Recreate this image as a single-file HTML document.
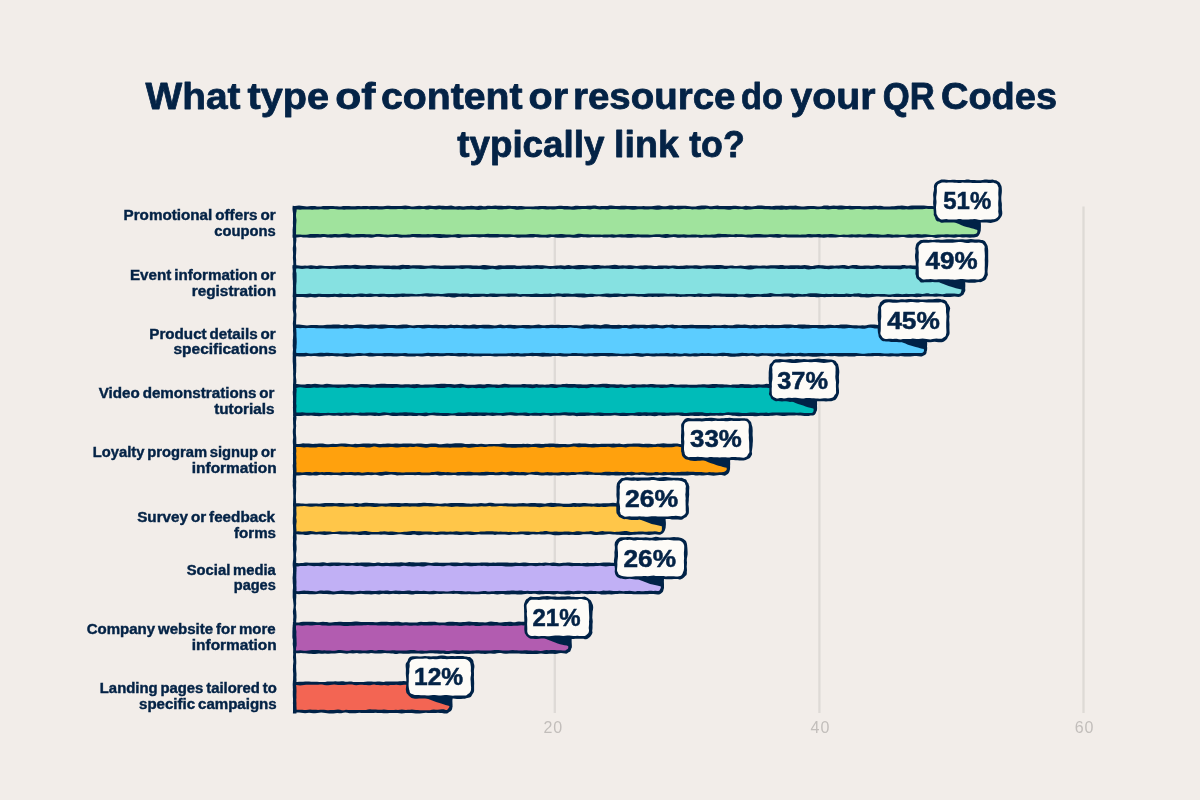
<!DOCTYPE html>
<html lang="en">
<head>
<meta charset="utf-8">
<title>What type of content or resource do your QR Codes typically link to?</title>
<style>
html,body{margin:0;padding:0;background:#f2ede9;}
body{width:1200px;height:800px;overflow:hidden;position:relative;font-family:"Liberation Sans",sans-serif;}
svg{position:absolute;left:0;top:0;display:block;}
text{font-family:"Liberation Sans",sans-serif;}
.title{font-weight:700;font-size:37.5px;fill:#042346;stroke:#042346;stroke-width:0.8px;stroke-linejoin:round;}
.cat{font-weight:700;font-size:14px;fill:#042346;stroke:#042346;stroke-width:0.4px;word-spacing:-1.2px;}
.pct{font-weight:700;font-size:23px;fill:#042346;stroke:#042346;stroke-width:0.5px;}
.tick{font-weight:400;font-size:16px;fill:#c2bebb;text-anchor:middle;letter-spacing:0.9px;}
</style>
</head>
<body>
<svg width="1200" height="800" viewBox="0 0 1200 800">
<defs><filter id="soft" x="-1%" y="-1%" width="102%" height="102%"><feTurbulence type="fractalNoise" baseFrequency="0.45" numOctaves="1" seed="3" result="n"/><feDisplacementMap in="SourceGraphic" in2="n" scale="1.4" xChannelSelector="R" yChannelSelector="G" result="d"/><feGaussianBlur in="d" stdDeviation="0.4"/></filter></defs>
<rect width="1200" height="800" fill="#f2ede9"/>
<g id="title">
<text class="title" y="108.5"><tspan x="145.50" textLength="95.00" lengthAdjust="spacingAndGlyphs">What</tspan> <tspan x="247.50" textLength="81.48" lengthAdjust="spacingAndGlyphs">type</tspan> <tspan x="335.30" textLength="40.18" lengthAdjust="spacingAndGlyphs">of</tspan> <tspan x="381.00" textLength="141.52" lengthAdjust="spacingAndGlyphs">content</tspan> <tspan x="528.50" textLength="39.50" lengthAdjust="spacingAndGlyphs">or</tspan> <tspan x="573.00" textLength="162.51" lengthAdjust="spacingAndGlyphs">resource</tspan> <tspan x="741.00" textLength="42.01" lengthAdjust="spacingAndGlyphs">do</tspan> <tspan x="790.50" textLength="84.98" lengthAdjust="spacingAndGlyphs">your</tspan> <tspan x="882.80" textLength="52.02" lengthAdjust="spacingAndGlyphs">QR</tspan> <tspan x="941.00" textLength="116.04" lengthAdjust="spacingAndGlyphs">Codes</tspan></text>
<text class="title" y="156.7"><tspan x="457.20" textLength="147.29" lengthAdjust="spacingAndGlyphs">typically</tspan> <tspan x="614.00" textLength="64.82" lengthAdjust="spacingAndGlyphs">link</tspan> <tspan x="689.20" textLength="55.57" lengthAdjust="spacingAndGlyphs">to?</tspan></text>
</g>
<g id="grid" stroke="#dedad6" stroke-width="2.3" stroke-linecap="butt">
<line x1="554.8" y1="206.5" x2="554.8" y2="713"/>
<line x1="819.4" y1="206.5" x2="819.4" y2="713"/>
<line x1="1083.5" y1="206.5" x2="1083.5" y2="713"/>
</g>
<g id="ticks">
<text class="tick" x="553.2" y="733.3">20</text>
<text class="tick" x="820.4" y="733.3">40</text>
<text class="tick" x="1084.5" y="733.3">60</text>
</g>
<g id="shapes" filter="url(#soft)">
<path d="M293.1 206.1 L295.0 206.1 L297.0 205.7 L299.0 205.6 L301.0 205.8 L303.0 206.0 L305.0 206.2 L307.0 206.4 L309.0 206.2 L311.0 206.1 L313.0 206.1 L315.0 206.1 L317.0 206.4 L319.0 206.6 L321.0 206.4 L323.0 206.1 L325.0 206.1 L327.0 206.1 L329.1 206.0 L331.1 205.9 L333.1 206.0 L335.1 206.2 L337.1 206.2 L339.1 206.4 L341.1 206.4 L343.1 206.1 L345.1 206.0 L347.1 206.0 L349.1 206.0 L351.1 206.2 L353.1 206.3 L355.1 206.2 L357.1 206.0 L359.1 206.0 L361.1 206.2 L363.1 206.0 L365.1 205.9 L367.1 206.1 L369.1 206.2 L371.1 206.1 L373.1 206.1 L375.1 206.1 L377.1 206.1 L379.1 206.2 L381.1 206.2 L383.1 206.2 L385.1 206.0 L387.1 205.7 L389.1 205.7 L391.1 206.0 L393.1 206.1 L395.1 206.1 L397.2 206.1 L399.2 206.0 L401.2 205.9 L403.2 205.7 L405.2 205.5 L407.2 205.7 L409.2 206.1 L411.2 206.4 L413.2 206.5 L415.2 206.2 L417.2 205.9 L419.2 205.7 L421.2 206.0 L423.2 206.2 L425.2 206.0 L427.2 205.7 L429.2 205.6 L431.2 205.8 L433.2 206.1 L435.2 206.1 L437.2 205.7 L439.2 205.6 L441.2 205.7 L443.2 205.8 L445.2 206.0 L447.2 206.0 L449.2 205.7 L451.2 205.6 L453.2 206.1 L455.2 206.4 L457.2 206.2 L459.2 206.1 L461.2 206.3 L463.2 206.5 L465.3 206.2 L467.3 206.0 L469.3 205.9 L471.3 205.8 L473.3 206.0 L475.3 206.3 L477.3 206.2 L479.3 205.8 L481.3 205.8 L483.3 206.2 L485.3 206.2 L487.3 205.8 L489.3 205.7 L491.3 205.9 L493.3 205.7 L495.3 205.6 L497.3 205.7 L499.3 205.7 L501.3 205.7 L503.3 205.9 L505.3 206.0 L507.3 205.8 L509.3 205.7 L511.3 205.9 L513.3 205.9 L515.3 206.0 L517.3 206.2 L519.3 206.1 L521.3 206.0 L523.3 206.3 L525.3 206.6 L527.3 206.6 L529.3 206.6 L531.3 206.5 L533.4 206.4 L535.4 206.2 L537.4 206.2 L539.4 206.1 L541.4 206.0 L543.4 205.9 L545.4 206.0 L547.4 206.2 L549.4 206.2 L551.4 206.2 L553.4 206.3 L555.4 206.2 L557.4 206.0 L559.4 205.8 L561.4 205.7 L563.4 206.0 L565.4 206.0 L567.4 206.0 L569.4 206.2 L571.4 206.4 L573.4 206.3 L575.4 205.8 L577.4 205.8 L579.4 206.0 L581.4 206.0 L583.4 206.1 L585.4 205.9 L587.4 205.7 L589.4 205.8 L591.4 205.8 L593.4 205.5 L595.4 205.6 L597.4 206.1 L599.4 206.2 L601.5 206.1 L603.5 206.1 L605.5 206.0 L607.5 205.9 L609.5 205.6 L611.5 205.5 L613.5 205.8 L615.5 205.9 L617.5 206.0 L619.5 206.0 L621.5 205.8 L623.5 205.7 L625.5 205.8 L627.5 206.0 L629.5 206.0 L631.5 206.1 L633.5 206.0 L635.5 206.0 L637.5 206.2 L639.5 206.3 L641.5 206.2 L643.5 206.0 L645.5 206.2 L647.5 206.3 L649.5 206.3 L651.5 206.2 L653.5 205.9 L655.5 205.7 L657.5 205.5 L659.5 205.5 L661.5 205.9 L663.5 206.3 L665.5 206.2 L667.5 205.9 L669.5 205.6 L671.6 205.5 L673.6 205.8 L675.6 206.1 L677.6 205.8 L679.6 205.7 L681.6 205.8 L683.6 205.7 L685.6 205.7 L687.6 205.9 L689.6 206.2 L691.6 206.5 L693.6 206.6 L695.6 206.5 L697.6 206.1 L699.6 205.7 L701.6 205.6 L703.6 205.6 L705.6 205.6 L707.6 205.8 L709.6 206.2 L711.6 206.2 L713.6 206.1 L715.6 205.7 L717.6 205.6 L719.6 206.0 L721.6 206.1 L723.6 206.0 L725.6 206.0 L727.6 206.1 L729.6 206.1 L731.6 205.9 L733.6 205.7 L735.6 205.8 L737.6 205.9 L739.7 206.3 L741.7 206.5 L743.7 206.2 L745.7 205.8 L747.7 205.9 L749.7 206.2 L751.7 206.4 L753.7 206.3 L755.7 206.0 L757.7 205.6 L759.7 205.5 L761.7 205.6 L763.7 205.8 L765.7 206.0 L767.7 206.0 L769.7 206.1 L771.7 206.2 L773.7 206.1 L775.7 205.8 L777.7 205.8 L779.7 205.8 L781.7 205.6 L783.7 205.7 L785.7 205.9 L787.7 206.0 L789.7 205.8 L791.7 205.7 L793.7 205.7 L795.7 205.6 L797.7 205.9 L799.7 206.3 L801.7 206.4 L803.7 206.4 L805.7 206.3 L807.8 206.1 L809.8 206.1 L811.8 206.1 L813.8 206.0 L815.8 206.2 L817.8 206.5 L819.8 206.5 L821.8 206.2 L823.8 205.6 L825.8 205.4 L827.8 205.6 L829.8 205.9 L831.8 205.8 L833.8 205.6 L835.8 205.7 L837.8 205.8 L839.8 205.5 L841.8 205.5 L843.8 205.7 L845.8 205.9 L847.8 205.9 L849.8 205.8 L851.8 206.0 L853.8 206.0 L855.8 205.9 L857.8 206.0 L859.8 206.1 L861.8 206.3 L863.8 206.2 L865.8 206.2 L867.8 206.2 L869.8 206.1 L871.8 206.0 L873.8 205.8 L875.9 205.8 L877.9 205.9 L879.9 205.8 L881.9 206.1 L883.9 206.4 L885.9 206.4 L887.9 206.6 L889.9 206.6 L891.9 206.3 L893.9 206.2 L895.9 206.0 L897.9 205.7 L899.9 205.7 L901.9 205.6 L903.9 205.7 L905.9 206.1 L907.9 206.2 L909.9 205.8 L911.9 205.5 L913.9 205.5 L915.9 205.6 L917.9 205.6 L919.9 205.4 L921.9 205.4 L923.9 205.5 L925.9 205.7 L927.9 206.0 L929.9 205.9 L931.9 206.0 L933.9 206.3 L935.9 206.2 L937.9 205.9 L939.9 205.9 L941.9 206.1 L944.0 206.2 L946.0 206.0 L948.0 205.7 L950.0 205.6 L952.0 205.7 L954.0 205.8 L956.0 206.1 L958.0 206.1 L960.0 205.9 L962.0 205.9 L964.0 206.3 L966.0 206.5 L968.0 206.4 L970.0 206.4 L972.0 206.5 L974.0 206.4 L976.0 206.0 L978.0 205.9 L978.9 206.2 L979.7 206.8 L980.0 207.7 L980.2 208.5 L980.3 210.5 L980.2 212.6 L980.2 214.6 L980.3 216.6 L980.5 218.7 L980.7 220.7 L980.7 222.8 L980.9 224.8 L980.9 226.8 L980.6 228.9 L980.5 230.9 L980.3 232.0 L980.1 233.1 L979.6 234.1 L979.0 235.1 L978.3 236.0 L977.3 236.7 L976.2 237.0 L975.1 237.3 L974.0 237.4 L972.0 237.4 L970.0 237.7 L968.0 237.6 L966.0 237.3 L964.0 237.5 L962.0 237.4 L960.0 237.0 L958.0 237.0 L956.0 237.4 L954.0 237.7 L952.0 237.6 L950.0 237.3 L948.0 237.3 L946.0 237.5 L944.0 237.2 L942.0 237.1 L940.0 237.4 L937.9 237.7 L935.9 237.9 L933.9 237.6 L931.9 237.1 L929.9 236.9 L927.9 237.0 L925.9 237.3 L923.9 237.6 L921.9 237.8 L919.9 237.8 L917.9 237.7 L915.9 237.6 L913.9 237.5 L911.9 237.7 L909.9 237.8 L907.9 237.7 L905.9 237.5 L903.9 237.1 L901.9 236.9 L899.9 237.3 L897.9 237.4 L895.9 237.4 L893.9 237.6 L891.9 237.7 L889.9 237.6 L887.9 237.4 L885.9 237.4 L883.9 237.5 L881.9 237.4 L879.9 237.5 L877.9 237.7 L875.9 237.6 L873.9 237.5 L871.9 237.6 L869.8 237.5 L867.8 237.4 L865.8 237.5 L863.8 237.4 L861.8 237.2 L859.8 237.2 L857.8 237.4 L855.8 237.4 L853.8 237.3 L851.8 237.4 L849.8 237.4 L847.8 237.2 L845.8 237.3 L843.8 237.3 L841.8 237.1 L839.8 237.1 L837.8 237.2 L835.8 237.4 L833.8 237.5 L831.8 237.6 L829.8 237.4 L827.8 237.3 L825.8 237.5 L823.8 237.7 L821.8 237.6 L819.8 237.4 L817.8 237.3 L815.8 237.2 L813.8 237.2 L811.8 237.4 L809.8 237.4 L807.8 237.3 L805.8 237.5 L803.8 237.6 L801.7 237.4 L799.7 237.4 L797.7 237.5 L795.7 237.5 L793.7 237.6 L791.7 237.4 L789.7 237.4 L787.7 237.6 L785.7 237.3 L783.7 237.1 L781.7 237.3 L779.7 237.7 L777.7 237.7 L775.7 237.4 L773.7 237.4 L771.7 237.2 L769.7 237.1 L767.7 237.3 L765.7 237.6 L763.7 237.6 L761.7 237.5 L759.7 237.5 L757.7 237.5 L755.7 237.4 L753.7 237.5 L751.7 237.7 L749.7 237.6 L747.7 237.4 L745.7 237.2 L743.7 237.1 L741.7 237.0 L739.7 237.0 L737.7 237.1 L735.6 237.2 L733.6 237.0 L731.6 236.9 L729.6 237.1 L727.6 237.3 L725.6 237.3 L723.6 237.3 L721.6 237.3 L719.6 237.4 L717.6 237.5 L715.6 237.7 L713.6 237.8 L711.6 237.6 L709.6 237.5 L707.6 237.6 L705.6 237.6 L703.6 237.5 L701.6 237.7 L699.6 237.7 L697.6 237.3 L695.6 237.4 L693.6 237.5 L691.6 237.5 L689.6 237.4 L687.6 237.4 L685.6 237.7 L683.6 237.6 L681.6 237.5 L679.6 237.7 L677.6 237.7 L675.6 237.2 L673.6 237.0 L671.6 237.2 L669.6 237.5 L667.5 237.7 L665.5 237.9 L663.5 237.8 L661.5 237.4 L659.5 237.1 L657.5 237.0 L655.5 237.1 L653.5 237.1 L651.5 237.2 L649.5 237.4 L647.5 237.5 L645.5 237.6 L643.5 237.6 L641.5 237.5 L639.5 237.3 L637.5 237.3 L635.5 237.4 L633.5 237.5 L631.5 237.7 L629.5 237.8 L627.5 237.7 L625.5 237.4 L623.5 237.5 L621.5 237.5 L619.5 237.3 L617.5 237.3 L615.5 237.6 L613.5 237.8 L611.5 237.5 L609.5 237.2 L607.5 237.5 L605.5 237.6 L603.5 237.4 L601.5 237.1 L599.5 237.2 L597.4 237.3 L595.4 237.2 L593.4 237.1 L591.4 237.3 L589.4 237.4 L587.4 237.4 L585.4 237.3 L583.4 237.2 L581.4 237.1 L579.4 237.5 L577.4 237.7 L575.4 237.8 L573.4 237.7 L571.4 237.4 L569.4 237.2 L567.4 237.3 L565.4 237.6 L563.4 237.8 L561.4 237.8 L559.4 237.7 L557.4 237.7 L555.4 237.6 L553.4 237.1 L551.4 237.0 L549.4 237.5 L547.4 237.7 L545.4 237.6 L543.4 237.4 L541.4 237.4 L539.4 237.4 L537.4 237.2 L535.4 237.1 L533.4 237.4 L531.3 237.4 L529.3 237.6 L527.3 237.6 L525.3 237.5 L523.3 237.5 L521.3 237.6 L519.3 237.8 L517.3 237.7 L515.3 237.3 L513.3 237.0 L511.3 237.1 L509.3 237.2 L507.3 237.4 L505.3 237.5 L503.3 237.2 L501.3 237.1 L499.3 237.3 L497.3 237.5 L495.3 237.5 L493.3 237.5 L491.3 237.5 L489.3 237.4 L487.3 237.2 L485.3 237.2 L483.3 237.1 L481.3 237.2 L479.3 237.4 L477.3 237.3 L475.3 237.1 L473.3 237.1 L471.3 237.1 L469.3 237.1 L467.3 237.2 L465.3 237.2 L463.2 237.2 L461.2 237.5 L459.2 237.9 L457.2 237.8 L455.2 237.3 L453.2 237.2 L451.2 237.3 L449.2 237.5 L447.2 237.7 L445.2 237.7 L443.2 237.7 L441.2 238.0 L439.2 238.0 L437.2 237.7 L435.2 237.4 L433.2 237.2 L431.2 237.2 L429.2 237.4 L427.2 237.6 L425.2 237.6 L423.2 237.5 L421.2 237.4 L419.2 237.5 L417.2 237.6 L415.2 237.3 L413.2 237.1 L411.2 237.3 L409.2 237.5 L407.2 237.6 L405.2 237.6 L403.2 237.6 L401.2 237.7 L399.2 237.6 L397.2 237.1 L395.1 237.0 L393.1 237.0 L391.1 237.1 L389.1 237.3 L387.1 237.4 L385.1 237.2 L383.1 237.1 L381.1 236.9 L379.1 236.7 L377.1 236.8 L375.1 237.1 L373.1 237.6 L371.1 237.7 L369.1 237.4 L367.1 237.3 L365.1 237.4 L363.1 237.3 L361.1 237.3 L359.1 237.4 L357.1 237.4 L355.1 237.4 L353.1 237.5 L351.1 237.6 L349.1 237.7 L347.1 237.5 L345.1 237.3 L343.1 237.3 L341.1 237.2 L339.1 237.4 L337.1 237.4 L335.1 237.3 L333.1 237.6 L331.1 237.7 L329.1 237.6 L327.1 237.4 L325.0 237.1 L323.0 237.1 L321.0 237.4 L319.0 237.6 L317.0 237.6 L315.0 237.8 L313.0 237.8 L311.0 237.8 L309.0 237.7 L307.0 237.5 L305.0 237.6 L303.0 237.4 L301.0 237.1 L299.0 237.2 L297.0 237.6 L295.0 237.8 L292.6 237.8 L292.5 235.4 L292.8 233.5 L292.9 231.5 L292.7 229.6 L292.8 227.6 L293.1 225.6 L293.3 223.7 L293.5 221.7 L293.6 219.7 L293.5 217.8 L293.3 215.8 L293.0 213.8 L292.9 211.9 L292.9 209.9 L292.9 208.0Z" fill="#042346"/>
<path d="M296.4 209.6 L298.1 209.6 L300.1 209.7 L302.1 209.5 L304.1 209.5 L306.1 209.5 L308.1 209.4 L310.1 209.5 L312.1 209.8 L314.1 209.6 L316.1 209.5 L318.1 209.5 L320.1 209.3 L322.1 209.3 L324.1 209.5 L326.1 209.5 L328.1 209.4 L330.1 209.0 L332.1 208.9 L334.1 209.1 L336.1 209.3 L338.1 209.4 L340.1 209.5 L342.1 209.6 L344.1 209.7 L346.1 209.6 L348.1 209.4 L350.1 209.4 L352.1 209.6 L354.1 209.6 L356.1 209.4 L358.1 209.2 L360.1 209.2 L362.1 209.3 L364.1 209.3 L366.1 209.2 L368.1 209.1 L370.1 209.4 L372.1 209.6 L374.1 209.4 L376.1 209.3 L378.1 209.4 L380.1 209.4 L382.1 209.4 L384.1 209.2 L386.1 209.1 L388.1 209.1 L390.1 209.3 L392.1 209.3 L394.1 209.2 L396.1 209.2 L398.1 209.1 L400.1 208.9 L402.1 209.0 L404.1 209.2 L406.1 209.2 L408.1 209.1 L410.1 209.1 L412.1 209.2 L414.1 209.3 L416.1 209.2 L418.1 209.3 L420.1 209.3 L422.1 209.0 L424.1 208.9 L426.1 209.4 L428.1 209.4 L430.1 209.0 L432.1 208.9 L434.1 209.3 L436.1 209.4 L438.1 209.2 L440.1 209.1 L442.1 209.4 L444.1 209.5 L446.1 209.4 L448.1 209.5 L450.1 209.5 L452.1 209.5 L454.1 209.4 L456.1 209.6 L458.1 209.7 L460.1 209.6 L462.1 209.7 L464.1 209.7 L466.1 209.6 L468.2 209.5 L470.2 209.4 L472.2 209.4 L474.2 209.5 L476.2 209.8 L478.2 209.9 L480.2 209.7 L482.2 209.5 L484.2 209.6 L486.2 209.4 L488.2 209.0 L490.2 208.9 L492.2 209.0 L494.2 209.0 L496.2 209.1 L498.2 209.4 L500.2 209.6 L502.2 209.4 L504.2 209.2 L506.2 209.2 L508.2 209.0 L510.2 208.8 L512.2 208.9 L514.2 209.3 L516.2 209.7 L518.2 209.7 L520.2 209.6 L522.2 209.4 L524.2 209.2 L526.2 209.1 L528.2 209.1 L530.2 209.1 L532.2 209.2 L534.2 209.3 L536.2 209.3 L538.2 209.4 L540.2 209.3 L542.2 209.1 L544.2 209.2 L546.2 209.6 L548.2 209.5 L550.2 209.3 L552.2 209.5 L554.2 209.4 L556.2 209.3 L558.2 209.1 L560.2 208.9 L562.2 208.9 L564.2 209.4 L566.2 209.6 L568.2 209.4 L570.2 209.5 L572.2 209.7 L574.2 209.8 L576.2 209.6 L578.2 209.3 L580.2 209.2 L582.2 209.1 L584.2 209.0 L586.2 209.1 L588.2 209.2 L590.2 209.4 L592.2 209.1 L594.2 208.8 L596.2 208.9 L598.2 209.3 L600.2 209.4 L602.2 209.3 L604.2 209.3 L606.2 209.4 L608.2 209.4 L610.2 209.0 L612.2 208.9 L614.2 208.9 L616.2 208.9 L618.2 209.3 L620.2 209.5 L622.2 209.4 L624.2 209.4 L626.2 209.2 L628.2 209.2 L630.2 209.6 L632.2 209.8 L634.2 209.8 L636.2 209.5 L638.2 209.2 L640.2 209.3 L642.2 209.3 L644.2 209.5 L646.2 209.5 L648.2 209.4 L650.2 209.3 L652.2 209.3 L654.2 209.5 L656.2 209.7 L658.2 209.8 L660.2 209.6 L662.2 209.3 L664.2 209.2 L666.2 209.2 L668.2 209.2 L670.2 209.6 L672.2 209.6 L674.2 209.1 L676.2 209.0 L678.2 209.4 L680.2 209.3 L682.2 208.9 L684.2 208.8 L686.2 208.9 L688.2 209.0 L690.2 209.1 L692.2 209.4 L694.2 209.3 L696.2 209.2 L698.2 209.4 L700.2 209.4 L702.2 209.3 L704.2 209.2 L706.2 208.8 L708.2 208.8 L710.2 209.2 L712.2 209.3 L714.2 209.1 L716.2 209.1 L718.2 209.2 L720.2 209.3 L722.2 209.2 L724.2 209.2 L726.2 209.4 L728.2 209.7 L730.2 209.7 L732.2 209.3 L734.2 209.0 L736.2 209.1 L738.2 209.3 L740.2 209.1 L742.2 209.0 L744.2 209.4 L746.2 209.7 L748.2 209.6 L750.2 209.4 L752.2 209.2 L754.2 209.0 L756.2 209.1 L758.2 209.1 L760.2 209.0 L762.2 209.0 L764.2 209.2 L766.2 209.2 L768.2 209.3 L770.2 209.6 L772.2 209.6 L774.2 209.7 L776.2 209.5 L778.2 209.5 L780.2 209.7 L782.2 209.7 L784.2 209.6 L786.2 209.7 L788.2 209.6 L790.2 209.3 L792.2 209.4 L794.2 209.5 L796.2 209.4 L798.2 209.4 L800.2 209.5 L802.2 209.5 L804.2 209.5 L806.2 209.5 L808.3 209.3 L810.3 209.0 L812.3 208.9 L814.3 209.0 L816.3 209.3 L818.3 209.2 L820.3 209.1 L822.3 209.1 L824.3 209.1 L826.3 209.2 L828.3 209.4 L830.3 209.3 L832.3 209.0 L834.3 209.0 L836.3 209.1 L838.3 209.4 L840.3 209.6 L842.3 209.4 L844.3 209.3 L846.3 209.1 L848.3 209.1 L850.3 209.4 L852.3 209.4 L854.3 209.3 L856.3 209.1 L858.3 209.0 L860.3 209.0 L862.3 209.2 L864.3 209.4 L866.3 209.3 L868.3 209.3 L870.3 209.5 L872.3 209.5 L874.3 209.2 L876.3 209.1 L878.3 209.4 L880.3 209.5 L882.3 209.6 L884.3 209.6 L886.3 209.6 L888.3 209.6 L890.3 209.5 L892.3 209.4 L894.3 209.4 L896.3 209.4 L898.3 209.3 L900.3 209.3 L902.3 209.6 L904.3 209.5 L906.3 209.3 L908.3 209.4 L910.3 209.6 L912.3 209.5 L914.3 209.3 L916.3 209.3 L918.3 209.2 L920.3 209.3 L922.3 209.3 L924.3 208.9 L926.3 208.8 L928.3 208.9 L930.3 209.0 L932.3 208.9 L934.3 209.0 L936.3 209.4 L938.3 209.5 L940.3 209.3 L942.3 209.3 L944.3 209.0 L946.3 209.0 L948.3 209.2 L950.3 209.4 L952.3 209.3 L954.3 209.2 L956.3 209.2 L958.3 209.2 L960.3 209.2 L962.3 209.0 L964.3 209.2 L966.3 209.3 L968.3 209.2 L970.3 209.2 L972.3 209.0 L974.3 208.9 L976.3 209.3 L977.0 209.7 L977.4 210.3 L977.3 212.4 L977.2 214.4 L977.3 216.5 L977.1 218.5 L977.0 220.6 L977.4 222.6 L977.7 224.7 L977.6 226.7 L977.3 228.8 L977.4 230.8 L977.3 231.9 L976.9 233.0 L975.9 233.7 L974.8 234.0 L973.8 234.2 L971.8 234.2 L969.8 234.2 L967.8 234.3 L965.8 234.3 L963.8 234.3 L961.8 234.3 L959.8 234.4 L957.8 234.5 L955.8 234.3 L953.8 234.4 L951.8 234.6 L949.8 234.4 L947.8 234.2 L945.8 234.3 L943.8 234.4 L941.8 234.4 L939.8 234.4 L937.8 234.6 L935.8 234.8 L933.8 235.0 L931.8 235.0 L929.8 234.8 L927.8 234.6 L925.8 234.3 L923.8 234.2 L921.8 234.4 L919.8 234.2 L917.8 234.0 L915.8 234.2 L913.8 234.4 L911.8 234.4 L909.8 234.2 L907.8 234.4 L905.8 234.7 L903.8 234.8 L901.8 234.8 L899.8 234.7 L897.8 234.6 L895.8 234.6 L893.8 234.7 L891.8 234.6 L889.8 234.2 L887.8 234.1 L885.8 234.5 L883.8 234.8 L881.8 234.8 L879.8 234.6 L877.8 234.3 L875.8 234.2 L873.8 234.3 L871.8 234.0 L869.8 233.7 L867.8 234.0 L865.8 234.4 L863.8 234.5 L861.8 234.4 L859.9 234.2 L857.9 234.3 L855.9 234.6 L853.9 234.5 L851.9 234.2 L849.9 234.4 L847.9 234.8 L845.9 234.8 L843.9 234.6 L841.9 234.7 L839.9 234.9 L837.9 234.8 L835.9 234.6 L833.9 234.3 L831.9 234.1 L829.9 234.0 L827.9 234.3 L825.9 234.3 L823.9 234.3 L821.9 234.4 L819.9 234.1 L817.9 234.0 L815.9 234.2 L813.9 234.2 L811.9 234.3 L809.9 234.1 L807.9 234.0 L805.9 234.4 L803.9 234.5 L801.9 234.6 L799.9 234.7 L797.9 234.6 L795.9 234.4 L793.9 234.4 L791.9 234.6 L789.9 234.6 L787.9 234.4 L785.9 234.3 L783.9 234.4 L781.9 234.5 L779.9 234.2 L777.9 234.0 L775.9 234.1 L773.9 234.3 L771.9 234.3 L769.9 234.3 L767.9 234.5 L765.9 234.6 L763.9 234.6 L761.9 234.3 L759.9 234.0 L757.9 234.0 L755.9 234.1 L753.9 234.3 L751.9 234.5 L749.9 234.5 L747.9 234.5 L745.9 234.7 L743.9 234.5 L741.9 234.2 L739.9 234.3 L737.9 234.2 L735.9 234.1 L733.9 234.4 L731.9 234.4 L729.9 234.3 L727.9 234.2 L725.9 234.0 L723.9 234.0 L721.9 234.1 L719.9 233.8 L717.9 233.8 L715.9 234.2 L713.9 234.4 L711.9 234.5 L709.9 234.7 L707.9 234.7 L705.9 234.5 L703.9 234.7 L701.9 234.9 L699.9 234.8 L697.9 234.7 L695.9 234.6 L693.9 234.4 L691.9 234.5 L689.9 234.8 L687.9 234.7 L685.9 234.4 L683.9 234.3 L681.9 234.4 L679.9 234.4 L677.9 234.4 L675.9 234.3 L673.9 234.3 L671.9 234.5 L669.9 234.4 L667.9 234.0 L665.9 234.0 L663.9 234.3 L661.9 234.4 L659.9 234.3 L657.9 234.3 L655.9 234.3 L653.9 234.6 L651.9 234.8 L649.9 234.7 L647.9 234.6 L645.9 234.5 L643.9 234.5 L641.9 234.4 L639.9 234.4 L637.9 234.3 L635.9 234.4 L634.0 234.3 L632.0 234.1 L630.0 234.1 L628.0 234.0 L626.0 234.2 L624.0 234.5 L622.0 234.3 L620.0 234.2 L618.0 234.6 L616.0 234.7 L614.0 234.4 L612.0 234.3 L610.0 234.4 L608.0 234.4 L606.0 234.4 L604.0 234.6 L602.0 234.7 L600.0 234.4 L598.0 234.4 L596.0 234.5 L594.0 234.6 L592.0 234.6 L590.0 234.4 L588.0 234.2 L586.0 234.2 L584.0 234.2 L582.0 234.0 L580.0 233.8 L578.0 233.8 L576.0 234.2 L574.0 234.7 L572.0 234.7 L570.0 234.5 L568.0 234.5 L566.0 234.5 L564.0 234.2 L562.0 234.0 L560.0 234.0 L558.0 234.2 L556.0 234.3 L554.0 234.5 L552.0 234.5 L550.0 234.3 L548.0 234.4 L546.0 234.7 L544.0 234.7 L542.0 234.7 L540.0 234.5 L538.0 234.3 L536.0 234.2 L534.0 234.1 L532.0 233.9 L530.0 233.9 L528.0 234.3 L526.0 234.6 L524.0 234.5 L522.0 234.4 L520.0 234.5 L518.0 234.6 L516.0 234.6 L514.0 234.7 L512.0 234.5 L510.0 234.2 L508.0 234.2 L506.0 234.3 L504.0 234.2 L502.0 234.3 L500.0 234.3 L498.0 234.1 L496.0 234.0 L494.0 234.0 L492.0 234.0 L490.0 233.9 L488.0 233.7 L486.0 234.0 L484.0 234.2 L482.0 234.2 L480.0 234.3 L478.0 234.2 L476.0 234.2 L474.0 234.2 L472.0 234.3 L470.0 234.4 L468.0 234.4 L466.0 234.4 L464.0 234.4 L462.0 234.5 L460.0 234.2 L458.0 234.0 L456.0 234.2 L454.0 234.6 L452.0 234.7 L450.0 234.6 L448.0 234.6 L446.0 234.5 L444.0 234.2 L442.0 234.2 L440.0 234.0 L438.0 233.9 L436.0 234.1 L434.0 234.1 L432.0 234.2 L430.0 234.2 L428.0 234.1 L426.0 234.2 L424.0 234.3 L422.0 234.3 L420.0 234.1 L418.0 233.9 L416.0 234.0 L414.0 234.0 L412.0 234.1 L410.0 234.4 L408.1 234.6 L406.1 234.8 L404.1 234.8 L402.1 234.8 L400.1 234.6 L398.1 234.2 L396.1 234.1 L394.1 234.2 L392.1 234.4 L390.1 234.6 L388.1 234.7 L386.1 234.6 L384.1 234.5 L382.1 234.3 L380.1 234.0 L378.1 233.9 L376.1 234.0 L374.1 234.4 L372.1 234.4 L370.1 234.3 L368.1 234.3 L366.1 234.3 L364.1 234.1 L362.1 234.0 L360.1 234.1 L358.1 234.0 L356.1 234.1 L354.1 234.4 L352.1 234.4 L350.1 234.0 L348.1 233.6 L346.1 233.6 L344.1 233.8 L342.1 234.0 L340.1 234.3 L338.1 234.3 L336.1 234.1 L334.1 234.0 L332.1 234.2 L330.1 234.3 L328.1 234.4 L326.1 234.3 L324.1 234.0 L322.1 234.1 L320.1 234.3 L318.1 234.1 L316.1 234.0 L314.1 234.1 L312.1 234.1 L310.1 234.1 L308.1 234.5 L306.1 234.7 L304.1 234.7 L302.1 234.7 L300.1 234.5 L298.1 234.4 L296.0 234.4 L295.7 232.2 L295.6 230.1 L295.5 228.1 L295.5 226.0 L295.4 223.9 L295.5 221.8 L295.9 219.7 L296.0 217.7 L295.8 215.6 L295.8 213.5 L296.3 211.4Z" fill="#a0e39d"/>
<path d="M292.6 265.1 L295.0 265.2 L297.0 265.3 L299.0 265.4 L301.0 265.7 L303.0 265.8 L305.0 265.6 L307.0 265.7 L309.0 265.6 L311.0 265.3 L313.0 265.4 L315.0 265.8 L317.0 265.9 L319.0 265.6 L321.0 265.4 L323.0 265.7 L325.0 266.0 L327.0 266.0 L329.0 266.0 L331.0 265.9 L333.0 265.9 L335.0 265.8 L337.0 265.5 L339.0 265.4 L341.0 265.3 L343.0 265.2 L345.0 265.1 L347.0 265.1 L349.0 265.2 L351.0 265.2 L353.0 264.9 L355.0 264.7 L357.0 264.9 L359.0 265.2 L360.9 265.4 L362.9 265.6 L364.9 265.5 L366.9 265.1 L368.9 264.9 L370.9 265.0 L372.9 265.2 L374.9 265.3 L376.9 265.4 L378.9 265.5 L380.9 265.6 L382.9 265.5 L384.9 265.6 L386.9 265.6 L388.9 265.5 L390.9 265.7 L392.9 265.6 L394.9 265.6 L396.9 265.8 L398.9 265.5 L400.9 264.9 L402.9 264.8 L404.9 265.0 L406.9 265.0 L408.9 265.1 L410.9 265.4 L412.9 265.3 L414.9 265.3 L416.9 265.2 L418.9 265.2 L420.9 265.2 L422.9 265.4 L424.9 265.7 L426.9 265.8 L428.9 265.7 L430.9 265.4 L432.9 265.2 L434.9 265.3 L436.9 265.5 L438.9 265.6 L440.9 265.7 L442.9 265.7 L444.9 265.4 L446.9 265.4 L448.9 265.4 L450.9 265.5 L452.9 265.5 L454.9 265.4 L456.9 265.4 L458.9 265.5 L460.9 265.3 L462.9 265.2 L464.9 265.2 L466.9 265.2 L468.9 265.2 L470.9 265.3 L472.9 265.5 L474.9 265.6 L476.9 265.6 L478.9 265.8 L480.9 265.5 L482.9 265.1 L484.9 265.0 L486.9 265.2 L488.9 265.6 L490.9 265.7 L492.9 265.7 L494.8 265.9 L496.8 265.8 L498.8 265.3 L500.8 265.3 L502.8 265.5 L504.8 265.5 L506.8 265.3 L508.8 265.2 L510.8 265.3 L512.8 265.3 L514.8 265.3 L516.8 265.7 L518.8 265.8 L520.8 265.7 L522.8 265.6 L524.8 265.5 L526.8 265.4 L528.8 265.3 L530.8 265.5 L532.8 265.6 L534.8 265.2 L536.8 265.1 L538.8 265.2 L540.8 265.3 L542.8 265.2 L544.8 265.4 L546.8 265.8 L548.8 265.9 L550.8 265.9 L552.8 265.9 L554.8 265.8 L556.8 265.6 L558.8 265.4 L560.8 265.3 L562.8 265.6 L564.8 265.7 L566.8 265.2 L568.8 265.1 L570.8 265.4 L572.8 265.7 L574.8 265.6 L576.8 265.2 L578.8 265.1 L580.8 265.1 L582.8 265.1 L584.8 265.2 L586.8 265.3 L588.8 265.6 L590.8 265.6 L592.8 265.3 L594.8 265.0 L596.8 264.9 L598.8 265.1 L600.8 265.4 L602.8 265.6 L604.8 265.8 L606.8 265.5 L608.8 265.4 L610.8 265.3 L612.8 265.1 L614.8 264.8 L616.8 265.0 L618.8 265.5 L620.8 265.6 L622.8 265.3 L624.8 265.4 L626.8 265.4 L628.7 265.3 L630.7 265.3 L632.7 265.4 L634.7 265.7 L636.7 265.9 L638.7 265.8 L640.7 265.6 L642.7 265.4 L644.7 265.2 L646.7 265.3 L648.7 265.5 L650.7 265.6 L652.7 265.7 L654.7 265.9 L656.7 265.9 L658.7 265.6 L660.7 265.5 L662.7 265.4 L664.7 265.4 L666.7 265.6 L668.7 265.7 L670.7 265.7 L672.7 265.6 L674.7 265.6 L676.7 265.8 L678.7 265.9 L680.7 265.8 L682.7 265.7 L684.7 265.5 L686.7 265.3 L688.7 265.4 L690.7 265.5 L692.7 265.4 L694.7 265.3 L696.7 265.2 L698.7 265.5 L700.7 265.8 L702.7 265.8 L704.7 265.5 L706.7 265.3 L708.7 265.2 L710.7 265.2 L712.7 265.3 L714.7 265.2 L716.7 265.0 L718.7 265.0 L720.7 265.0 L722.7 265.3 L724.7 265.7 L726.7 265.8 L728.7 265.7 L730.7 265.4 L732.7 265.6 L734.7 266.0 L736.7 266.0 L738.7 265.7 L740.7 265.5 L742.7 265.7 L744.7 266.0 L746.7 265.8 L748.7 265.4 L750.7 265.2 L752.7 265.4 L754.7 265.6 L756.7 265.6 L758.7 265.8 L760.7 265.7 L762.6 265.5 L764.6 265.6 L766.6 265.8 L768.6 265.6 L770.6 265.3 L772.6 265.2 L774.6 265.3 L776.6 265.2 L778.6 265.2 L780.6 265.1 L782.6 265.1 L784.6 265.5 L786.6 265.6 L788.6 265.4 L790.6 265.3 L792.6 265.3 L794.6 265.2 L796.6 265.2 L798.6 265.3 L800.6 265.4 L802.6 265.2 L804.6 265.1 L806.6 265.3 L808.6 265.6 L810.6 265.9 L812.6 266.0 L814.6 265.6 L816.6 265.3 L818.6 265.1 L820.6 265.2 L822.6 265.3 L824.6 265.6 L826.6 265.8 L828.6 265.7 L830.6 265.6 L832.6 265.6 L834.6 265.7 L836.6 265.6 L838.6 265.4 L840.6 265.2 L842.6 265.0 L844.6 265.1 L846.6 265.4 L848.6 265.9 L850.6 265.6 L852.6 265.1 L854.6 264.9 L856.6 265.0 L858.6 265.4 L860.6 265.7 L862.6 265.7 L864.6 265.6 L866.6 265.5 L868.6 265.6 L870.6 265.8 L872.6 265.8 L874.6 265.5 L876.6 265.1 L878.6 265.1 L880.6 265.4 L882.6 265.7 L884.6 265.6 L886.6 265.5 L888.6 265.4 L890.6 265.4 L892.6 265.4 L894.6 265.4 L896.5 265.4 L898.5 265.6 L900.5 265.5 L902.5 265.1 L904.5 265.1 L906.5 265.5 L908.5 265.5 L910.5 265.2 L912.5 265.4 L914.5 265.6 L916.5 265.4 L918.5 265.5 L920.5 265.8 L922.5 265.7 L924.5 265.6 L926.5 265.5 L928.5 265.6 L930.5 265.5 L932.5 265.4 L934.5 265.4 L936.5 265.2 L938.5 264.9 L940.5 265.1 L942.5 265.3 L944.5 265.1 L946.5 265.2 L948.5 265.4 L950.5 265.2 L952.5 265.4 L954.5 265.8 L956.5 265.6 L958.5 265.2 L960.5 265.2 L962.5 265.4 L963.5 265.6 L964.2 266.2 L964.8 267.0 L965.2 267.9 L965.3 270.0 L965.3 272.0 L965.3 274.1 L965.2 276.1 L965.2 278.1 L965.2 280.2 L965.2 282.2 L965.3 284.2 L965.3 286.3 L965.2 288.3 L965.3 290.4 L965.0 291.5 L964.4 292.5 L964.0 293.5 L963.5 294.5 L962.6 295.2 L961.6 295.8 L960.7 296.4 L959.6 296.8 L958.5 297.0 L956.5 296.8 L954.5 296.6 L952.5 296.8 L950.5 297.0 L948.5 297.0 L946.5 297.0 L944.5 297.0 L942.5 296.6 L940.5 296.4 L938.5 296.6 L936.5 296.8 L934.5 296.7 L932.5 296.5 L930.5 296.5 L928.5 296.6 L926.5 296.6 L924.5 296.5 L922.5 296.6 L920.5 296.9 L918.5 297.1 L916.5 297.2 L914.5 297.0 L912.5 296.8 L910.5 296.8 L908.5 297.0 L906.5 297.0 L904.5 297.0 L902.5 297.1 L900.5 297.0 L898.5 297.0 L896.5 297.0 L894.5 296.9 L892.5 296.8 L890.6 297.0 L888.6 297.0 L886.6 296.8 L884.6 296.8 L882.6 296.7 L880.6 296.7 L878.6 296.6 L876.6 296.5 L874.6 296.8 L872.6 297.1 L870.6 297.3 L868.6 297.4 L866.6 297.4 L864.6 297.2 L862.6 297.3 L860.6 297.2 L858.6 296.8 L856.6 296.8 L854.6 296.7 L852.6 296.6 L850.6 296.9 L848.6 296.9 L846.6 296.8 L844.6 296.9 L842.6 297.0 L840.6 297.0 L838.6 297.0 L836.6 297.1 L834.6 296.9 L832.6 296.8 L830.6 297.0 L828.6 296.9 L826.6 297.0 L824.6 297.3 L822.6 297.1 L820.6 296.9 L818.6 297.2 L816.6 297.3 L814.6 297.0 L812.6 296.9 L810.6 296.9 L808.6 296.8 L806.6 296.6 L804.6 296.7 L802.6 296.7 L800.6 296.7 L798.6 296.8 L796.6 296.9 L794.6 297.3 L792.6 297.4 L790.6 296.9 L788.6 296.6 L786.6 296.6 L784.6 296.6 L782.6 296.7 L780.6 296.6 L778.6 296.6 L776.6 296.6 L774.6 296.5 L772.6 296.6 L770.6 296.9 L768.6 297.0 L766.6 297.0 L764.6 297.0 L762.6 297.0 L760.6 296.8 L758.7 296.8 L756.7 296.8 L754.7 297.0 L752.7 297.3 L750.7 297.5 L748.7 297.5 L746.7 297.2 L744.7 297.1 L742.7 296.8 L740.7 296.7 L738.7 296.7 L736.7 296.9 L734.7 297.2 L732.7 297.1 L730.7 296.9 L728.7 297.1 L726.7 297.1 L724.7 296.7 L722.7 296.7 L720.7 296.7 L718.7 296.6 L716.7 296.6 L714.7 296.5 L712.7 296.6 L710.7 296.9 L708.7 297.0 L706.7 296.8 L704.7 296.7 L702.7 296.8 L700.7 296.9 L698.7 296.8 L696.7 296.8 L694.7 296.9 L692.7 296.7 L690.7 296.4 L688.7 296.6 L686.7 296.8 L684.7 296.7 L682.7 296.8 L680.7 296.9 L678.7 296.8 L676.7 296.9 L674.7 296.6 L672.7 296.4 L670.7 296.4 L668.7 296.6 L666.7 296.5 L664.7 296.6 L662.7 296.7 L660.7 296.7 L658.7 297.0 L656.7 296.8 L654.7 296.8 L652.7 296.9 L650.7 296.8 L648.7 296.8 L646.7 297.0 L644.7 296.9 L642.7 296.7 L640.7 296.6 L638.7 296.7 L636.7 296.6 L634.7 296.3 L632.7 296.2 L630.7 296.2 L628.7 296.3 L626.7 296.7 L624.8 296.9 L622.8 296.7 L620.8 296.5 L618.8 296.7 L616.8 297.0 L614.8 297.1 L612.8 297.1 L610.8 297.2 L608.8 297.3 L606.8 297.0 L604.8 296.8 L602.8 296.7 L600.8 296.4 L598.8 296.3 L596.8 296.4 L594.8 296.6 L592.8 296.9 L590.8 297.0 L588.8 297.0 L586.8 297.3 L584.8 297.5 L582.8 297.5 L580.8 297.3 L578.8 297.2 L576.8 296.9 L574.8 296.8 L572.8 296.7 L570.8 296.7 L568.8 296.7 L566.8 296.8 L564.8 297.1 L562.8 297.0 L560.8 296.6 L558.8 296.6 L556.8 296.6 L554.8 296.7 L552.8 296.8 L550.8 296.9 L548.8 296.9 L546.8 296.9 L544.8 297.0 L542.8 297.1 L540.8 297.1 L538.8 297.1 L536.8 297.1 L534.8 297.1 L532.8 297.1 L530.8 296.9 L528.8 296.8 L526.8 296.7 L524.8 296.5 L522.8 296.5 L520.8 296.9 L518.8 296.8 L516.8 296.6 L514.8 296.8 L512.8 296.8 L510.8 296.7 L508.8 296.9 L506.8 296.7 L504.8 296.5 L502.8 296.6 L500.8 296.5 L498.8 296.7 L496.8 297.0 L494.8 297.1 L492.8 296.9 L490.9 296.7 L488.9 296.7 L486.9 296.9 L484.9 296.7 L482.9 296.6 L480.9 296.8 L478.9 297.1 L476.9 297.0 L474.9 296.9 L472.9 297.0 L470.9 297.2 L468.9 297.1 L466.9 296.8 L464.9 296.8 L462.9 296.9 L460.9 296.7 L458.9 296.7 L456.9 297.1 L454.9 297.4 L452.9 297.4 L450.9 297.2 L448.9 296.8 L446.9 296.9 L444.9 296.7 L442.9 296.5 L440.9 296.5 L438.9 296.3 L436.9 296.3 L434.9 296.4 L432.9 296.6 L430.9 296.7 L428.9 296.7 L426.9 296.5 L424.9 296.3 L422.9 296.4 L420.9 296.3 L418.9 296.4 L416.9 296.6 L414.9 296.5 L412.9 296.4 L410.9 296.6 L408.9 296.8 L406.9 296.7 L404.9 296.8 L402.9 296.9 L400.9 296.8 L398.9 297.0 L396.9 297.3 L394.9 297.2 L392.9 296.9 L390.9 297.0 L388.9 297.2 L386.9 297.0 L384.9 296.7 L382.9 296.8 L380.9 297.1 L378.9 296.9 L376.9 296.6 L374.9 296.6 L372.9 296.8 L370.9 297.0 L368.9 297.0 L366.9 296.9 L364.9 296.8 L362.9 296.9 L360.9 297.0 L359.0 296.8 L357.0 296.8 L355.0 297.1 L353.0 297.3 L351.0 297.1 L349.0 296.9 L347.0 297.0 L345.0 297.0 L343.0 296.9 L341.0 297.2 L339.0 297.3 L337.0 297.0 L335.0 296.8 L333.0 296.9 L331.0 297.1 L329.0 297.3 L327.0 297.2 L325.0 296.9 L323.0 297.0 L321.0 296.9 L319.0 296.8 L317.0 297.2 L315.0 297.4 L313.0 297.3 L311.0 297.0 L309.0 297.2 L307.0 297.4 L305.0 297.3 L303.0 297.1 L301.0 297.0 L299.0 296.9 L297.0 297.1 L295.0 297.1 L292.8 297.0 L292.9 294.9 L293.2 292.9 L293.4 291.0 L293.2 289.0 L293.0 287.0 L293.2 285.1 L293.3 283.1 L293.0 281.1 L292.8 279.2 L292.8 277.2 L293.0 275.3 L293.2 273.3 L293.0 271.3 L292.7 269.4 L292.4 267.4Z" fill="#042346"/>
<path d="M295.7 268.5 L298.1 268.4 L300.1 268.7 L302.1 268.9 L304.1 268.8 L306.1 268.5 L308.1 268.5 L310.1 268.9 L312.1 268.9 L314.1 268.7 L316.1 268.9 L318.1 268.9 L320.1 268.8 L322.1 268.5 L324.1 268.4 L326.1 268.6 L328.1 268.8 L330.1 268.9 L332.1 268.8 L334.1 268.8 L336.1 268.9 L338.1 268.8 L340.1 268.7 L342.1 268.8 L344.2 268.8 L346.2 268.7 L348.2 268.8 L350.2 268.7 L352.2 268.5 L354.2 268.7 L356.2 269.0 L358.2 269.0 L360.2 268.8 L362.2 268.8 L364.2 268.8 L366.2 268.8 L368.2 268.9 L370.2 269.0 L372.2 268.8 L374.2 268.7 L376.2 268.8 L378.2 268.8 L380.2 268.5 L382.2 268.6 L384.2 268.9 L386.2 269.0 L388.2 269.1 L390.2 269.1 L392.2 269.2 L394.2 269.2 L396.2 269.2 L398.2 269.3 L400.2 269.4 L402.2 269.1 L404.2 268.8 L406.2 268.9 L408.2 269.0 L410.2 268.7 L412.2 268.5 L414.2 268.6 L416.2 268.8 L418.2 268.8 L420.2 268.9 L422.2 269.0 L424.2 268.9 L426.2 268.7 L428.2 268.5 L430.2 268.4 L432.2 268.5 L434.2 268.7 L436.2 268.7 L438.2 268.7 L440.3 268.9 L442.3 269.1 L444.3 268.9 L446.3 269.0 L448.3 269.1 L450.3 269.1 L452.3 269.1 L454.3 268.9 L456.3 268.6 L458.3 268.5 L460.3 268.7 L462.3 268.9 L464.3 268.8 L466.3 268.6 L468.3 268.6 L470.3 268.8 L472.3 269.0 L474.3 268.9 L476.3 268.9 L478.3 269.1 L480.3 269.1 L482.3 269.3 L484.3 269.5 L486.3 269.4 L488.3 269.3 L490.3 269.0 L492.3 268.8 L494.3 269.1 L496.3 269.4 L498.3 269.4 L500.3 269.3 L502.3 269.1 L504.3 269.0 L506.3 269.1 L508.3 269.1 L510.3 269.0 L512.3 269.0 L514.3 268.8 L516.3 268.9 L518.3 269.1 L520.3 268.9 L522.3 268.7 L524.3 268.8 L526.3 269.0 L528.3 269.1 L530.3 269.0 L532.3 268.8 L534.4 268.8 L536.4 268.8 L538.4 268.7 L540.4 268.9 L542.4 268.9 L544.4 268.6 L546.4 268.5 L548.4 268.8 L550.4 269.0 L552.4 268.8 L554.4 268.8 L556.4 269.0 L558.4 268.8 L560.4 268.7 L562.4 269.1 L564.4 269.3 L566.4 269.1 L568.4 268.9 L570.4 268.9 L572.4 268.8 L574.4 268.9 L576.4 269.2 L578.4 269.3 L580.4 269.2 L582.4 268.9 L584.4 268.9 L586.4 268.8 L588.4 268.5 L590.4 268.6 L592.4 269.0 L594.4 269.2 L596.4 269.0 L598.4 268.8 L600.4 268.7 L602.4 268.6 L604.4 268.4 L606.4 268.4 L608.4 268.5 L610.4 268.8 L612.4 269.1 L614.4 269.1 L616.4 269.1 L618.4 269.0 L620.4 268.8 L622.4 268.7 L624.4 268.6 L626.4 268.7 L628.5 268.9 L630.5 269.1 L632.5 268.9 L634.5 268.6 L636.5 268.6 L638.5 268.7 L640.5 269.0 L642.5 269.2 L644.5 269.3 L646.5 269.1 L648.5 268.8 L650.5 268.8 L652.5 268.9 L654.5 269.1 L656.5 269.0 L658.5 268.9 L660.5 269.0 L662.5 268.9 L664.5 268.6 L666.5 268.7 L668.5 268.9 L670.5 268.5 L672.5 268.3 L674.5 268.7 L676.5 269.1 L678.5 269.0 L680.5 269.0 L682.5 269.1 L684.5 269.0 L686.5 268.8 L688.5 268.7 L690.5 268.6 L692.5 268.6 L694.5 268.7 L696.5 268.8 L698.5 269.0 L700.5 268.9 L702.5 268.6 L704.5 268.5 L706.5 268.7 L708.5 268.6 L710.5 268.5 L712.5 268.8 L714.5 269.1 L716.5 269.1 L718.5 269.0 L720.5 268.7 L722.5 268.7 L724.6 269.0 L726.6 268.9 L728.6 268.5 L730.6 268.3 L732.6 268.5 L734.6 268.6 L736.6 268.4 L738.6 268.4 L740.6 268.5 L742.6 268.7 L744.6 268.9 L746.6 269.2 L748.6 269.4 L750.6 269.4 L752.6 269.2 L754.6 268.8 L756.6 268.5 L758.6 268.5 L760.6 268.5 L762.6 268.4 L764.6 268.5 L766.6 268.8 L768.6 268.7 L770.6 268.5 L772.6 268.6 L774.6 268.6 L776.6 268.7 L778.6 268.9 L780.6 268.9 L782.6 268.9 L784.6 268.9 L786.6 268.8 L788.6 269.0 L790.6 269.0 L792.6 269.0 L794.6 269.0 L796.6 268.8 L798.6 268.9 L800.6 269.1 L802.6 268.9 L804.6 268.8 L806.6 269.2 L808.6 269.4 L810.6 269.3 L812.6 269.1 L814.6 268.9 L816.6 268.6 L818.7 268.4 L820.7 268.4 L822.7 268.7 L824.7 269.0 L826.7 269.1 L828.7 269.2 L830.7 269.0 L832.7 268.7 L834.7 268.6 L836.7 268.6 L838.7 268.7 L840.7 268.5 L842.7 268.4 L844.7 268.8 L846.7 269.1 L848.7 268.9 L850.7 268.6 L852.7 268.6 L854.7 268.7 L856.7 268.9 L858.7 269.1 L860.7 269.1 L862.7 268.9 L864.7 268.9 L866.7 268.7 L868.7 268.7 L870.7 269.0 L872.7 269.0 L874.7 268.8 L876.7 268.7 L878.7 268.6 L880.7 268.6 L882.7 268.9 L884.7 269.1 L886.7 268.9 L888.7 268.7 L890.7 268.9 L892.7 269.1 L894.7 269.0 L896.7 268.9 L898.7 269.2 L900.7 269.2 L902.7 268.8 L904.7 268.6 L906.7 268.7 L908.7 268.6 L910.7 268.8 L912.7 269.1 L914.8 269.2 L916.8 268.8 L918.8 268.5 L920.8 268.3 L922.8 268.7 L924.8 269.2 L926.8 269.4 L928.8 269.3 L930.8 269.1 L932.8 269.2 L934.8 269.3 L936.8 269.3 L938.8 269.2 L940.8 269.0 L942.8 268.7 L944.8 268.8 L946.8 269.0 L948.8 268.7 L950.8 268.5 L952.8 268.7 L954.8 268.9 L956.8 268.7 L958.8 268.6 L960.8 269.0 L961.3 269.3 L961.7 269.8 L961.7 271.8 L961.6 273.9 L961.5 275.9 L961.8 278.0 L962.1 280.0 L961.8 282.1 L961.7 284.1 L961.8 286.2 L961.6 288.2 L961.4 290.2 L961.2 291.2 L960.9 292.2 L960.4 293.2 L959.5 293.8 L958.3 294.0 L956.3 293.8 L954.3 293.5 L952.3 293.5 L950.3 293.6 L948.3 293.5 L946.3 293.6 L944.3 294.0 L942.3 294.3 L940.3 294.1 L938.3 293.8 L936.3 293.6 L934.3 293.7 L932.3 294.0 L930.3 293.9 L928.3 293.3 L926.3 293.3 L924.3 293.8 L922.3 294.1 L920.3 293.8 L918.3 293.5 L916.3 293.6 L914.3 293.9 L912.3 293.9 L910.3 294.0 L908.3 294.0 L906.3 293.8 L904.3 294.0 L902.3 294.3 L900.3 294.1 L898.3 293.7 L896.3 293.7 L894.3 294.0 L892.3 294.2 L890.3 294.4 L888.3 294.4 L886.3 294.2 L884.3 294.1 L882.3 294.1 L880.3 294.0 L878.3 293.9 L876.3 294.0 L874.3 293.9 L872.3 293.8 L870.3 293.9 L868.3 293.9 L866.3 293.7 L864.3 293.9 L862.3 293.9 L860.3 293.4 L858.3 293.2 L856.3 293.4 L854.3 293.5 L852.3 293.9 L850.3 294.0 L848.3 293.7 L846.3 293.6 L844.3 293.9 L842.3 294.1 L840.3 294.1 L838.3 294.0 L836.3 293.7 L834.3 293.7 L832.3 294.0 L830.3 294.1 L828.3 293.9 L826.3 293.8 L824.3 294.0 L822.3 293.9 L820.3 293.7 L818.3 293.5 L816.3 293.3 L814.3 293.2 L812.3 293.2 L810.3 293.3 L808.3 293.6 L806.3 293.9 L804.3 294.1 L802.3 294.2 L800.3 294.0 L798.3 293.8 L796.3 293.8 L794.3 293.9 L792.2 293.5 L790.2 293.4 L788.2 293.5 L786.2 293.6 L784.2 293.6 L782.2 293.7 L780.2 293.9 L778.2 294.0 L776.2 293.9 L774.2 293.7 L772.2 293.3 L770.2 293.1 L768.2 293.4 L766.2 293.7 L764.2 293.8 L762.2 294.0 L760.2 294.2 L758.2 294.1 L756.2 293.9 L754.2 293.9 L752.2 294.0 L750.2 294.0 L748.2 293.8 L746.2 293.8 L744.2 294.2 L742.2 294.3 L740.2 294.3 L738.2 294.2 L736.2 293.8 L734.2 293.8 L732.2 293.8 L730.2 293.7 L728.2 293.8 L726.2 293.7 L724.2 293.7 L722.2 293.7 L720.2 293.5 L718.2 293.5 L716.2 293.6 L714.2 293.5 L712.2 293.4 L710.2 293.7 L708.2 294.0 L706.2 294.0 L704.2 294.0 L702.2 293.8 L700.2 293.5 L698.2 293.6 L696.2 294.0 L694.2 294.0 L692.2 293.9 L690.2 294.0 L688.2 294.1 L686.2 294.1 L684.2 294.2 L682.2 294.2 L680.2 294.2 L678.2 294.1 L676.2 293.8 L674.2 293.7 L672.2 293.7 L670.2 293.8 L668.2 293.9 L666.2 293.7 L664.2 293.5 L662.2 293.6 L660.2 293.5 L658.2 293.6 L656.2 293.5 L654.2 293.4 L652.2 293.4 L650.2 293.4 L648.2 293.6 L646.2 293.8 L644.2 293.9 L642.2 293.9 L640.2 294.0 L638.2 294.0 L636.2 293.9 L634.2 293.8 L632.2 293.8 L630.2 293.8 L628.2 293.8 L626.2 293.7 L624.2 294.0 L622.2 294.0 L620.2 293.7 L618.2 293.4 L616.2 293.4 L614.2 293.4 L612.2 293.7 L610.2 293.8 L608.2 293.6 L606.2 293.6 L604.2 293.8 L602.2 294.0 L600.2 294.2 L598.2 294.3 L596.2 294.2 L594.2 294.1 L592.2 293.8 L590.2 293.8 L588.2 294.1 L586.2 294.1 L584.2 293.6 L582.2 293.4 L580.2 293.5 L578.2 293.6 L576.2 293.5 L574.2 293.8 L572.2 293.9 L570.2 293.7 L568.2 293.5 L566.2 293.5 L564.2 293.6 L562.2 293.7 L560.2 293.4 L558.2 293.2 L556.2 293.4 L554.2 293.9 L552.2 293.9 L550.2 293.6 L548.2 293.7 L546.2 293.8 L544.2 293.8 L542.2 293.9 L540.2 294.1 L538.2 293.8 L536.2 293.6 L534.2 293.7 L532.2 293.9 L530.2 294.1 L528.2 294.0 L526.2 294.0 L524.2 294.0 L522.2 294.1 L520.2 294.2 L518.2 294.0 L516.2 293.6 L514.2 293.5 L512.2 293.6 L510.2 293.6 L508.2 293.5 L506.2 293.7 L504.2 293.8 L502.2 293.7 L500.2 293.8 L498.2 293.8 L496.2 293.8 L494.2 293.6 L492.2 293.4 L490.2 293.6 L488.2 293.9 L486.2 294.0 L484.2 293.8 L482.2 293.8 L480.2 293.8 L478.2 293.7 L476.2 293.7 L474.2 293.8 L472.2 293.9 L470.2 293.9 L468.2 293.6 L466.2 293.5 L464.2 293.5 L462.2 293.6 L460.1 293.8 L458.1 293.6 L456.1 293.3 L454.1 293.3 L452.1 293.3 L450.1 293.2 L448.1 293.3 L446.1 293.6 L444.1 293.8 L442.1 293.9 L440.1 293.9 L438.1 293.8 L436.1 293.8 L434.1 293.8 L432.1 293.6 L430.1 293.4 L428.1 293.3 L426.1 293.2 L424.1 293.4 L422.1 293.8 L420.1 293.9 L418.1 294.0 L416.1 294.2 L414.1 294.1 L412.1 293.8 L410.1 293.7 L408.1 293.8 L406.1 293.7 L404.1 293.5 L402.1 293.6 L400.1 293.8 L398.1 293.8 L396.1 293.8 L394.1 294.0 L392.1 294.1 L390.1 294.0 L388.1 294.0 L386.1 294.1 L384.1 293.8 L382.1 293.7 L380.1 293.8 L378.1 293.9 L376.1 293.9 L374.1 293.9 L372.1 293.7 L370.1 293.6 L368.1 293.8 L366.1 293.9 L364.1 293.8 L362.1 293.6 L360.1 293.5 L358.1 293.7 L356.1 293.9 L354.1 294.0 L352.1 294.2 L350.1 294.0 L348.1 293.8 L346.1 294.0 L344.1 294.1 L342.1 293.7 L340.1 293.6 L338.1 293.9 L336.1 294.0 L334.1 293.8 L332.1 293.9 L330.1 294.0 L328.1 293.9 L326.1 293.9 L324.1 293.9 L322.1 293.9 L320.1 293.7 L318.1 293.7 L316.1 294.0 L314.1 294.1 L312.1 293.9 L310.1 293.6 L308.1 293.7 L306.1 293.9 L304.1 294.0 L302.1 294.1 L300.1 294.0 L298.1 293.9 L295.9 293.9 L295.8 291.7 L295.8 289.6 L295.9 287.5 L296.0 285.4 L296.2 283.4 L296.5 281.3 L296.5 279.2 L296.5 277.1 L296.5 275.0 L296.4 273.0 L295.9 270.9Z" fill="#86e1e1"/>
<path d="M292.9 324.7 L295.0 324.6 L297.0 324.4 L299.0 324.4 L301.0 324.7 L303.0 324.9 L305.0 325.2 L307.0 325.4 L309.0 325.3 L311.0 325.1 L313.0 325.1 L315.0 325.1 L317.0 325.1 L319.0 325.3 L321.0 325.2 L323.0 325.2 L325.0 325.0 L327.0 324.7 L329.0 324.7 L331.0 324.8 L333.0 324.6 L335.0 324.5 L337.0 324.5 L339.0 324.6 L341.0 325.0 L343.0 325.0 L345.0 324.6 L347.0 324.5 L349.0 324.9 L351.0 325.1 L353.0 324.9 L355.0 324.7 L356.9 324.6 L358.9 324.5 L360.9 324.5 L362.9 324.7 L364.9 324.9 L366.9 324.9 L368.9 324.7 L370.9 324.6 L372.9 324.5 L374.9 324.6 L376.9 324.8 L378.9 324.8 L380.9 324.6 L382.9 324.5 L384.9 324.5 L386.9 324.7 L388.9 325.0 L390.9 325.0 L392.9 325.0 L394.9 325.1 L396.9 325.2 L398.9 325.1 L400.9 324.8 L402.9 324.6 L404.9 324.4 L406.9 324.5 L408.9 324.9 L410.9 325.3 L412.9 325.4 L414.9 325.2 L416.9 324.9 L418.9 324.9 L420.9 324.9 L422.9 324.9 L424.9 324.8 L426.9 324.7 L428.9 324.8 L430.9 325.1 L432.9 325.0 L434.9 324.8 L436.9 324.8 L438.9 325.0 L440.9 325.1 L442.9 324.9 L444.9 325.1 L446.9 325.3 L448.9 324.9 L450.9 324.6 L452.9 324.9 L454.9 324.9 L456.9 324.8 L458.9 324.9 L460.9 325.2 L462.9 325.1 L464.9 324.8 L466.9 325.0 L468.9 325.2 L470.9 325.0 L472.9 324.6 L474.9 324.6 L476.9 324.9 L478.9 325.0 L480.9 324.9 L482.8 324.7 L484.8 324.7 L486.8 324.7 L488.8 324.7 L490.8 324.9 L492.8 325.2 L494.8 325.4 L496.8 325.2 L498.8 324.8 L500.8 324.6 L502.8 324.9 L504.8 325.2 L506.8 325.0 L508.8 324.8 L510.8 324.8 L512.8 324.9 L514.8 325.0 L516.8 325.2 L518.8 325.3 L520.8 325.2 L522.8 325.0 L524.8 324.9 L526.8 324.9 L528.8 325.1 L530.8 325.3 L532.8 325.3 L534.8 325.1 L536.8 324.8 L538.8 324.6 L540.8 324.9 L542.8 325.2 L544.8 325.2 L546.8 325.1 L548.8 325.1 L550.8 324.8 L552.8 324.8 L554.8 324.9 L556.8 324.7 L558.8 324.8 L560.8 325.0 L562.8 325.0 L564.8 325.1 L566.8 325.1 L568.8 324.9 L570.8 325.0 L572.8 325.2 L574.8 325.3 L576.8 325.3 L578.8 325.5 L580.8 325.5 L582.8 325.1 L584.8 324.6 L586.8 324.4 L588.8 324.6 L590.8 324.8 L592.8 324.8 L594.8 324.6 L596.8 324.7 L598.8 325.0 L600.8 325.2 L602.8 324.8 L604.8 324.3 L606.8 324.3 L608.8 324.6 L610.7 324.9 L612.7 324.9 L614.7 324.9 L616.7 324.9 L618.7 324.8 L620.7 325.0 L622.7 325.3 L624.7 325.1 L626.7 325.1 L628.7 325.3 L630.7 325.0 L632.7 324.6 L634.7 324.6 L636.7 324.7 L638.7 324.8 L640.7 324.8 L642.7 324.7 L644.7 324.8 L646.7 325.0 L648.7 325.0 L650.7 324.8 L652.7 324.6 L654.7 324.5 L656.7 324.6 L658.7 325.0 L660.7 325.3 L662.7 325.3 L664.7 325.0 L666.7 324.8 L668.7 324.9 L670.7 324.8 L672.7 324.6 L674.7 324.9 L676.7 325.1 L678.7 325.2 L680.7 325.2 L682.7 325.0 L684.7 324.9 L686.7 325.1 L688.7 325.1 L690.7 324.7 L692.7 324.7 L694.7 324.9 L696.7 324.9 L698.7 325.0 L700.7 325.0 L702.7 325.0 L704.7 324.9 L706.7 324.9 L708.7 325.0 L710.7 325.2 L712.7 325.2 L714.7 325.1 L716.7 325.2 L718.7 325.3 L720.7 325.2 L722.7 325.1 L724.7 324.8 L726.7 325.0 L728.7 325.2 L730.7 325.2 L732.7 325.2 L734.7 324.8 L736.6 324.4 L738.6 324.5 L740.6 324.8 L742.6 324.7 L744.6 324.6 L746.6 324.7 L748.6 325.0 L750.6 325.2 L752.6 325.0 L754.6 324.8 L756.6 325.1 L758.6 325.2 L760.6 325.1 L762.6 325.1 L764.6 325.0 L766.6 324.8 L768.6 325.0 L770.6 324.9 L772.6 324.8 L774.6 325.0 L776.6 325.1 L778.6 325.1 L780.6 325.0 L782.6 324.7 L784.6 324.6 L786.6 324.6 L788.6 324.6 L790.6 324.6 L792.6 324.8 L794.6 325.0 L796.6 324.9 L798.6 324.6 L800.6 324.6 L802.6 324.5 L804.6 324.6 L806.6 324.7 L808.6 324.7 L810.6 324.9 L812.6 324.9 L814.6 324.9 L816.6 325.1 L818.6 325.1 L820.6 325.0 L822.6 325.0 L824.6 325.2 L826.6 325.1 L828.6 324.7 L830.6 324.7 L832.6 325.1 L834.6 325.2 L836.6 325.1 L838.6 325.0 L840.6 324.6 L842.6 324.4 L844.6 324.4 L846.6 324.5 L848.6 324.8 L850.6 324.9 L852.6 325.2 L854.6 325.2 L856.6 325.3 L858.6 325.5 L860.6 325.4 L862.5 325.2 L864.5 325.4 L866.5 325.3 L868.5 324.8 L870.5 324.5 L872.5 324.4 L874.5 324.4 L876.5 324.8 L878.5 325.2 L880.5 325.2 L882.5 324.8 L884.5 324.5 L886.5 324.3 L888.5 324.4 L890.5 324.6 L892.5 324.8 L894.5 325.0 L896.5 325.2 L898.5 325.2 L900.5 325.0 L902.5 324.7 L904.5 324.7 L906.5 325.0 L908.5 325.2 L910.5 325.3 L912.5 325.4 L914.5 325.2 L916.5 324.7 L918.5 324.7 L920.5 324.8 L922.5 324.9 L924.5 324.8 L925.5 324.9 L926.4 325.5 L926.8 326.4 L926.7 327.4 L926.6 329.4 L926.9 331.5 L927.2 333.5 L927.3 335.5 L927.3 337.6 L927.1 339.6 L926.8 341.7 L926.8 343.7 L926.9 345.7 L927.2 347.8 L927.1 349.8 L926.7 350.9 L926.6 352.0 L926.4 353.2 L925.8 354.2 L924.9 355.0 L923.8 355.5 L922.8 356.0 L921.7 356.4 L920.5 356.4 L918.5 356.3 L916.5 355.9 L914.5 355.9 L912.5 356.2 L910.5 356.6 L908.5 356.6 L906.5 356.4 L904.5 356.4 L902.5 356.2 L900.5 356.1 L898.5 356.4 L896.5 356.4 L894.5 356.2 L892.5 356.3 L890.5 356.6 L888.5 356.6 L886.5 356.2 L884.5 356.1 L882.5 356.3 L880.5 356.2 L878.5 356.1 L876.5 356.0 L874.5 356.1 L872.5 356.2 L870.5 356.2 L868.5 356.3 L866.5 356.2 L864.5 356.1 L862.5 356.1 L860.5 356.0 L858.5 355.9 L856.6 356.1 L854.6 356.5 L852.6 356.6 L850.6 356.6 L848.6 356.4 L846.6 356.2 L844.6 356.3 L842.6 356.4 L840.6 356.5 L838.6 356.4 L836.6 356.2 L834.6 356.1 L832.6 356.3 L830.6 356.3 L828.6 356.1 L826.6 356.1 L824.6 356.2 L822.6 356.2 L820.6 356.2 L818.6 356.5 L816.6 356.7 L814.6 356.8 L812.6 356.8 L810.6 356.5 L808.6 356.3 L806.6 356.2 L804.6 356.4 L802.6 356.6 L800.6 356.3 L798.6 356.1 L796.6 356.2 L794.6 356.1 L792.6 356.1 L790.6 356.3 L788.6 356.4 L786.6 356.4 L784.6 356.5 L782.6 356.5 L780.6 356.4 L778.6 356.2 L776.6 356.1 L774.6 356.3 L772.6 356.4 L770.6 356.2 L768.6 355.9 L766.6 355.8 L764.6 355.8 L762.6 355.8 L760.6 356.1 L758.6 356.4 L756.6 356.4 L754.6 356.0 L752.6 355.8 L750.6 355.8 L748.6 356.0 L746.6 356.2 L744.6 356.1 L742.6 356.1 L740.6 356.3 L738.6 356.4 L736.6 356.5 L734.6 356.7 L732.6 356.8 L730.7 356.7 L728.7 356.4 L726.7 355.9 L724.7 356.0 L722.7 356.3 L720.7 356.1 L718.7 356.1 L716.7 356.3 L714.7 356.3 L712.7 356.0 L710.7 356.0 L708.7 356.1 L706.7 356.1 L704.7 356.0 L702.7 356.0 L700.7 356.1 L698.7 356.2 L696.7 356.5 L694.7 356.5 L692.7 356.2 L690.7 356.4 L688.7 356.4 L686.7 356.2 L684.7 356.1 L682.7 356.2 L680.7 356.4 L678.7 356.4 L676.7 356.3 L674.7 356.4 L672.7 356.5 L670.7 356.5 L668.7 356.4 L666.7 356.2 L664.7 356.2 L662.7 356.3 L660.7 356.3 L658.7 356.3 L656.7 356.3 L654.7 356.4 L652.7 356.5 L650.7 356.3 L648.7 356.1 L646.7 356.0 L644.7 356.3 L642.7 356.7 L640.7 356.7 L638.7 356.4 L636.7 356.2 L634.7 356.1 L632.7 356.0 L630.7 356.1 L628.7 356.3 L626.7 356.2 L624.7 356.3 L622.7 356.3 L620.7 356.1 L618.7 356.1 L616.7 356.2 L614.7 356.3 L612.7 356.3 L610.7 356.3 L608.7 356.4 L606.8 356.2 L604.8 356.1 L602.8 356.1 L600.8 356.1 L598.8 356.2 L596.8 356.5 L594.8 356.5 L592.8 356.2 L590.8 356.1 L588.8 356.2 L586.8 356.5 L584.8 356.6 L582.8 356.2 L580.8 355.9 L578.8 356.0 L576.8 356.1 L574.8 356.1 L572.8 356.0 L570.8 355.9 L568.8 356.1 L566.8 356.4 L564.8 356.4 L562.8 356.4 L560.8 356.2 L558.8 355.9 L556.8 355.9 L554.8 356.0 L552.8 356.1 L550.8 356.4 L548.8 356.5 L546.8 356.4 L544.8 356.5 L542.8 356.7 L540.8 356.5 L538.8 356.2 L536.8 356.0 L534.8 356.1 L532.8 356.2 L530.8 356.0 L528.8 355.9 L526.8 356.1 L524.8 356.5 L522.8 356.6 L520.8 356.5 L518.8 356.3 L516.8 356.2 L514.8 356.5 L512.8 356.6 L510.8 356.3 L508.8 356.1 L506.8 356.2 L504.8 356.3 L502.8 356.2 L500.8 356.2 L498.8 356.3 L496.8 356.5 L494.8 356.4 L492.8 356.2 L490.8 356.1 L488.8 356.1 L486.8 356.1 L484.8 355.9 L482.8 356.1 L480.9 356.4 L478.9 356.3 L476.9 356.2 L474.9 356.3 L472.9 356.4 L470.9 356.2 L468.9 356.0 L466.9 356.2 L464.9 356.4 L462.9 356.3 L460.9 356.5 L458.9 356.4 L456.9 356.2 L454.9 356.1 L452.9 356.1 L450.9 356.0 L448.9 355.8 L446.9 355.8 L444.9 355.9 L442.9 356.2 L440.9 356.3 L438.9 356.3 L436.9 356.1 L434.9 356.2 L432.9 356.5 L430.9 356.4 L428.9 356.1 L426.9 356.1 L424.9 356.2 L422.9 356.4 L420.9 356.4 L418.9 356.2 L416.9 356.1 L414.9 356.4 L412.9 356.5 L410.9 356.4 L408.9 356.4 L406.9 356.4 L404.9 356.2 L402.9 356.0 L400.9 356.1 L398.9 356.3 L396.9 356.4 L394.9 356.4 L392.9 356.5 L390.9 356.3 L388.9 356.2 L386.9 356.3 L384.9 356.4 L382.9 356.3 L380.9 356.0 L378.9 356.0 L376.9 356.1 L374.9 356.3 L372.9 356.4 L370.9 356.6 L368.9 356.5 L366.9 356.1 L364.9 355.8 L362.9 355.8 L360.9 356.0 L358.9 356.0 L356.9 356.0 L355.0 356.3 L353.0 356.4 L351.0 356.4 L349.0 356.7 L347.0 356.9 L345.0 356.7 L343.0 356.4 L341.0 356.2 L339.0 356.3 L337.0 356.5 L335.0 356.3 L333.0 355.9 L331.0 356.1 L329.0 356.3 L327.0 356.1 L325.0 356.3 L323.0 356.5 L321.0 356.4 L319.0 356.4 L317.0 356.2 L315.0 356.0 L313.0 356.1 L311.0 356.3 L309.0 356.1 L307.0 356.1 L305.0 356.5 L303.0 356.6 L301.0 356.5 L299.0 356.4 L297.0 356.3 L295.0 356.4 L292.9 356.4 L293.1 354.3 L293.2 352.4 L293.2 350.4 L293.2 348.4 L293.2 346.5 L293.5 344.5 L293.5 342.6 L293.3 340.6 L293.2 338.6 L293.2 336.7 L293.4 334.7 L293.3 332.8 L293.0 330.8 L293.2 328.8 L293.1 326.9Z" fill="#042346"/>
<path d="M296.0 328.1 L298.1 328.1 L300.1 328.3 L302.1 327.9 L304.1 327.9 L306.1 328.2 L308.1 327.9 L310.1 327.9 L312.1 328.0 L314.1 328.0 L316.1 328.2 L318.1 328.3 L320.1 328.3 L322.1 328.2 L324.1 328.3 L326.1 328.5 L328.1 328.6 L330.1 328.6 L332.1 328.5 L334.1 328.4 L336.1 328.5 L338.1 328.4 L340.1 328.2 L342.2 328.3 L344.2 328.5 L346.2 328.4 L348.2 328.3 L350.2 328.4 L352.2 328.4 L354.2 328.0 L356.2 328.0 L358.2 328.1 L360.2 328.2 L362.2 328.3 L364.2 328.5 L366.2 328.6 L368.2 328.7 L370.2 328.6 L372.2 328.6 L374.2 328.3 L376.2 328.1 L378.2 328.4 L380.2 328.7 L382.2 328.7 L384.2 328.6 L386.2 328.2 L388.2 328.0 L390.2 328.0 L392.2 328.1 L394.2 328.3 L396.2 328.5 L398.2 328.4 L400.2 328.4 L402.2 328.4 L404.2 328.3 L406.2 328.2 L408.2 327.9 L410.2 327.7 L412.2 328.0 L414.2 328.2 L416.2 328.0 L418.2 327.8 L420.2 328.0 L422.2 328.4 L424.2 328.5 L426.2 328.2 L428.2 328.1 L430.2 328.1 L432.3 328.2 L434.3 328.2 L436.3 328.3 L438.3 328.4 L440.3 328.2 L442.3 328.2 L444.3 328.5 L446.3 328.5 L448.3 328.3 L450.3 328.0 L452.3 328.1 L454.3 328.3 L456.3 328.1 L458.3 328.0 L460.3 328.0 L462.3 328.3 L464.3 328.6 L466.3 328.6 L468.3 328.5 L470.3 328.4 L472.3 328.5 L474.3 328.6 L476.3 328.7 L478.3 328.5 L480.3 328.1 L482.3 328.2 L484.3 328.5 L486.3 328.5 L488.3 328.4 L490.3 328.6 L492.3 328.5 L494.3 328.3 L496.3 328.2 L498.3 328.1 L500.3 328.1 L502.3 328.3 L504.3 328.2 L506.3 328.1 L508.3 328.2 L510.3 328.3 L512.3 328.4 L514.3 328.7 L516.3 328.6 L518.3 328.3 L520.4 328.1 L522.4 328.1 L524.4 328.3 L526.4 328.5 L528.4 328.6 L530.4 328.4 L532.4 328.3 L534.4 328.3 L536.4 328.2 L538.4 328.2 L540.4 328.2 L542.4 328.0 L544.4 328.0 L546.4 328.3 L548.4 328.3 L550.4 328.1 L552.4 328.0 L554.4 328.0 L556.4 328.1 L558.4 328.2 L560.4 328.1 L562.4 328.2 L564.4 328.1 L566.4 328.0 L568.4 327.7 L570.4 327.5 L572.4 327.8 L574.4 328.0 L576.4 328.0 L578.4 328.2 L580.4 328.5 L582.4 328.7 L584.4 328.7 L586.4 328.5 L588.4 328.4 L590.4 328.3 L592.4 328.1 L594.4 328.4 L596.4 328.6 L598.4 328.6 L600.4 328.7 L602.4 328.6 L604.4 328.5 L606.4 328.4 L608.4 328.5 L610.5 328.6 L612.5 328.7 L614.5 328.7 L616.5 328.8 L618.5 328.7 L620.5 328.5 L622.5 328.0 L624.5 327.9 L626.5 328.1 L628.5 328.4 L630.5 328.7 L632.5 328.6 L634.5 328.2 L636.5 328.3 L638.5 328.4 L640.5 328.1 L642.5 328.0 L644.5 328.5 L646.5 328.4 L648.5 328.1 L650.5 328.3 L652.5 328.5 L654.5 328.3 L656.5 328.1 L658.5 328.1 L660.5 328.3 L662.5 328.4 L664.5 328.2 L666.5 327.8 L668.5 327.6 L670.5 327.8 L672.5 328.3 L674.5 328.4 L676.5 328.2 L678.5 328.1 L680.5 328.0 L682.5 328.2 L684.5 328.6 L686.5 328.5 L688.5 328.2 L690.5 328.2 L692.5 328.2 L694.5 328.2 L696.5 328.5 L698.5 328.6 L700.6 328.5 L702.6 328.6 L704.6 328.6 L706.6 328.6 L708.6 328.7 L710.6 328.6 L712.6 328.1 L714.6 327.9 L716.6 328.1 L718.6 328.0 L720.6 327.9 L722.6 328.1 L724.6 328.3 L726.6 328.2 L728.6 328.1 L730.6 328.2 L732.6 328.2 L734.6 328.3 L736.6 328.3 L738.6 328.1 L740.6 327.9 L742.6 327.9 L744.6 327.9 L746.6 328.0 L748.6 328.3 L750.6 328.4 L752.6 328.3 L754.6 328.4 L756.6 328.4 L758.6 328.3 L760.6 328.3 L762.6 327.9 L764.6 327.8 L766.6 328.0 L768.6 328.2 L770.6 328.2 L772.6 328.3 L774.6 328.3 L776.6 328.3 L778.6 328.3 L780.6 328.1 L782.6 327.9 L784.6 327.9 L786.6 328.2 L788.7 328.3 L790.7 327.9 L792.7 327.8 L794.7 328.0 L796.7 328.1 L798.7 328.2 L800.7 328.5 L802.7 328.7 L804.7 328.5 L806.7 328.4 L808.7 328.5 L810.7 328.3 L812.7 328.0 L814.7 327.9 L816.7 328.1 L818.7 328.4 L820.7 328.4 L822.7 328.5 L824.7 328.4 L826.7 328.3 L828.7 328.2 L830.7 328.0 L832.7 328.1 L834.7 328.1 L836.7 328.1 L838.7 328.2 L840.7 328.3 L842.7 328.4 L844.7 328.4 L846.7 328.2 L848.7 328.0 L850.7 328.1 L852.7 328.3 L854.7 328.5 L856.7 328.4 L858.7 328.2 L860.7 328.5 L862.7 328.8 L864.7 328.7 L866.7 328.3 L868.7 327.8 L870.7 327.8 L872.7 328.0 L874.7 328.4 L876.7 328.6 L878.8 328.6 L880.8 328.4 L882.8 328.0 L884.8 327.9 L886.8 328.0 L888.8 328.0 L890.8 328.0 L892.8 327.9 L894.8 327.9 L896.8 327.9 L898.8 327.7 L900.8 327.8 L902.8 328.0 L904.8 328.1 L906.8 328.0 L908.8 327.9 L910.8 328.0 L912.8 328.2 L914.8 328.2 L916.8 328.3 L918.8 328.6 L920.8 328.5 L922.8 328.2 L923.5 328.5 L923.7 329.3 L923.6 331.3 L923.9 333.3 L924.1 335.4 L924.1 337.4 L924.0 339.5 L923.8 341.5 L923.5 343.6 L923.4 345.6 L923.6 347.7 L923.9 349.7 L924.0 350.9 L923.4 352.0 L922.5 352.7 L921.4 353.0 L920.3 352.9 L918.3 352.9 L916.3 353.1 L914.3 353.0 L912.3 353.1 L910.3 353.1 L908.3 352.9 L906.3 352.9 L904.3 353.0 L902.3 353.1 L900.3 353.3 L898.3 353.4 L896.3 353.4 L894.3 353.4 L892.3 353.3 L890.3 353.3 L888.3 353.4 L886.3 353.4 L884.3 353.4 L882.3 353.3 L880.3 353.0 L878.3 352.9 L876.3 353.0 L874.3 353.1 L872.3 353.1 L870.3 353.3 L868.3 353.3 L866.3 353.5 L864.3 353.8 L862.3 353.8 L860.3 353.5 L858.3 353.2 L856.3 353.0 L854.3 353.0 L852.3 353.1 L850.3 353.0 L848.3 353.0 L846.3 352.9 L844.3 352.9 L842.3 353.0 L840.3 353.0 L838.3 353.0 L836.3 353.0 L834.3 353.1 L832.3 353.1 L830.3 353.1 L828.3 353.2 L826.3 353.4 L824.3 353.2 L822.3 353.0 L820.3 353.1 L818.3 353.1 L816.3 353.1 L814.3 353.1 L812.3 353.0 L810.3 352.9 L808.3 353.0 L806.3 353.2 L804.3 353.2 L802.3 352.9 L800.3 352.7 L798.3 353.0 L796.3 353.3 L794.3 353.2 L792.3 353.1 L790.3 353.0 L788.3 352.8 L786.3 353.0 L784.3 353.4 L782.3 353.4 L780.3 353.3 L778.3 353.0 L776.3 353.2 L774.3 353.4 L772.3 353.3 L770.3 353.3 L768.3 353.2 L766.3 353.2 L764.2 353.2 L762.2 353.1 L760.2 353.3 L758.2 353.6 L756.2 353.6 L754.2 353.3 L752.2 353.1 L750.2 353.3 L748.2 353.3 L746.2 353.1 L744.2 353.0 L742.2 352.8 L740.2 352.9 L738.2 353.3 L736.2 353.5 L734.2 353.4 L732.2 353.4 L730.2 353.2 L728.2 353.0 L726.2 353.0 L724.2 352.8 L722.2 352.7 L720.2 352.9 L718.2 353.3 L716.2 353.6 L714.2 353.5 L712.2 353.4 L710.2 353.2 L708.2 353.0 L706.2 353.2 L704.2 353.2 L702.2 353.1 L700.2 353.3 L698.2 353.5 L696.2 353.3 L694.2 353.2 L692.2 353.4 L690.2 353.7 L688.2 353.6 L686.2 353.3 L684.2 353.3 L682.2 353.7 L680.2 353.7 L678.2 353.4 L676.2 353.2 L674.2 353.1 L672.2 353.4 L670.2 353.4 L668.2 353.1 L666.2 353.1 L664.2 353.2 L662.2 353.2 L660.2 353.3 L658.2 353.4 L656.2 353.3 L654.2 353.4 L652.2 353.5 L650.2 353.5 L648.2 353.3 L646.2 353.2 L644.2 353.5 L642.2 353.6 L640.2 353.2 L638.2 352.9 L636.2 353.0 L634.2 353.3 L632.2 353.6 L630.2 353.7 L628.2 353.5 L626.2 353.4 L624.2 353.7 L622.2 353.8 L620.2 353.7 L618.2 353.5 L616.2 353.4 L614.2 353.3 L612.2 353.1 L610.2 352.9 L608.2 352.9 L606.2 353.0 L604.2 353.0 L602.2 353.1 L600.2 353.1 L598.2 353.1 L596.2 352.9 L594.2 352.9 L592.2 353.2 L590.2 353.3 L588.2 353.3 L586.2 353.5 L584.2 353.5 L582.2 353.3 L580.2 353.2 L578.2 353.2 L576.2 353.0 L574.2 352.9 L572.2 353.1 L570.2 353.5 L568.2 353.6 L566.2 353.6 L564.2 353.5 L562.2 353.2 L560.2 353.0 L558.2 353.2 L556.2 353.4 L554.2 353.3 L552.2 353.2 L550.2 353.2 L548.2 353.1 L546.2 352.9 L544.2 352.7 L542.2 352.8 L540.2 352.9 L538.2 353.0 L536.2 353.0 L534.2 352.9 L532.2 352.8 L530.2 353.0 L528.2 353.3 L526.2 353.3 L524.2 353.2 L522.2 353.4 L520.2 353.4 L518.2 353.1 L516.2 353.1 L514.2 353.2 L512.2 353.1 L510.2 353.2 L508.2 353.3 L506.2 353.5 L504.2 353.6 L502.2 353.5 L500.2 353.4 L498.2 353.5 L496.2 353.4 L494.2 353.6 L492.2 353.8 L490.2 353.6 L488.2 353.5 L486.2 353.6 L484.2 353.4 L482.2 353.4 L480.2 353.5 L478.2 353.4 L476.2 353.4 L474.2 353.4 L472.2 353.2 L470.2 353.3 L468.2 353.4 L466.2 353.1 L464.2 352.9 L462.2 352.9 L460.2 352.9 L458.2 353.0 L456.2 353.3 L454.2 353.3 L452.1 353.1 L450.1 353.0 L448.1 353.0 L446.1 353.0 L444.1 353.2 L442.1 353.2 L440.1 353.2 L438.1 353.0 L436.1 352.9 L434.1 353.0 L432.1 353.1 L430.1 352.9 L428.1 352.8 L426.1 353.0 L424.1 353.3 L422.1 353.6 L420.1 353.6 L418.1 353.5 L416.1 353.5 L414.1 353.4 L412.1 353.4 L410.1 353.6 L408.1 353.5 L406.1 353.0 L404.1 353.0 L402.1 353.2 L400.1 353.3 L398.1 353.3 L396.1 353.3 L394.1 353.2 L392.1 353.0 L390.1 352.9 L388.1 353.0 L386.1 353.1 L384.1 353.1 L382.1 353.2 L380.1 353.3 L378.1 353.3 L376.1 353.3 L374.1 353.3 L372.1 353.0 L370.1 352.8 L368.1 353.1 L366.1 353.3 L364.1 353.4 L362.1 353.2 L360.1 352.9 L358.1 352.9 L356.1 353.3 L354.1 353.5 L352.1 353.4 L350.1 353.3 L348.1 353.3 L346.1 353.1 L344.1 353.2 L342.1 353.5 L340.1 353.4 L338.1 353.2 L336.1 353.2 L334.1 353.3 L332.1 353.1 L330.1 352.9 L328.1 352.7 L326.1 352.7 L324.1 352.9 L322.1 352.8 L320.1 352.8 L318.1 353.0 L316.1 353.2 L314.1 353.2 L312.1 353.4 L310.1 353.5 L308.1 353.2 L306.1 352.8 L304.1 352.9 L302.1 353.1 L300.1 353.1 L298.1 353.1 L296.2 353.1 L296.0 351.1 L296.0 349.0 L296.1 347.0 L296.3 344.9 L296.4 342.8 L296.4 340.7 L296.5 338.6 L296.4 336.6 L296.4 334.5 L296.4 332.4 L296.2 330.3Z" fill="#5ccdff"/>
<path d="M293.0 384.3 L295.0 384.1 L297.0 384.0 L299.0 384.2 L301.0 384.4 L303.0 384.6 L305.0 384.4 L307.0 384.0 L309.0 384.0 L311.0 384.2 L313.0 384.0 L315.0 383.8 L317.0 383.9 L319.0 384.2 L321.0 384.5 L323.0 384.5 L325.0 384.1 L327.0 383.8 L329.0 383.9 L331.0 384.3 L333.0 384.4 L335.0 384.5 L337.0 384.5 L339.0 384.4 L341.0 384.6 L343.0 384.6 L345.0 384.5 L346.9 384.3 L348.9 384.1 L350.9 384.3 L352.9 384.3 L354.9 384.4 L356.9 384.5 L358.9 384.4 L360.9 384.1 L362.9 384.0 L364.9 384.0 L366.9 384.0 L368.9 384.2 L370.9 384.5 L372.9 384.6 L374.9 384.4 L376.9 384.1 L378.9 383.9 L380.9 383.7 L382.9 383.7 L384.9 383.7 L386.9 383.9 L388.9 383.9 L390.9 384.0 L392.9 384.1 L394.9 384.0 L396.9 384.1 L398.9 384.3 L400.9 384.5 L402.9 384.4 L404.9 384.2 L406.9 384.2 L408.9 384.3 L410.9 384.4 L412.9 384.3 L414.9 384.2 L416.9 384.1 L418.9 384.2 L420.9 384.7 L422.9 384.7 L424.9 384.4 L426.9 384.4 L428.9 384.5 L430.9 384.6 L432.9 384.4 L434.9 384.2 L436.9 384.1 L438.9 384.0 L440.9 383.8 L442.9 383.8 L444.9 383.8 L446.9 383.9 L448.9 383.9 L450.8 384.0 L452.8 384.3 L454.8 384.4 L456.8 384.3 L458.8 384.0 L460.8 383.8 L462.8 384.0 L464.8 384.4 L466.8 384.7 L468.8 384.8 L470.8 384.8 L472.8 384.8 L474.8 384.8 L476.8 384.6 L478.8 384.3 L480.8 384.2 L482.8 384.4 L484.8 384.4 L486.8 383.9 L488.8 383.9 L490.8 384.2 L492.8 384.4 L494.8 384.6 L496.8 384.6 L498.8 384.7 L500.8 384.6 L502.8 384.1 L504.8 383.8 L506.8 384.1 L508.8 384.3 L510.8 384.5 L512.8 384.5 L514.8 384.6 L516.8 384.6 L518.8 384.6 L520.8 384.5 L522.8 384.1 L524.8 384.1 L526.8 384.3 L528.8 384.2 L530.8 384.3 L532.8 384.4 L534.8 384.2 L536.8 384.1 L538.8 384.4 L540.8 384.4 L542.8 384.6 L544.8 384.7 L546.8 384.6 L548.8 384.4 L550.8 384.1 L552.8 384.1 L554.7 384.3 L556.7 384.4 L558.7 384.5 L560.7 384.4 L562.7 384.1 L564.7 383.9 L566.7 383.8 L568.7 384.0 L570.7 384.1 L572.7 383.9 L574.7 384.0 L576.7 384.2 L578.7 384.2 L580.7 384.3 L582.7 384.4 L584.7 384.5 L586.7 384.5 L588.7 384.3 L590.7 384.0 L592.7 384.1 L594.7 384.4 L596.7 384.5 L598.7 384.3 L600.7 384.0 L602.7 383.8 L604.7 383.7 L606.7 383.7 L608.7 384.1 L610.7 384.3 L612.7 384.2 L614.7 384.3 L616.7 384.5 L618.7 384.5 L620.7 384.2 L622.7 384.4 L624.7 384.7 L626.7 384.8 L628.7 384.8 L630.7 384.6 L632.7 384.3 L634.7 384.3 L636.7 384.5 L638.7 384.5 L640.7 384.4 L642.7 384.3 L644.7 384.3 L646.7 384.5 L648.7 384.3 L650.7 384.0 L652.7 384.0 L654.7 384.2 L656.7 384.4 L658.6 384.5 L660.6 384.6 L662.6 384.5 L664.6 384.6 L666.6 384.7 L668.6 384.5 L670.6 384.0 L672.6 384.1 L674.6 384.6 L676.6 384.8 L678.6 384.7 L680.6 384.5 L682.6 384.4 L684.6 384.5 L686.6 384.6 L688.6 384.7 L690.6 384.7 L692.6 384.8 L694.6 384.8 L696.6 384.7 L698.6 384.6 L700.6 384.4 L702.6 384.3 L704.6 384.3 L706.6 384.4 L708.6 384.5 L710.6 384.3 L712.6 384.0 L714.6 383.9 L716.6 384.1 L718.6 384.3 L720.6 384.2 L722.6 384.2 L724.6 384.4 L726.6 384.5 L728.6 384.8 L730.6 384.9 L732.6 384.6 L734.6 384.4 L736.6 384.6 L738.6 384.6 L740.6 384.1 L742.6 384.0 L744.6 384.2 L746.6 384.2 L748.6 384.2 L750.6 384.5 L752.6 384.8 L754.6 384.5 L756.6 384.3 L758.6 384.3 L760.6 384.5 L762.5 384.5 L764.5 384.2 L766.5 383.8 L768.5 384.0 L770.5 384.2 L772.5 384.0 L774.5 384.1 L776.5 384.5 L778.5 384.8 L780.5 384.8 L782.5 384.6 L784.5 384.5 L786.5 384.6 L788.5 384.5 L790.5 384.5 L792.5 384.9 L794.5 384.9 L796.5 384.4 L798.5 384.3 L800.5 384.4 L802.5 384.3 L804.5 384.4 L806.5 384.6 L808.5 384.5 L810.5 384.5 L812.5 384.4 L814.5 384.2 L815.5 384.5 L816.3 385.0 L816.9 385.9 L816.9 386.9 L816.9 388.9 L816.8 390.9 L816.9 393.0 L817.0 395.0 L817.2 397.0 L817.0 399.1 L816.9 401.1 L816.9 403.1 L817.0 405.2 L817.1 407.2 L817.1 409.3 L816.9 410.4 L816.4 411.4 L816.0 412.4 L815.6 413.5 L814.9 414.5 L813.9 415.2 L812.8 415.5 L811.6 415.5 L810.5 415.6 L808.5 415.9 L806.5 416.1 L804.5 416.0 L802.5 415.7 L800.5 415.5 L798.5 415.5 L796.5 415.3 L794.5 415.4 L792.5 415.5 L790.5 415.5 L788.5 415.6 L786.5 415.8 L784.5 415.9 L782.5 415.9 L780.5 415.8 L778.5 415.4 L776.5 415.2 L774.5 415.4 L772.5 415.7 L770.5 415.8 L768.5 415.9 L766.5 415.9 L764.5 415.9 L762.5 415.8 L760.5 415.7 L758.6 416.1 L756.6 416.3 L754.6 416.2 L752.6 416.1 L750.6 415.9 L748.6 415.9 L746.6 416.0 L744.6 416.0 L742.6 416.0 L740.6 416.2 L738.6 416.2 L736.6 415.9 L734.6 415.7 L732.6 415.7 L730.6 415.2 L728.6 415.0 L726.6 415.1 L724.6 415.3 L722.6 415.7 L720.6 415.8 L718.6 415.7 L716.6 415.5 L714.6 415.7 L712.6 415.8 L710.6 415.7 L708.6 416.0 L706.6 416.3 L704.6 416.1 L702.6 415.8 L700.6 415.8 L698.6 415.9 L696.6 416.0 L694.6 416.0 L692.6 415.7 L690.6 415.7 L688.6 416.0 L686.6 416.0 L684.6 415.9 L682.6 415.9 L680.6 415.7 L678.6 415.3 L676.6 415.2 L674.6 415.4 L672.6 415.5 L670.6 415.6 L668.6 415.8 L666.6 415.8 L664.6 415.9 L662.6 415.9 L660.6 415.6 L658.6 415.6 L656.6 416.0 L654.7 416.2 L652.7 416.0 L650.7 415.7 L648.7 415.8 L646.7 416.0 L644.7 415.8 L642.7 415.7 L640.7 416.0 L638.7 416.1 L636.7 415.8 L634.7 415.7 L632.7 415.6 L630.7 415.6 L628.7 415.7 L626.7 415.9 L624.7 416.0 L622.7 416.0 L620.7 416.1 L618.7 415.7 L616.7 415.4 L614.7 415.3 L612.7 415.5 L610.7 415.8 L608.7 415.8 L606.7 415.7 L604.7 415.8 L602.7 415.9 L600.7 416.0 L598.7 415.7 L596.7 415.7 L594.7 415.8 L592.7 415.6 L590.7 415.5 L588.7 415.8 L586.7 415.8 L584.7 415.9 L582.7 416.0 L580.7 415.9 L578.7 416.1 L576.7 416.2 L574.7 415.7 L572.7 415.5 L570.7 415.8 L568.7 415.8 L566.7 415.4 L564.7 415.2 L562.7 415.3 L560.7 415.4 L558.7 415.5 L556.7 415.6 L554.7 415.6 L552.7 415.8 L550.8 415.9 L548.8 415.6 L546.8 415.3 L544.8 415.3 L542.8 415.6 L540.8 415.9 L538.8 415.8 L536.8 415.7 L534.8 415.7 L532.8 415.7 L530.8 415.6 L528.8 415.9 L526.8 416.0 L524.8 415.8 L522.8 415.6 L520.8 415.6 L518.8 415.6 L516.8 415.7 L514.8 415.7 L512.8 415.4 L510.8 415.3 L508.8 415.3 L506.8 415.4 L504.8 415.8 L502.8 415.9 L500.8 415.6 L498.8 415.4 L496.8 415.5 L494.8 415.8 L492.8 416.0 L490.8 415.8 L488.8 415.6 L486.8 415.6 L484.8 416.0 L482.8 416.0 L480.8 415.7 L478.8 415.8 L476.8 416.0 L474.8 416.0 L472.8 415.9 L470.8 415.7 L468.8 415.8 L466.8 416.0 L464.8 416.1 L462.8 416.1 L460.8 416.0 L458.8 415.9 L456.8 415.9 L454.8 415.6 L452.8 415.4 L450.8 415.5 L448.8 415.7 L446.9 415.9 L444.9 416.1 L442.9 416.1 L440.9 415.8 L438.9 415.7 L436.9 415.7 L434.9 415.4 L432.9 415.3 L430.9 415.3 L428.9 415.5 L426.9 415.9 L424.9 416.2 L422.9 416.1 L420.9 415.7 L418.9 415.6 L416.9 415.9 L414.9 416.1 L412.9 415.9 L410.9 415.7 L408.9 415.7 L406.9 415.9 L404.9 415.9 L402.9 415.8 L400.9 415.8 L398.9 415.8 L396.9 415.9 L394.9 415.9 L392.9 415.9 L390.9 415.7 L388.9 415.2 L386.9 415.0 L384.9 415.2 L382.9 415.6 L380.9 415.8 L378.9 415.9 L376.9 415.8 L374.9 415.9 L372.9 415.8 L370.9 415.5 L368.9 415.5 L366.9 415.7 L364.9 415.7 L362.9 415.7 L360.9 415.8 L358.9 415.6 L356.9 415.3 L354.9 415.2 L352.9 415.3 L350.9 415.4 L348.9 415.7 L346.9 415.7 L344.9 415.5 L343.0 415.7 L341.0 416.0 L339.0 415.7 L337.0 415.5 L335.0 415.7 L333.0 415.8 L331.0 415.4 L329.0 415.3 L327.0 415.5 L325.0 415.5 L323.0 415.7 L321.0 416.0 L319.0 416.2 L317.0 416.0 L315.0 415.9 L313.0 415.8 L311.0 415.6 L309.0 415.7 L307.0 415.7 L305.0 415.6 L303.0 415.8 L301.0 416.0 L299.0 416.0 L297.0 416.1 L295.0 416.0 L293.0 415.7 L293.3 413.8 L293.2 411.8 L293.0 409.9 L293.0 407.9 L293.1 405.9 L293.0 404.0 L293.0 402.0 L293.1 400.1 L293.1 398.1 L293.0 396.1 L292.8 394.2 L292.8 392.2 L293.0 390.2 L293.1 388.3 L293.0 386.3Z" fill="#042346"/>
<path d="M296.3 387.9 L298.1 387.5 L300.1 387.3 L302.1 387.6 L304.1 387.8 L306.1 387.9 L308.1 388.0 L310.1 388.0 L312.1 387.8 L314.1 387.6 L316.1 387.8 L318.1 387.8 L320.1 387.4 L322.1 387.4 L324.1 387.8 L326.1 387.7 L328.1 387.4 L330.1 387.5 L332.1 387.6 L334.2 387.6 L336.2 387.8 L338.2 388.0 L340.2 387.7 L342.2 387.6 L344.2 387.8 L346.2 387.8 L348.2 387.5 L350.2 387.2 L352.2 387.4 L354.2 387.7 L356.2 387.7 L358.2 387.5 L360.2 387.3 L362.2 387.3 L364.2 387.4 L366.2 387.4 L368.2 387.5 L370.2 387.9 L372.2 387.8 L374.2 387.6 L376.2 387.8 L378.2 387.8 L380.2 387.7 L382.2 387.7 L384.2 387.7 L386.2 387.8 L388.2 387.7 L390.2 387.8 L392.2 388.0 L394.2 387.7 L396.2 387.4 L398.2 387.5 L400.2 387.7 L402.2 387.8 L404.2 387.8 L406.2 387.6 L408.3 387.5 L410.3 387.7 L412.3 388.1 L414.3 388.3 L416.3 388.1 L418.3 387.7 L420.3 387.7 L422.3 387.8 L424.3 387.7 L426.3 387.7 L428.3 387.7 L430.3 387.5 L432.3 387.4 L434.3 387.6 L436.3 387.8 L438.3 387.9 L440.3 387.9 L442.3 388.0 L444.3 387.9 L446.3 387.5 L448.3 387.2 L450.3 387.4 L452.3 387.8 L454.3 387.9 L456.3 387.7 L458.3 387.8 L460.3 387.9 L462.3 387.6 L464.3 387.6 L466.3 388.0 L468.3 388.2 L470.3 388.0 L472.3 387.7 L474.3 387.9 L476.3 388.2 L478.3 388.0 L480.3 388.0 L482.4 388.3 L484.4 388.2 L486.4 387.8 L488.4 387.5 L490.4 387.4 L492.4 387.4 L494.4 387.6 L496.4 387.9 L498.4 387.9 L500.4 387.8 L502.4 387.7 L504.4 387.4 L506.4 387.5 L508.4 387.8 L510.4 387.6 L512.4 387.5 L514.4 387.4 L516.4 387.5 L518.4 387.6 L520.4 387.5 L522.4 387.6 L524.4 387.7 L526.4 387.6 L528.4 387.7 L530.4 388.1 L532.4 388.2 L534.4 387.9 L536.4 387.6 L538.4 387.7 L540.4 387.8 L542.4 387.6 L544.4 387.6 L546.4 387.8 L548.4 387.7 L550.4 387.6 L552.4 387.7 L554.5 388.0 L556.5 388.0 L558.5 387.6 L560.5 387.3 L562.5 387.3 L564.5 387.3 L566.5 387.6 L568.5 387.7 L570.5 387.7 L572.5 387.7 L574.5 387.6 L576.5 387.7 L578.5 388.2 L580.5 388.1 L582.5 387.9 L584.5 388.1 L586.5 388.2 L588.5 388.0 L590.5 387.5 L592.5 387.3 L594.5 387.3 L596.5 387.4 L598.5 387.6 L600.5 387.5 L602.5 387.3 L604.5 387.6 L606.5 388.0 L608.5 387.9 L610.5 387.5 L612.5 387.5 L614.5 387.7 L616.5 388.0 L618.5 387.9 L620.5 387.6 L622.5 387.6 L624.5 387.9 L626.5 387.7 L628.6 387.2 L630.6 387.3 L632.6 387.9 L634.6 387.9 L636.6 387.6 L638.6 387.5 L640.6 387.5 L642.6 387.5 L644.6 387.5 L646.6 387.3 L648.6 387.4 L650.6 387.3 L652.6 387.5 L654.6 387.8 L656.6 387.6 L658.6 387.6 L660.6 387.9 L662.6 387.9 L664.6 387.8 L666.6 387.7 L668.6 387.4 L670.6 387.2 L672.6 387.2 L674.6 387.4 L676.6 387.6 L678.6 387.6 L680.6 387.5 L682.6 387.7 L684.6 387.7 L686.6 387.6 L688.6 387.6 L690.6 387.7 L692.6 387.7 L694.6 387.7 L696.6 387.7 L698.6 387.5 L700.6 387.4 L702.7 387.4 L704.7 387.4 L706.7 387.7 L708.7 388.0 L710.7 388.0 L712.7 388.0 L714.7 388.0 L716.7 387.6 L718.7 387.6 L720.7 387.8 L722.7 387.7 L724.7 387.6 L726.7 387.5 L728.7 387.4 L730.7 387.6 L732.7 387.7 L734.7 387.8 L736.7 388.1 L738.7 388.1 L740.7 387.8 L742.7 387.8 L744.7 388.0 L746.7 388.0 L748.7 387.9 L750.7 387.9 L752.7 387.7 L754.7 387.8 L756.7 387.9 L758.7 387.6 L760.7 387.5 L762.7 387.7 L764.7 387.7 L766.7 387.8 L768.7 387.9 L770.7 388.0 L772.7 388.1 L774.7 388.2 L776.8 388.1 L778.8 387.7 L780.8 387.7 L782.8 387.8 L784.8 387.6 L786.8 387.4 L788.8 387.6 L790.8 387.5 L792.8 387.8 L794.8 387.9 L796.8 387.6 L798.8 387.6 L800.8 387.7 L802.8 388.0 L804.8 388.0 L806.8 387.8 L808.8 387.7 L810.8 387.5 L812.8 387.4 L813.7 387.8 L814.0 388.7 L813.9 390.7 L813.7 392.8 L813.7 394.8 L813.7 396.9 L813.6 398.9 L813.5 401.0 L813.6 403.0 L813.6 405.1 L813.5 407.1 L813.6 409.1 L813.6 410.2 L813.4 411.4 L812.7 412.5 L811.6 413.0 L810.3 412.9 L808.3 412.9 L806.3 413.0 L804.3 412.9 L802.3 412.7 L800.3 412.6 L798.3 412.8 L796.3 412.7 L794.3 412.4 L792.3 412.4 L790.3 412.6 L788.3 412.4 L786.3 412.4 L784.3 412.4 L782.3 412.5 L780.3 412.5 L778.3 412.4 L776.3 412.4 L774.3 412.4 L772.3 412.5 L770.3 412.8 L768.3 412.9 L766.3 412.6 L764.3 412.7 L762.3 412.8 L760.3 412.8 L758.3 412.9 L756.3 412.8 L754.3 412.4 L752.3 412.4 L750.3 412.6 L748.3 412.7 L746.3 412.9 L744.3 413.0 L742.3 413.0 L740.3 412.8 L738.3 412.5 L736.3 412.4 L734.3 412.5 L732.3 412.5 L730.3 412.4 L728.3 412.2 L726.3 412.4 L724.3 412.9 L722.3 412.9 L720.3 412.7 L718.3 412.9 L716.3 413.1 L714.3 413.1 L712.3 413.0 L710.3 412.8 L708.3 412.9 L706.3 413.0 L704.3 412.8 L702.3 412.3 L700.3 412.2 L698.3 412.2 L696.3 412.3 L694.3 412.3 L692.3 412.4 L690.3 412.6 L688.3 412.7 L686.3 412.9 L684.3 412.9 L682.3 412.5 L680.2 412.4 L678.2 412.6 L676.2 412.5 L674.2 412.5 L672.2 412.6 L670.2 412.6 L668.2 412.7 L666.2 412.7 L664.2 412.5 L662.2 412.4 L660.2 412.6 L658.2 412.6 L656.2 412.3 L654.2 412.3 L652.2 412.4 L650.2 412.5 L648.2 412.4 L646.2 412.2 L644.2 412.3 L642.2 412.5 L640.2 412.3 L638.2 412.2 L636.2 412.6 L634.2 413.0 L632.2 413.0 L630.2 413.1 L628.2 413.1 L626.2 413.0 L624.2 412.7 L622.2 412.7 L620.2 412.9 L618.2 412.9 L616.2 412.8 L614.2 412.8 L612.2 413.0 L610.2 413.0 L608.2 413.0 L606.2 412.9 L604.2 412.9 L602.2 412.8 L600.2 412.5 L598.2 412.6 L596.2 412.7 L594.2 413.0 L592.2 413.1 L590.2 412.8 L588.2 412.6 L586.2 412.5 L584.2 412.4 L582.2 412.5 L580.2 412.6 L578.2 412.8 L576.2 413.0 L574.2 412.6 L572.2 412.4 L570.2 412.5 L568.2 412.5 L566.2 412.3 L564.2 412.2 L562.2 412.4 L560.2 412.8 L558.2 412.9 L556.2 412.8 L554.2 412.7 L552.2 412.9 L550.2 413.1 L548.2 413.1 L546.2 413.0 L544.2 412.8 L542.2 412.7 L540.2 413.0 L538.2 413.1 L536.2 412.8 L534.2 412.8 L532.2 413.1 L530.2 413.2 L528.2 413.0 L526.2 412.6 L524.2 412.4 L522.2 412.7 L520.2 412.8 L518.2 412.9 L516.2 412.8 L514.2 412.6 L512.2 412.3 L510.2 412.2 L508.2 412.4 L506.2 412.6 L504.2 412.8 L502.2 412.9 L500.2 413.0 L498.2 413.0 L496.2 412.8 L494.2 412.7 L492.2 412.6 L490.2 412.7 L488.2 412.7 L486.2 412.5 L484.2 412.5 L482.2 412.6 L480.2 412.5 L478.2 412.4 L476.2 412.3 L474.2 412.4 L472.2 412.4 L470.2 412.2 L468.2 412.2 L466.2 412.5 L464.2 412.8 L462.2 412.8 L460.2 412.5 L458.2 412.5 L456.2 412.9 L454.2 413.3 L452.2 413.4 L450.2 413.2 L448.2 413.0 L446.2 413.0 L444.2 413.0 L442.2 412.9 L440.2 412.9 L438.2 412.8 L436.2 412.7 L434.2 412.6 L432.2 412.7 L430.2 413.0 L428.2 412.9 L426.2 412.6 L424.1 412.8 L422.1 413.0 L420.1 413.0 L418.1 413.1 L416.1 413.1 L414.1 412.8 L412.1 412.6 L410.1 412.6 L408.1 412.4 L406.1 412.3 L404.1 412.3 L402.1 412.5 L400.1 412.6 L398.1 412.7 L396.1 412.7 L394.1 412.4 L392.1 412.6 L390.1 412.9 L388.1 412.8 L386.1 412.6 L384.1 412.3 L382.1 412.5 L380.1 412.9 L378.1 412.9 L376.1 412.5 L374.1 412.4 L372.1 412.5 L370.1 412.5 L368.1 412.4 L366.1 412.6 L364.1 412.8 L362.1 412.7 L360.1 412.6 L358.1 412.9 L356.1 412.9 L354.1 412.7 L352.1 412.6 L350.1 412.8 L348.1 412.7 L346.1 412.5 L344.1 412.8 L342.1 412.9 L340.1 412.8 L338.1 412.8 L336.1 413.0 L334.1 413.1 L332.1 413.1 L330.1 413.0 L328.1 412.8 L326.1 412.9 L324.1 413.0 L322.1 413.0 L320.1 412.9 L318.1 412.7 L316.1 412.7 L314.1 412.6 L312.1 412.7 L310.1 412.7 L308.1 412.8 L306.1 412.8 L304.1 412.4 L302.1 412.3 L300.1 412.5 L298.1 412.4 L296.4 412.4 L296.3 410.6 L296.0 408.5 L295.7 406.4 L295.8 404.3 L295.9 402.3 L296.0 400.2 L296.2 398.1 L296.4 396.0 L296.3 393.9 L296.4 391.9 L296.6 389.8Z" fill="#04bcb9"/>
<path d="M293.3 444.1 L295.0 444.0 L297.0 444.0 L299.0 444.0 L301.0 443.7 L303.0 443.3 L305.0 443.5 L307.0 443.6 L309.0 443.6 L311.0 443.8 L313.0 443.9 L315.0 443.8 L317.0 443.8 L319.0 443.5 L321.0 443.4 L323.0 443.6 L325.0 443.9 L327.0 444.2 L329.0 444.2 L331.0 443.9 L333.0 443.8 L335.0 444.0 L337.1 444.1 L339.1 443.8 L341.1 443.4 L343.1 443.4 L345.1 443.6 L347.1 443.8 L349.1 444.0 L351.1 444.3 L353.1 444.2 L355.1 443.8 L357.1 443.9 L359.1 444.0 L361.1 443.8 L363.1 443.5 L365.1 443.4 L367.1 443.5 L369.1 443.6 L371.1 443.7 L373.1 443.6 L375.1 443.6 L377.1 443.8 L379.1 444.0 L381.1 444.0 L383.1 443.8 L385.1 443.7 L387.1 443.5 L389.1 443.6 L391.1 443.8 L393.1 443.8 L395.1 443.5 L397.1 443.5 L399.1 443.7 L401.1 443.7 L403.1 443.6 L405.1 443.5 L407.1 443.4 L409.1 443.4 L411.1 443.6 L413.1 443.8 L415.1 443.8 L417.1 443.5 L419.1 443.4 L421.1 443.6 L423.1 443.8 L425.2 444.0 L427.2 443.9 L429.2 443.7 L431.2 443.5 L433.2 443.5 L435.2 443.5 L437.2 443.7 L439.2 444.2 L441.2 444.2 L443.2 443.9 L445.2 443.7 L447.2 443.6 L449.2 443.8 L451.2 443.8 L453.2 443.4 L455.2 443.3 L457.2 443.3 L459.2 443.3 L461.2 443.2 L463.2 443.4 L465.2 443.9 L467.2 444.1 L469.2 443.9 L471.2 443.7 L473.2 443.7 L475.2 443.9 L477.2 444.2 L479.2 444.1 L481.2 443.8 L483.2 443.9 L485.2 444.3 L487.2 444.3 L489.2 443.9 L491.2 443.9 L493.2 444.0 L495.2 443.9 L497.2 444.0 L499.2 444.0 L501.2 443.7 L503.2 443.5 L505.2 443.6 L507.2 444.0 L509.2 444.1 L511.3 444.1 L513.3 444.0 L515.3 443.9 L517.3 444.1 L519.3 444.1 L521.3 443.9 L523.3 443.8 L525.3 443.9 L527.3 443.8 L529.3 444.0 L531.3 444.2 L533.3 444.1 L535.3 443.8 L537.3 443.7 L539.3 443.7 L541.3 443.9 L543.3 443.9 L545.3 443.7 L547.3 443.7 L549.3 443.6 L551.3 443.6 L553.3 443.6 L555.3 443.7 L557.3 443.8 L559.3 444.0 L561.3 444.1 L563.3 444.0 L565.3 444.1 L567.3 444.2 L569.3 444.2 L571.3 443.9 L573.3 443.5 L575.3 443.5 L577.3 443.4 L579.3 443.3 L581.3 443.4 L583.3 443.5 L585.3 443.6 L587.3 443.8 L589.3 444.1 L591.3 444.1 L593.3 443.8 L595.3 443.7 L597.4 443.9 L599.4 444.1 L601.4 443.8 L603.4 443.7 L605.4 443.8 L607.4 443.7 L609.4 443.7 L611.4 443.7 L613.4 443.6 L615.4 443.7 L617.4 443.7 L619.4 443.6 L621.4 443.9 L623.4 444.2 L625.4 444.1 L627.4 443.7 L629.4 443.8 L631.4 443.8 L633.4 443.6 L635.4 443.6 L637.4 443.6 L639.4 443.6 L641.4 443.8 L643.4 444.0 L645.4 443.8 L647.4 443.7 L649.4 443.7 L651.4 443.9 L653.4 444.3 L655.4 444.2 L657.4 443.8 L659.4 443.7 L661.4 443.4 L663.4 443.2 L665.4 443.4 L667.4 443.7 L669.4 443.8 L671.4 443.7 L673.4 443.6 L675.4 443.5 L677.4 443.6 L679.4 444.1 L681.4 444.2 L683.4 444.2 L685.5 444.1 L687.5 443.7 L689.5 443.6 L691.5 443.7 L693.5 443.7 L695.5 444.0 L697.5 444.2 L699.5 444.1 L701.5 443.8 L703.5 443.7 L705.5 443.7 L707.5 443.8 L709.5 443.7 L711.5 443.5 L713.5 443.5 L715.5 443.6 L717.5 443.8 L719.5 444.0 L721.5 443.8 L723.5 443.6 L725.5 443.5 L727.5 443.6 L728.5 444.0 L729.2 444.6 L729.7 445.4 L729.6 446.3 L729.4 448.3 L729.8 450.4 L730.1 452.4 L729.9 454.4 L729.8 456.5 L729.7 458.5 L729.7 460.6 L730.1 462.6 L730.1 464.6 L729.9 466.7 L730.0 468.7 L729.9 469.8 L729.6 470.9 L729.3 472.0 L728.7 473.1 L727.9 473.9 L726.9 474.6 L725.9 475.3 L724.7 475.7 L723.5 475.5 L721.5 475.1 L719.5 475.1 L717.5 475.3 L715.5 475.5 L713.5 475.7 L711.5 475.6 L709.5 475.2 L707.5 475.1 L705.5 475.3 L703.5 475.5 L701.5 475.5 L699.5 475.3 L697.5 475.5 L695.5 475.4 L693.5 475.1 L691.5 475.0 L689.5 475.2 L687.5 475.5 L685.5 475.4 L683.5 475.4 L681.5 475.4 L679.4 475.5 L677.4 475.5 L675.4 475.4 L673.4 475.4 L671.4 475.3 L669.4 474.9 L667.4 475.0 L665.4 475.3 L663.4 475.4 L661.4 475.2 L659.4 475.1 L657.4 475.3 L655.4 475.3 L653.4 475.2 L651.4 475.4 L649.4 475.5 L647.4 475.5 L645.4 475.3 L643.4 474.8 L641.4 474.8 L639.4 474.9 L637.4 474.7 L635.4 474.8 L633.4 475.2 L631.4 475.4 L629.4 475.1 L627.4 475.1 L625.4 475.4 L623.4 475.4 L621.4 475.3 L619.4 475.5 L617.4 475.6 L615.4 475.5 L613.4 475.3 L611.4 475.3 L609.4 475.5 L607.4 475.4 L605.4 475.2 L603.4 475.2 L601.4 475.3 L599.4 475.1 L597.4 475.0 L595.4 475.0 L593.3 474.8 L591.3 474.7 L589.3 474.8 L587.3 474.9 L585.3 474.8 L583.3 474.7 L581.3 474.5 L579.3 474.5 L577.3 474.6 L575.3 474.9 L573.3 475.1 L571.3 475.1 L569.3 475.3 L567.3 475.4 L565.3 475.2 L563.3 475.1 L561.3 475.3 L559.3 475.5 L557.3 475.5 L555.3 475.2 L553.3 475.2 L551.3 475.5 L549.3 475.5 L547.3 475.3 L545.3 475.2 L543.3 475.4 L541.3 475.5 L539.3 475.3 L537.3 475.1 L535.3 475.1 L533.3 474.7 L531.3 474.5 L529.3 474.6 L527.3 475.0 L525.3 475.4 L523.3 475.3 L521.3 475.2 L519.3 475.3 L517.3 475.3 L515.3 475.1 L513.3 475.3 L511.3 475.6 L509.3 475.5 L507.2 475.0 L505.2 474.7 L503.2 474.8 L501.2 475.0 L499.2 475.2 L497.2 475.3 L495.2 475.2 L493.2 475.0 L491.2 475.0 L489.2 475.0 L487.2 475.3 L485.2 475.5 L483.2 475.6 L481.2 475.6 L479.2 475.5 L477.2 475.3 L475.2 475.2 L473.2 475.3 L471.2 475.4 L469.2 475.5 L467.2 475.6 L465.2 475.5 L463.2 475.2 L461.2 475.3 L459.2 475.5 L457.2 475.4 L455.2 475.1 L453.2 475.1 L451.2 475.2 L449.2 475.2 L447.2 475.2 L445.2 475.1 L443.2 475.2 L441.2 475.4 L439.2 475.4 L437.2 475.1 L435.2 474.8 L433.2 474.9 L431.2 475.0 L429.2 475.2 L427.2 475.3 L425.2 475.2 L423.2 475.2 L421.1 475.2 L419.1 475.0 L417.1 475.1 L415.1 475.3 L413.1 475.1 L411.1 475.0 L409.1 475.1 L407.1 475.0 L405.1 475.1 L403.1 475.3 L401.1 475.2 L399.1 475.3 L397.1 475.4 L395.1 475.1 L393.1 474.8 L391.1 474.6 L389.1 474.8 L387.1 474.9 L385.1 475.0 L383.1 475.4 L381.1 475.7 L379.1 475.5 L377.1 475.1 L375.1 474.7 L373.1 474.9 L371.1 475.2 L369.1 475.0 L367.1 475.0 L365.1 475.3 L363.1 475.5 L361.1 475.4 L359.1 475.2 L357.1 475.2 L355.1 475.5 L353.1 475.3 L351.1 475.0 L349.1 475.1 L347.1 475.0 L345.1 475.0 L343.1 475.3 L341.1 475.4 L339.1 475.3 L337.1 475.1 L335.0 474.9 L333.0 475.0 L331.0 475.2 L329.0 475.0 L327.0 474.9 L325.0 475.2 L323.0 475.0 L321.0 474.8 L319.0 475.0 L317.0 475.4 L315.0 475.4 L313.0 475.3 L311.0 475.4 L309.0 475.5 L307.0 475.3 L305.0 475.0 L303.0 475.1 L301.0 475.2 L299.0 475.4 L297.0 475.5 L295.0 475.5 L292.9 475.3 L293.0 473.2 L293.1 471.3 L293.1 469.3 L292.9 467.4 L292.8 465.4 L293.0 463.4 L293.2 461.5 L293.5 459.5 L293.4 457.5 L293.1 455.6 L292.9 453.6 L293.1 451.6 L293.1 449.7 L293.0 447.7 L293.2 445.8Z" fill="#042346"/>
<path d="M295.8 446.9 L298.1 447.0 L300.1 447.1 L302.1 447.3 L304.1 447.4 L306.1 447.3 L308.1 447.3 L310.1 447.4 L312.1 447.4 L314.1 447.5 L316.1 447.4 L318.1 447.0 L320.1 446.9 L322.1 447.3 L324.1 447.3 L326.1 447.2 L328.1 447.2 L330.1 447.0 L332.1 446.9 L334.1 447.0 L336.1 447.0 L338.1 446.8 L340.1 446.6 L342.1 446.5 L344.1 446.8 L346.1 446.9 L348.1 446.8 L350.1 446.7 L352.1 447.0 L354.1 447.3 L356.1 447.4 L358.1 447.3 L360.1 447.1 L362.1 447.0 L364.1 447.1 L366.1 447.4 L368.0 447.5 L370.0 447.4 L372.0 446.9 L374.0 446.6 L376.0 446.8 L378.0 447.3 L380.0 447.4 L382.0 447.3 L384.0 447.3 L386.0 447.3 L388.0 447.2 L390.0 447.1 L392.0 447.1 L394.0 447.2 L396.0 447.4 L398.0 447.5 L400.0 447.2 L402.0 447.0 L404.0 447.0 L406.0 447.2 L408.0 447.2 L410.0 446.8 L412.0 446.9 L414.0 447.0 L416.0 446.6 L418.0 446.7 L420.0 447.1 L422.0 447.2 L424.0 447.5 L426.0 447.8 L428.0 447.5 L430.0 447.0 L432.0 447.0 L434.0 447.0 L436.0 447.1 L438.0 447.4 L440.0 447.6 L442.0 447.6 L444.0 447.4 L446.0 447.4 L448.0 447.6 L450.0 447.7 L452.0 447.6 L454.0 447.6 L456.0 447.6 L458.0 447.6 L460.0 447.6 L462.0 447.4 L464.0 447.1 L466.0 447.3 L468.0 447.7 L470.0 447.7 L472.0 447.5 L474.0 447.2 L476.0 447.1 L478.0 446.9 L480.0 446.7 L482.0 446.8 L484.0 447.0 L486.0 446.9 L488.0 446.6 L490.0 446.5 L492.0 446.4 L494.0 446.3 L496.0 446.5 L498.0 446.6 L500.0 446.7 L502.0 447.1 L504.0 447.3 L506.0 447.4 L508.0 447.5 L510.0 447.6 L511.9 447.7 L513.9 447.7 L515.9 447.8 L517.9 447.6 L519.9 447.4 L521.9 447.4 L523.9 447.2 L525.9 447.2 L527.9 447.4 L529.9 447.3 L531.9 447.1 L533.9 446.9 L535.9 447.1 L537.9 447.5 L539.9 447.7 L541.9 447.7 L543.9 447.5 L545.9 447.0 L547.9 447.1 L549.9 447.3 L551.9 447.1 L553.9 447.1 L555.9 447.4 L557.9 447.4 L559.9 447.4 L561.9 447.2 L563.9 447.1 L565.9 447.2 L567.9 447.2 L569.9 446.9 L571.9 446.7 L573.9 446.6 L575.9 446.8 L577.9 447.2 L579.9 447.2 L581.9 447.0 L583.9 446.9 L585.9 447.1 L587.9 447.2 L589.9 447.3 L591.9 447.6 L593.9 447.6 L595.9 447.3 L597.9 447.2 L599.9 447.1 L601.9 447.0 L603.9 447.0 L605.9 446.9 L607.9 446.7 L609.9 446.9 L611.9 447.4 L613.9 447.4 L615.9 447.2 L617.9 447.0 L619.9 446.9 L621.9 446.9 L623.9 447.2 L625.9 447.4 L627.9 447.1 L629.9 446.8 L631.9 446.8 L633.9 446.8 L635.9 446.7 L637.9 446.8 L639.9 447.1 L641.9 447.3 L643.9 447.3 L645.9 447.3 L647.9 447.4 L649.9 447.3 L651.9 447.2 L653.9 447.1 L655.8 446.9 L657.8 446.8 L659.8 446.9 L661.8 447.2 L663.8 447.4 L665.8 447.3 L667.8 447.2 L669.8 447.3 L671.8 447.3 L673.8 447.0 L675.8 446.6 L677.8 446.6 L679.8 446.9 L681.8 447.2 L683.8 447.1 L685.8 447.2 L687.8 447.2 L689.8 447.2 L691.8 447.3 L693.8 447.2 L695.8 446.9 L697.8 446.9 L699.8 447.0 L701.8 447.2 L703.8 447.5 L705.8 447.6 L707.8 447.6 L709.8 447.3 L711.8 447.1 L713.8 447.4 L715.8 447.2 L717.8 446.8 L719.8 446.9 L721.8 446.8 L723.8 446.6 L725.9 446.7 L726.6 447.3 L726.8 448.2 L726.7 450.2 L726.9 452.2 L727.2 454.3 L727.0 456.3 L726.9 458.4 L727.0 460.4 L726.7 462.5 L726.5 464.5 L726.5 466.6 L726.7 468.6 L726.7 469.7 L726.1 470.6 L725.2 471.3 L724.3 471.7 L723.3 472.0 L721.3 472.3 L719.3 472.3 L717.3 472.5 L715.3 472.4 L713.3 472.2 L711.3 472.2 L709.3 472.1 L707.3 472.4 L705.3 472.5 L703.3 472.2 L701.3 471.9 L699.3 472.0 L697.3 472.1 L695.4 472.1 L693.4 471.8 L691.4 471.7 L689.4 471.7 L687.4 471.6 L685.4 471.7 L683.4 471.8 L681.4 471.8 L679.4 472.0 L677.4 472.1 L675.4 472.2 L673.4 472.0 L671.4 472.1 L669.4 472.3 L667.4 472.2 L665.4 471.9 L663.4 472.0 L661.4 472.4 L659.4 472.4 L657.4 472.1 L655.4 472.1 L653.4 472.4 L651.4 472.6 L649.4 472.6 L647.4 472.6 L645.4 472.2 L643.4 471.9 L641.5 472.0 L639.5 472.3 L637.5 472.5 L635.5 472.5 L633.5 472.1 L631.5 471.8 L629.5 471.9 L627.5 472.1 L625.5 472.2 L623.5 472.0 L621.5 471.9 L619.5 471.9 L617.5 471.8 L615.5 471.8 L613.5 472.1 L611.5 472.0 L609.5 471.8 L607.5 471.7 L605.5 471.8 L603.5 472.1 L601.5 472.5 L599.5 472.6 L597.5 472.6 L595.5 472.5 L593.5 472.4 L591.5 472.0 L589.6 471.7 L587.6 471.6 L585.6 471.6 L583.6 471.8 L581.6 471.9 L579.6 472.1 L577.6 472.3 L575.6 472.3 L573.6 472.0 L571.6 472.1 L569.6 472.2 L567.6 472.3 L565.6 472.3 L563.6 472.0 L561.6 471.9 L559.6 472.3 L557.6 472.4 L555.6 472.5 L553.6 472.5 L551.6 472.3 L549.6 472.2 L547.6 472.1 L545.6 472.2 L543.6 472.5 L541.6 472.6 L539.6 472.2 L537.6 471.8 L535.7 471.8 L533.7 471.9 L531.7 472.1 L529.7 472.5 L527.7 472.6 L525.7 472.2 L523.7 471.9 L521.7 472.1 L519.7 472.3 L517.7 472.1 L515.7 472.0 L513.7 471.8 L511.7 471.6 L509.7 471.7 L507.7 472.0 L505.7 472.2 L503.7 472.1 L501.7 471.8 L499.7 471.9 L497.7 472.3 L495.7 472.4 L493.7 472.1 L491.7 472.1 L489.7 472.0 L487.7 471.7 L485.7 471.8 L483.7 471.9 L481.8 472.0 L479.8 472.2 L477.8 472.2 L475.8 472.3 L473.8 472.3 L471.8 472.1 L469.8 471.8 L467.8 471.8 L465.8 472.1 L463.8 472.1 L461.8 471.9 L459.8 471.9 L457.8 472.1 L455.8 472.4 L453.8 472.6 L451.8 472.4 L449.8 472.2 L447.8 472.1 L445.8 472.2 L443.8 472.1 L441.8 471.9 L439.8 471.7 L437.8 471.6 L435.8 471.8 L433.8 472.0 L431.8 472.1 L429.8 472.4 L427.9 472.5 L425.9 472.4 L423.9 472.5 L421.9 472.4 L419.9 472.1 L417.9 472.0 L415.9 472.2 L413.9 472.3 L411.9 472.3 L409.9 472.3 L407.9 472.3 L405.9 472.3 L403.9 472.4 L401.9 472.4 L399.9 472.3 L397.9 472.2 L395.9 472.0 L393.9 472.1 L391.9 472.1 L389.9 471.9 L387.9 471.7 L385.9 471.6 L383.9 471.8 L381.9 471.9 L379.9 471.9 L377.9 472.2 L376.0 472.5 L374.0 472.4 L372.0 472.3 L370.0 472.2 L368.0 472.0 L366.0 472.2 L364.0 472.6 L362.0 472.7 L360.0 472.3 L358.0 472.1 L356.0 472.3 L354.0 472.3 L352.0 472.0 L350.0 472.0 L348.0 472.3 L346.0 472.2 L344.0 472.0 L342.0 472.1 L340.0 472.4 L338.0 472.5 L336.0 472.5 L334.0 472.4 L332.0 472.2 L330.0 472.1 L328.0 471.9 L326.0 472.1 L324.0 472.3 L322.1 472.1 L320.1 472.2 L318.1 472.0 L316.1 471.8 L314.1 472.1 L312.1 472.4 L310.1 472.1 L308.1 471.9 L306.1 472.0 L304.1 472.3 L302.1 472.4 L300.1 472.2 L298.1 472.2 L296.0 472.2 L295.9 470.0 L295.6 467.9 L295.8 465.9 L296.1 463.8 L295.9 461.7 L295.8 459.6 L295.8 457.5 L295.6 455.5 L295.8 453.4 L296.1 451.3 L295.9 449.2Z" fill="#ffa10f"/>
<path d="M293.0 503.2 L295.0 503.3 L297.0 503.2 L299.0 503.3 L301.0 503.4 L303.0 503.5 L305.0 503.7 L307.0 503.7 L309.0 503.6 L311.0 503.5 L313.0 503.4 L315.0 503.5 L317.0 503.6 L319.0 503.7 L321.0 503.6 L323.0 503.2 L325.0 503.0 L327.0 503.0 L329.0 503.0 L331.0 503.0 L333.0 503.0 L335.0 503.2 L337.0 503.2 L339.0 503.1 L341.0 502.9 L343.0 503.1 L345.0 503.5 L347.0 503.6 L349.0 503.5 L351.0 503.6 L353.0 503.5 L355.0 503.1 L357.0 503.1 L359.0 503.6 L361.0 503.6 L363.0 503.1 L365.0 502.8 L367.0 502.8 L369.0 502.9 L371.0 503.0 L373.0 503.1 L375.0 503.2 L377.0 503.3 L379.0 503.6 L381.0 503.5 L383.0 503.4 L385.0 503.5 L387.0 503.4 L389.0 503.2 L391.0 502.9 L393.0 502.9 L395.0 503.1 L397.0 503.0 L399.0 502.9 L401.0 503.2 L403.0 503.3 L405.0 503.0 L407.0 503.0 L409.0 503.2 L411.0 503.2 L413.0 503.2 L415.0 503.3 L417.0 503.3 L419.0 503.1 L421.0 503.0 L423.0 502.8 L425.0 502.8 L427.0 503.1 L429.0 502.9 L431.0 503.0 L433.0 503.3 L435.0 503.4 L437.0 503.5 L439.0 503.7 L441.0 503.7 L443.0 503.4 L445.0 503.2 L447.0 503.4 L449.0 503.3 L451.0 503.0 L453.0 503.0 L455.0 502.9 L457.0 502.9 L459.0 502.9 L461.0 503.0 L463.0 503.0 L465.0 503.2 L467.0 503.5 L469.0 503.6 L471.0 503.7 L473.0 503.5 L475.0 503.4 L477.0 503.4 L479.0 503.2 L481.0 503.0 L483.0 503.2 L485.0 503.4 L487.0 503.2 L489.0 502.8 L491.0 502.8 L493.0 503.0 L495.0 503.4 L497.0 503.6 L499.0 503.5 L501.0 503.4 L503.0 503.4 L505.0 503.3 L507.0 503.3 L509.0 503.4 L511.0 503.5 L513.0 503.5 L515.0 503.5 L517.0 503.4 L519.0 503.3 L521.0 503.2 L523.0 503.1 L525.0 503.3 L527.0 503.4 L529.0 503.3 L531.0 503.1 L533.0 503.0 L535.0 503.0 L537.0 503.2 L539.0 503.3 L541.0 503.3 L543.0 503.6 L545.0 503.7 L547.0 503.3 L549.0 502.9 L551.0 502.8 L553.0 502.9 L555.0 503.1 L557.0 503.2 L559.0 503.3 L561.0 503.6 L563.0 503.8 L565.0 503.7 L567.0 503.8 L569.0 503.8 L571.0 503.5 L573.0 503.1 L575.0 503.0 L577.0 503.2 L579.0 503.3 L581.0 503.2 L583.0 503.0 L585.0 503.1 L587.0 503.3 L589.0 503.4 L591.0 503.6 L593.0 503.7 L595.0 503.5 L597.0 503.3 L599.0 503.4 L601.0 503.4 L603.0 503.3 L605.0 503.2 L607.0 503.3 L609.0 503.3 L611.0 503.0 L613.0 502.8 L615.0 502.9 L617.0 503.3 L619.0 503.4 L621.0 503.3 L623.0 503.2 L625.0 503.2 L627.0 503.2 L629.0 503.3 L631.0 503.2 L633.0 503.1 L635.0 503.0 L637.0 503.0 L639.0 503.1 L641.0 503.0 L643.0 502.8 L645.0 503.0 L647.0 503.2 L649.0 503.1 L651.0 503.2 L653.0 503.4 L655.0 503.4 L657.0 503.2 L659.0 503.0 L661.0 503.0 L663.0 503.1 L663.9 503.5 L664.7 504.1 L665.5 504.7 L665.7 505.7 L665.4 507.8 L665.3 509.8 L665.5 511.9 L665.6 513.9 L665.4 515.9 L665.3 518.0 L665.5 520.0 L665.8 522.0 L665.9 524.1 L665.7 526.1 L665.4 528.1 L665.2 529.2 L664.9 530.3 L664.4 531.3 L663.8 532.2 L663.1 533.0 L662.2 533.7 L661.2 534.3 L660.2 534.8 L659.0 534.7 L657.0 534.4 L655.0 534.3 L653.0 534.4 L651.0 534.8 L649.0 535.0 L647.0 534.8 L645.0 534.4 L643.0 534.3 L641.0 534.4 L639.0 534.4 L637.0 534.4 L635.0 534.7 L633.0 534.7 L631.0 534.9 L629.0 535.2 L627.0 535.1 L625.0 534.9 L623.0 535.1 L621.0 535.0 L619.0 534.8 L617.0 534.7 L615.0 534.6 L613.0 534.5 L611.0 534.2 L609.0 534.0 L607.0 534.3 L605.0 534.6 L603.0 534.7 L601.0 534.8 L599.0 534.8 L597.0 534.9 L595.0 535.0 L593.0 534.7 L591.0 534.3 L589.0 534.2 L587.0 534.3 L585.0 534.3 L583.0 534.3 L581.0 534.7 L579.0 535.0 L577.0 535.0 L575.0 535.0 L573.0 534.8 L571.0 534.8 L569.0 534.9 L567.0 534.8 L565.0 534.7 L563.0 534.8 L561.0 535.0 L559.0 535.2 L557.0 535.3 L555.0 535.2 L553.0 534.9 L551.0 534.6 L549.0 534.3 L547.0 534.2 L545.0 534.4 L543.0 534.6 L541.0 534.4 L539.0 534.3 L537.0 534.6 L535.0 534.6 L533.0 534.3 L531.0 534.5 L529.0 534.9 L527.0 534.9 L525.0 534.7 L523.0 534.3 L521.0 534.2 L519.0 534.5 L517.0 534.6 L515.0 534.5 L513.0 534.4 L511.0 534.7 L509.0 534.9 L507.0 534.8 L505.0 534.6 L503.0 534.5 L501.0 534.5 L499.0 534.5 L497.0 534.6 L495.0 534.9 L493.0 534.6 L491.0 534.4 L489.0 534.4 L487.0 534.5 L485.0 534.6 L483.0 534.5 L481.0 534.4 L479.0 534.3 L477.0 534.4 L475.0 534.8 L473.0 534.9 L471.0 534.9 L469.0 534.8 L467.0 534.6 L465.0 534.6 L463.0 534.8 L461.0 535.0 L459.0 535.0 L457.0 534.8 L455.0 534.8 L453.0 534.6 L451.0 534.4 L449.0 534.5 L447.0 534.7 L445.0 534.7 L443.0 534.5 L441.0 534.5 L439.0 534.8 L437.0 535.0 L435.0 534.8 L433.0 534.6 L431.0 534.8 L429.0 534.8 L427.0 534.6 L425.0 534.5 L423.0 534.7 L421.0 535.0 L419.0 535.2 L417.0 534.9 L415.0 534.5 L413.0 534.6 L411.0 534.9 L409.0 535.1 L407.0 535.0 L405.0 534.8 L403.0 534.4 L401.0 534.3 L399.0 534.3 L397.0 534.4 L395.0 534.7 L393.0 534.9 L391.0 534.9 L389.0 535.0 L387.0 534.8 L385.0 534.5 L383.0 534.6 L381.0 534.7 L379.0 534.5 L377.0 534.5 L375.0 534.6 L373.0 534.4 L371.0 534.4 L369.0 534.9 L367.0 535.1 L365.0 534.8 L363.0 534.8 L361.0 535.0 L359.0 534.9 L357.0 534.6 L355.0 534.5 L353.0 534.5 L351.0 534.3 L349.0 534.3 L347.0 534.6 L345.0 534.5 L343.0 534.4 L341.0 534.4 L339.0 534.2 L337.0 534.1 L335.0 534.1 L333.0 534.1 L331.0 534.2 L329.0 534.4 L327.0 534.8 L325.0 535.0 L323.0 534.8 L321.0 534.4 L319.0 534.3 L317.0 534.5 L315.0 534.6 L313.0 534.3 L311.0 534.3 L309.0 534.7 L307.0 535.1 L305.0 534.9 L303.0 534.5 L301.0 534.6 L299.0 534.6 L297.0 534.3 L295.0 534.2 L293.2 534.4 L293.4 532.7 L293.5 530.7 L293.3 528.8 L293.1 526.8 L293.0 524.8 L292.9 522.9 L292.8 520.9 L292.8 519.0 L292.9 517.0 L293.2 515.0 L293.3 513.1 L293.2 511.1 L293.4 509.1 L293.4 507.2 L293.0 505.2Z" fill="#042346"/>
<path d="M296.1 506.6 L298.1 506.4 L300.1 506.3 L302.1 506.2 L304.1 506.0 L306.1 506.2 L308.1 506.6 L310.1 506.8 L312.1 506.7 L314.1 506.5 L316.1 506.3 L318.1 506.4 L320.0 506.6 L322.0 506.8 L324.0 506.9 L326.0 506.5 L328.0 506.4 L330.0 506.5 L332.0 506.5 L334.0 506.3 L336.0 506.3 L338.0 506.6 L340.0 506.8 L342.0 506.7 L344.0 506.7 L346.0 506.6 L348.0 506.4 L350.0 506.3 L352.0 506.3 L354.0 506.5 L356.0 506.9 L358.0 506.9 L360.0 506.6 L362.0 506.8 L364.0 506.8 L365.9 506.5 L367.9 506.4 L369.9 506.6 L371.9 506.8 L373.9 506.9 L375.9 506.9 L377.9 506.8 L379.9 506.4 L381.9 506.3 L383.9 506.6 L385.9 506.7 L387.9 506.4 L389.9 506.5 L391.9 506.8 L393.9 506.8 L395.9 506.8 L397.9 507.0 L399.9 506.9 L401.9 506.6 L403.9 506.4 L405.9 506.5 L407.9 506.6 L409.9 506.7 L411.8 506.5 L413.8 506.4 L415.8 506.4 L417.8 506.7 L419.8 506.8 L421.8 506.5 L423.8 506.3 L425.8 506.2 L427.8 506.3 L429.8 506.5 L431.8 506.6 L433.8 506.5 L435.8 506.3 L437.8 506.1 L439.8 506.2 L441.8 506.5 L443.8 506.5 L445.8 506.3 L447.8 506.4 L449.8 506.7 L451.8 506.9 L453.8 506.8 L455.8 506.5 L457.7 506.4 L459.7 506.7 L461.7 506.7 L463.7 506.8 L465.7 506.8 L467.7 506.7 L469.7 506.8 L471.7 506.8 L473.7 506.5 L475.7 506.6 L477.7 506.7 L479.7 506.4 L481.7 506.3 L483.7 506.5 L485.7 506.5 L487.7 506.2 L489.7 506.1 L491.7 506.4 L493.7 506.6 L495.7 506.4 L497.7 506.2 L499.7 506.1 L501.6 506.1 L503.6 506.2 L505.6 506.3 L507.6 506.5 L509.6 506.6 L511.6 506.6 L513.6 506.8 L515.6 506.8 L517.6 506.5 L519.6 506.5 L521.6 506.6 L523.6 506.6 L525.6 506.5 L527.6 506.5 L529.6 506.7 L531.6 506.8 L533.6 506.7 L535.6 506.8 L537.6 507.1 L539.6 507.2 L541.6 507.0 L543.6 506.8 L545.6 506.6 L547.5 506.5 L549.5 506.8 L551.5 507.0 L553.5 507.0 L555.5 506.7 L557.5 506.4 L559.5 506.4 L561.5 506.6 L563.5 507.0 L565.5 507.1 L567.5 506.9 L569.5 506.9 L571.5 506.9 L573.5 506.8 L575.5 506.9 L577.5 506.8 L579.5 506.9 L581.5 506.8 L583.5 506.6 L585.5 506.4 L587.5 506.4 L589.5 506.6 L591.5 506.8 L593.4 506.6 L595.4 506.7 L597.4 507.1 L599.4 507.0 L601.4 506.7 L603.4 506.9 L605.4 506.9 L607.4 506.7 L609.4 506.6 L611.4 506.5 L613.4 506.4 L615.4 506.4 L617.4 506.7 L619.4 506.8 L621.4 506.6 L623.4 506.2 L625.4 506.1 L627.4 506.3 L629.4 506.6 L631.4 506.7 L633.4 506.5 L635.4 506.1 L637.4 506.0 L639.3 506.4 L641.3 506.9 L643.3 506.8 L645.3 506.4 L647.3 506.1 L649.3 506.1 L651.3 506.0 L653.3 506.2 L655.3 506.6 L657.3 506.5 L659.3 506.4 L661.3 506.5 L661.9 507.0 L662.0 507.6 L662.1 509.6 L662.3 511.7 L662.4 513.7 L662.5 515.8 L662.6 517.8 L662.6 519.9 L662.3 521.9 L662.0 524.0 L661.9 526.0 L661.9 528.0 L661.9 529.1 L661.8 530.2 L661.2 531.3 L660.1 531.9 L658.8 531.9 L656.8 531.4 L654.8 531.3 L652.8 531.4 L650.8 531.4 L648.8 531.4 L646.8 531.7 L644.8 531.7 L642.8 531.5 L640.8 531.5 L638.8 531.6 L636.8 531.7 L634.8 531.8 L632.7 532.0 L630.7 531.9 L628.7 531.4 L626.7 531.0 L624.7 531.0 L622.7 531.3 L620.7 531.5 L618.7 531.7 L616.7 531.7 L614.7 531.9 L612.7 531.8 L610.7 531.5 L608.7 531.4 L606.7 531.5 L604.7 531.4 L602.7 531.1 L600.7 531.2 L598.7 531.7 L596.7 531.9 L594.7 531.7 L592.7 531.2 L590.7 531.1 L588.7 531.4 L586.7 531.6 L584.7 531.7 L582.7 531.7 L580.6 531.5 L578.6 531.2 L576.6 531.2 L574.6 531.7 L572.6 531.9 L570.6 531.8 L568.6 531.6 L566.6 531.5 L564.6 531.6 L562.6 531.7 L560.6 531.8 L558.6 531.7 L556.6 531.6 L554.6 531.6 L552.6 531.7 L550.6 531.7 L548.6 531.5 L546.6 531.1 L544.6 531.1 L542.6 531.4 L540.6 531.5 L538.6 531.9 L536.6 531.9 L534.6 531.8 L532.6 531.8 L530.6 531.8 L528.5 531.5 L526.5 531.4 L524.5 531.6 L522.5 531.4 L520.5 531.4 L518.5 531.8 L516.5 532.2 L514.5 532.1 L512.5 531.9 L510.5 531.8 L508.5 531.9 L506.5 531.8 L504.5 531.8 L502.5 531.7 L500.5 531.6 L498.5 531.7 L496.5 531.6 L494.5 531.4 L492.5 531.3 L490.5 531.2 L488.5 531.3 L486.5 531.3 L484.5 531.5 L482.5 531.4 L480.5 531.5 L478.5 531.9 L476.4 532.1 L474.4 532.0 L472.4 531.8 L470.4 531.4 L468.4 531.4 L466.4 531.6 L464.4 531.7 L462.4 531.8 L460.4 531.8 L458.4 531.5 L456.4 531.3 L454.4 531.6 L452.4 531.7 L450.4 531.6 L448.4 531.7 L446.4 531.8 L444.4 531.6 L442.4 531.5 L440.4 531.5 L438.4 531.8 L436.4 531.9 L434.4 531.9 L432.4 531.8 L430.4 531.6 L428.4 531.5 L426.4 531.6 L424.3 531.4 L422.3 531.4 L420.3 531.3 L418.3 531.3 L416.3 531.2 L414.3 531.1 L412.3 531.1 L410.3 531.3 L408.3 531.5 L406.3 531.7 L404.3 531.8 L402.3 532.1 L400.3 532.3 L398.3 532.2 L396.3 531.9 L394.3 531.8 L392.3 531.6 L390.3 531.6 L388.3 531.8 L386.3 531.6 L384.3 531.3 L382.3 531.4 L380.3 531.6 L378.3 531.9 L376.3 532.1 L374.3 532.1 L372.2 532.1 L370.2 531.8 L368.2 531.4 L366.2 531.1 L364.2 531.1 L362.2 531.3 L360.2 531.6 L358.2 531.8 L356.2 531.8 L354.2 531.6 L352.2 531.6 L350.2 531.8 L348.2 531.7 L346.2 531.5 L344.2 531.5 L342.2 531.4 L340.2 531.3 L338.2 531.4 L336.2 531.7 L334.2 532.1 L332.2 532.0 L330.2 531.5 L328.2 531.4 L326.2 531.4 L324.2 531.3 L322.2 531.4 L320.1 531.5 L318.1 531.7 L316.1 531.9 L314.1 531.6 L312.1 531.2 L310.1 531.0 L308.1 531.2 L306.1 531.4 L304.1 531.6 L302.1 531.7 L300.1 531.6 L298.1 531.2 L296.3 531.4 L296.1 529.5 L295.9 527.4 L295.8 525.3 L295.9 523.2 L296.0 521.2 L295.9 519.1 L296.1 517.0 L296.3 514.9 L296.1 512.8 L295.9 510.8 L296.1 508.7Z" fill="#ffc64a"/>
<path d="M293.2 562.9 L295.0 562.8 L297.0 562.9 L299.0 563.2 L301.0 563.1 L303.0 562.9 L305.0 562.5 L307.0 562.4 L309.0 562.7 L311.0 562.7 L313.0 562.8 L315.0 562.8 L317.0 562.8 L319.0 562.7 L321.0 562.5 L323.0 562.3 L325.0 562.6 L327.0 563.0 L329.0 562.8 L331.1 562.5 L333.1 562.4 L335.1 562.6 L337.1 562.5 L339.1 562.5 L341.1 562.7 L343.1 562.8 L345.1 562.8 L347.1 562.7 L349.1 562.7 L351.1 563.0 L353.1 563.0 L355.1 562.7 L357.1 562.6 L359.1 562.7 L361.1 562.5 L363.1 562.5 L365.1 562.6 L367.1 562.5 L369.1 562.6 L371.1 562.8 L373.1 563.0 L375.1 563.0 L377.1 562.6 L379.1 562.6 L381.1 563.0 L383.1 563.0 L385.1 562.7 L387.1 562.8 L389.1 562.9 L391.1 562.8 L393.1 562.8 L395.1 562.5 L397.1 562.4 L399.1 562.4 L401.1 562.3 L403.1 562.6 L405.2 562.7 L407.2 562.4 L409.2 562.1 L411.2 562.2 L413.2 562.3 L415.2 562.5 L417.2 562.5 L419.2 562.4 L421.2 562.2 L423.2 562.2 L425.2 562.3 L427.2 562.5 L429.2 562.7 L431.2 562.9 L433.2 562.8 L435.2 562.4 L437.2 562.4 L439.2 562.8 L441.2 562.8 L443.2 562.7 L445.2 562.7 L447.2 562.8 L449.2 562.7 L451.2 562.5 L453.2 562.6 L455.2 562.6 L457.2 562.5 L459.2 562.7 L461.2 562.9 L463.2 562.8 L465.2 562.4 L467.2 562.4 L469.2 562.6 L471.2 562.7 L473.2 562.7 L475.2 562.7 L477.2 562.8 L479.3 562.8 L481.3 562.6 L483.3 562.6 L485.3 562.6 L487.3 562.5 L489.3 562.7 L491.3 562.7 L493.3 562.6 L495.3 562.7 L497.3 562.6 L499.3 562.5 L501.3 562.4 L503.3 562.4 L505.3 562.4 L507.3 562.6 L509.3 562.8 L511.3 562.8 L513.3 562.7 L515.3 562.6 L517.3 562.8 L519.3 562.9 L521.3 562.8 L523.3 562.6 L525.3 562.5 L527.3 562.7 L529.3 563.1 L531.3 563.1 L533.3 562.9 L535.3 562.9 L537.3 562.9 L539.3 562.8 L541.3 562.9 L543.3 562.7 L545.3 562.5 L547.3 562.8 L549.3 563.0 L551.4 562.7 L553.4 562.6 L555.4 562.8 L557.4 563.0 L559.4 563.2 L561.4 563.1 L563.4 562.8 L565.4 562.7 L567.4 562.5 L569.4 562.4 L571.4 562.7 L573.4 563.0 L575.4 563.1 L577.4 562.9 L579.4 563.1 L581.4 563.2 L583.4 563.0 L585.4 562.9 L587.4 562.8 L589.4 562.9 L591.4 563.0 L593.4 562.9 L595.4 562.7 L597.4 562.9 L599.4 562.9 L601.4 562.7 L603.4 562.5 L605.4 562.4 L607.4 562.4 L609.4 562.6 L611.4 562.8 L613.4 562.8 L615.4 562.9 L617.4 562.9 L619.4 562.7 L621.4 562.6 L623.4 562.6 L625.5 562.6 L627.5 562.7 L629.5 562.8 L631.5 562.6 L633.5 562.7 L635.5 563.0 L637.5 563.1 L639.5 563.1 L641.5 562.9 L643.5 562.5 L645.5 562.5 L647.5 562.6 L649.5 562.6 L651.5 562.6 L653.5 562.5 L655.5 562.6 L657.5 562.9 L659.5 562.9 L661.5 563.0 L662.3 563.4 L663.0 563.7 L663.5 564.4 L663.8 565.2 L664.1 567.2 L664.1 569.3 L663.9 571.3 L663.9 573.3 L663.9 575.4 L663.9 577.4 L663.7 579.5 L663.6 581.5 L663.7 583.5 L663.9 585.6 L664.0 587.6 L663.8 588.7 L663.5 589.8 L663.2 590.9 L662.7 592.0 L661.9 592.8 L661.0 593.6 L659.9 594.2 L658.7 594.4 L657.5 594.4 L655.5 594.3 L653.5 594.1 L651.5 594.0 L649.5 594.1 L647.5 594.3 L645.5 594.3 L643.5 594.2 L641.5 594.3 L639.5 594.2 L637.5 594.2 L635.5 594.2 L633.5 594.2 L631.5 594.0 L629.5 593.9 L627.5 593.9 L625.5 593.9 L623.5 593.8 L621.5 593.7 L619.4 593.8 L617.4 593.9 L615.4 594.1 L613.4 594.3 L611.4 594.4 L609.4 594.3 L607.4 594.3 L605.4 594.5 L603.4 594.6 L601.4 594.4 L599.4 594.0 L597.4 593.8 L595.4 593.9 L593.4 593.9 L591.4 594.0 L589.4 594.1 L587.4 594.2 L585.4 594.1 L583.4 593.7 L581.4 593.6 L579.4 593.9 L577.4 594.1 L575.4 594.1 L573.4 594.2 L571.4 594.1 L569.4 594.4 L567.4 594.6 L565.4 594.4 L563.4 594.3 L561.4 594.2 L559.4 593.9 L557.4 593.8 L555.4 594.2 L553.4 594.4 L551.4 594.3 L549.4 594.1 L547.3 593.9 L545.3 594.0 L543.3 594.2 L541.3 594.3 L539.3 594.4 L537.3 594.3 L535.3 593.8 L533.3 593.8 L531.3 594.1 L529.3 593.9 L527.3 593.8 L525.3 594.0 L523.3 594.2 L521.3 594.4 L519.3 594.6 L517.3 594.5 L515.3 594.2 L513.3 594.2 L511.3 594.3 L509.3 594.4 L507.3 594.5 L505.3 594.4 L503.3 594.1 L501.3 593.9 L499.3 594.2 L497.3 594.4 L495.3 594.3 L493.3 594.1 L491.3 594.1 L489.3 594.2 L487.3 594.2 L485.3 594.1 L483.3 594.0 L481.3 594.1 L479.3 594.2 L477.3 594.2 L475.2 594.2 L473.2 594.3 L471.2 594.3 L469.2 594.1 L467.2 594.2 L465.2 594.3 L463.2 594.3 L461.2 594.2 L459.2 594.0 L457.2 593.7 L455.2 593.7 L453.2 593.9 L451.2 593.8 L449.2 593.7 L447.2 593.7 L445.2 593.7 L443.2 593.8 L441.2 593.9 L439.2 593.9 L437.2 593.7 L435.2 593.9 L433.2 594.2 L431.2 594.2 L429.2 594.2 L427.2 594.1 L425.2 594.0 L423.2 593.9 L421.2 593.9 L419.2 593.9 L417.2 593.9 L415.2 594.1 L413.2 594.5 L411.2 594.6 L409.2 594.2 L407.2 594.0 L405.2 594.0 L403.2 594.1 L401.1 594.1 L399.1 594.2 L397.1 594.1 L395.1 593.9 L393.1 593.8 L391.1 593.9 L389.1 594.2 L387.1 594.1 L385.1 593.9 L383.1 593.8 L381.1 593.9 L379.1 594.4 L377.1 594.3 L375.1 594.1 L373.1 594.3 L371.1 594.5 L369.1 594.3 L367.1 594.3 L365.1 594.3 L363.1 594.0 L361.1 593.8 L359.1 593.9 L357.1 594.0 L355.1 594.2 L353.1 594.5 L351.1 594.4 L349.1 594.2 L347.1 594.3 L345.1 594.2 L343.1 594.0 L341.1 594.0 L339.1 594.1 L337.1 594.1 L335.1 594.3 L333.1 594.4 L331.1 594.3 L329.0 594.2 L327.0 594.1 L325.0 594.0 L323.0 593.9 L321.0 593.7 L319.0 593.8 L317.0 594.0 L315.0 594.3 L313.0 594.2 L311.0 594.3 L309.0 594.2 L307.0 593.9 L305.0 594.0 L303.0 594.0 L301.0 594.0 L299.0 594.2 L297.0 594.1 L295.0 593.7 L293.2 593.9 L293.2 592.1 L293.2 590.2 L293.3 588.2 L293.1 586.2 L293.0 584.3 L293.2 582.3 L293.1 580.4 L292.8 578.4 L292.9 576.4 L293.2 574.5 L293.1 572.5 L293.0 570.6 L293.1 568.6 L293.1 566.6 L293.2 564.7Z" fill="#042346"/>
<path d="M296.4 566.4 L298.1 566.4 L300.1 566.1 L302.1 566.0 L304.1 566.0 L306.1 565.9 L308.1 565.6 L310.1 565.7 L312.1 566.1 L314.1 566.2 L316.1 565.9 L318.1 565.9 L320.1 566.3 L322.1 566.3 L324.1 565.8 L326.1 565.7 L328.1 566.0 L330.1 566.2 L332.1 565.9 L334.1 565.7 L336.1 566.1 L338.1 566.1 L340.1 565.8 L342.1 565.6 L344.1 565.6 L346.1 565.9 L348.1 566.0 L350.1 565.8 L352.1 565.6 L354.1 565.8 L356.1 566.1 L358.0 566.1 L360.0 565.8 L362.0 566.0 L364.0 566.5 L366.0 566.8 L368.0 566.5 L370.0 566.2 L372.0 566.3 L374.0 566.3 L376.0 565.9 L378.0 565.7 L380.0 565.9 L382.0 566.3 L384.0 566.3 L386.0 566.1 L388.0 566.1 L390.0 566.2 L392.0 566.3 L394.0 566.3 L396.0 566.3 L398.0 566.4 L400.0 566.4 L402.0 566.0 L404.0 565.8 L406.0 566.0 L408.0 566.2 L410.0 566.2 L412.0 566.4 L414.0 566.5 L416.0 566.2 L418.0 566.1 L420.0 566.3 L422.0 566.4 L424.0 566.4 L426.0 566.1 L428.0 565.5 L430.0 565.5 L432.0 565.8 L434.0 566.1 L436.0 566.1 L438.0 566.0 L440.0 566.0 L442.0 566.2 L444.0 566.2 L446.0 565.7 L448.0 565.4 L450.0 565.6 L452.0 566.0 L454.0 566.3 L456.0 566.2 L458.0 565.9 L460.0 566.0 L462.0 566.1 L464.0 565.8 L466.0 565.8 L468.0 566.0 L470.0 566.2 L472.0 566.3 L474.0 566.1 L476.0 565.9 L477.9 565.8 L479.9 565.8 L481.9 565.9 L483.9 565.8 L485.9 566.0 L487.9 566.3 L489.9 566.1 L491.9 565.9 L493.9 565.9 L495.9 566.0 L497.9 566.0 L499.9 565.9 L501.9 565.9 L503.9 566.2 L505.9 566.4 L507.9 566.5 L509.9 566.5 L511.9 566.5 L513.9 566.3 L515.9 565.9 L517.9 565.9 L519.9 566.0 L521.9 565.9 L523.9 566.2 L525.9 566.3 L527.9 565.9 L529.9 565.7 L531.9 565.7 L533.9 565.9 L535.9 566.2 L537.9 566.1 L539.9 565.8 L541.9 565.8 L543.9 565.9 L545.9 565.6 L547.9 565.4 L549.9 565.5 L551.9 565.9 L553.9 566.0 L555.9 566.0 L557.9 566.2 L559.9 566.2 L561.9 565.9 L563.9 565.7 L565.9 565.7 L567.9 565.8 L569.9 566.1 L571.9 566.2 L573.9 566.1 L575.9 566.0 L577.9 565.9 L579.9 566.0 L581.9 566.1 L583.9 566.2 L585.9 566.4 L587.9 566.4 L589.9 566.2 L591.9 566.2 L593.9 566.2 L595.9 566.0 L597.9 565.9 L599.8 565.8 L601.8 565.9 L603.8 566.3 L605.8 566.5 L607.8 566.2 L609.8 566.0 L611.8 566.1 L613.8 566.0 L615.8 566.0 L617.8 566.0 L619.8 566.3 L621.8 566.2 L623.8 565.8 L625.8 565.5 L627.8 565.5 L629.8 565.8 L631.8 566.1 L633.8 566.3 L635.8 566.4 L637.8 566.2 L639.8 566.1 L641.8 566.3 L643.8 566.2 L645.8 565.8 L647.8 565.9 L649.8 565.9 L651.8 565.7 L653.8 565.6 L655.8 565.8 L657.8 566.1 L659.8 566.3 L660.2 566.7 L660.4 567.1 L660.4 569.1 L660.3 571.1 L660.4 573.2 L660.8 575.2 L660.9 577.3 L660.6 579.3 L660.5 581.4 L660.7 583.4 L660.8 585.5 L660.9 587.5 L660.5 588.5 L660.0 589.5 L659.5 590.6 L658.5 591.1 L657.3 590.9 L655.3 590.8 L653.3 590.9 L651.3 590.7 L649.3 590.7 L647.3 590.9 L645.3 591.0 L643.3 591.2 L641.3 591.3 L639.3 591.1 L637.3 591.1 L635.3 591.4 L633.4 591.3 L631.4 590.9 L629.4 590.8 L627.4 591.1 L625.4 591.1 L623.4 591.2 L621.4 590.9 L619.4 590.8 L617.4 591.0 L615.4 590.9 L613.4 590.9 L611.4 590.7 L609.4 590.6 L607.4 590.8 L605.4 590.7 L603.4 590.6 L601.4 591.0 L599.4 591.2 L597.4 591.2 L595.4 591.1 L593.4 591.0 L591.4 590.8 L589.5 590.8 L587.5 590.9 L585.5 590.9 L583.5 590.9 L581.5 590.9 L579.5 590.8 L577.5 590.8 L575.5 591.0 L573.5 591.2 L571.5 590.9 L569.5 590.7 L567.5 590.7 L565.5 591.0 L563.5 591.2 L561.5 591.3 L559.5 591.3 L557.5 591.1 L555.5 590.9 L553.5 591.1 L551.5 591.0 L549.5 590.9 L547.5 591.0 L545.5 591.0 L543.6 590.9 L541.6 590.8 L539.6 590.8 L537.6 591.0 L535.6 591.1 L533.6 591.0 L531.6 591.1 L529.6 590.9 L527.6 590.8 L525.6 590.9 L523.6 590.9 L521.6 590.4 L519.6 590.4 L517.6 590.8 L515.6 590.8 L513.6 590.6 L511.6 590.6 L509.6 590.7 L507.6 590.8 L505.6 591.1 L503.6 591.1 L501.6 591.1 L499.6 591.1 L497.7 591.0 L495.7 591.1 L493.7 591.2 L491.7 591.3 L489.7 591.4 L487.7 591.4 L485.7 591.0 L483.7 590.9 L481.7 591.3 L479.7 591.5 L477.7 591.7 L475.7 591.8 L473.7 591.6 L471.7 591.4 L469.7 591.3 L467.7 591.3 L465.7 591.4 L463.7 591.2 L461.7 590.9 L459.7 590.9 L457.7 590.9 L455.7 590.9 L453.8 590.8 L451.8 591.0 L449.8 591.3 L447.8 591.4 L445.8 591.4 L443.8 591.2 L441.8 591.2 L439.8 591.3 L437.8 591.2 L435.8 591.0 L433.8 590.8 L431.8 590.9 L429.8 591.3 L427.8 591.3 L425.8 590.9 L423.8 590.8 L421.8 591.1 L419.8 591.1 L417.8 590.8 L415.8 590.7 L413.8 590.9 L411.8 590.9 L409.8 590.6 L407.9 590.6 L405.9 590.8 L403.9 591.0 L401.9 590.9 L399.9 590.8 L397.9 590.7 L395.9 590.6 L393.9 590.8 L391.9 591.0 L389.9 590.9 L387.9 590.6 L385.9 590.6 L383.9 590.7 L381.9 590.7 L379.9 590.6 L377.9 590.8 L375.9 591.1 L373.9 591.1 L371.9 590.9 L369.9 590.8 L367.9 590.8 L365.9 590.8 L363.9 591.0 L362.0 591.0 L360.0 590.8 L358.0 590.9 L356.0 591.2 L354.0 591.3 L352.0 591.0 L350.0 591.0 L348.0 591.1 L346.0 590.9 L344.0 590.8 L342.0 590.6 L340.0 590.7 L338.0 591.0 L336.0 591.2 L334.0 591.4 L332.0 591.3 L330.0 590.8 L328.0 590.5 L326.0 590.6 L324.0 590.8 L322.0 590.6 L320.0 590.6 L318.1 591.1 L316.1 591.4 L314.1 591.3 L312.1 591.1 L310.1 590.9 L308.1 590.8 L306.1 590.7 L304.1 590.6 L302.1 590.7 L300.1 590.9 L298.1 591.2 L296.0 591.1 L296.1 588.9 L296.2 586.8 L296.2 584.8 L296.2 582.7 L296.1 580.6 L296.1 578.5 L296.1 576.4 L296.0 574.4 L296.0 572.3 L296.4 570.2 L296.6 568.1Z" fill="#c1b0f5"/>
<path d="M292.9 622.1 L295.0 622.3 L297.0 622.6 L299.0 622.4 L301.0 622.1 L303.0 621.8 L305.0 621.7 L307.0 621.8 L309.0 621.8 L311.0 621.7 L313.0 621.8 L315.0 621.9 L317.0 622.2 L319.0 622.3 L321.0 622.0 L323.0 621.8 L325.0 621.9 L327.0 622.1 L329.0 622.4 L331.0 622.5 L333.0 622.2 L335.0 622.0 L337.0 621.9 L339.0 621.8 L341.0 621.8 L343.0 621.9 L345.0 621.9 L347.0 622.0 L349.0 622.0 L351.0 622.0 L353.0 621.8 L355.0 621.6 L357.0 621.6 L359.0 621.8 L361.0 622.1 L363.0 622.1 L365.0 622.0 L367.0 622.1 L369.0 622.1 L371.0 622.0 L373.0 622.1 L375.0 622.3 L377.0 622.3 L379.0 622.1 L381.0 621.8 L383.0 621.8 L385.0 621.8 L387.0 621.8 L389.0 621.9 L391.0 622.0 L393.0 622.0 L395.0 621.7 L397.0 621.7 L399.0 621.8 L401.0 622.2 L403.0 622.4 L405.0 622.3 L407.0 622.3 L409.0 622.5 L411.0 622.5 L413.0 622.4 L415.0 622.6 L417.0 622.5 L419.0 622.0 L421.0 621.8 L423.0 622.0 L425.0 622.1 L427.0 621.9 L429.0 621.8 L431.0 621.8 L433.0 621.8 L435.0 621.8 L437.0 622.2 L439.0 622.6 L441.0 622.5 L443.0 622.4 L445.0 622.4 L447.0 622.1 L449.0 621.8 L451.0 621.7 L453.0 621.7 L455.0 621.9 L457.0 622.1 L459.0 622.2 L461.0 622.3 L463.0 622.1 L465.0 622.0 L467.0 621.8 L469.0 621.6 L471.0 621.7 L473.0 621.9 L475.0 621.9 L477.0 622.0 L479.0 622.3 L481.0 622.3 L483.0 622.3 L485.0 622.4 L487.0 622.3 L489.0 621.8 L491.0 621.6 L493.0 621.8 L495.0 621.9 L497.0 622.1 L499.0 622.5 L501.0 622.6 L503.0 622.2 L505.0 622.1 L507.0 622.0 L509.0 621.8 L511.0 621.8 L513.0 622.3 L515.0 622.3 L517.0 621.8 L519.0 621.6 L521.0 621.7 L523.0 621.8 L525.0 621.8 L527.0 622.0 L529.0 622.1 L531.0 621.9 L533.0 621.8 L535.0 621.8 L537.0 621.8 L539.0 622.0 L541.0 622.2 L543.0 622.2 L545.0 622.2 L547.0 621.9 L549.0 621.8 L551.0 622.3 L553.0 622.4 L555.0 622.0 L557.0 621.9 L559.0 622.1 L561.0 622.0 L563.0 622.1 L565.0 622.4 L567.0 622.1 L569.0 621.9 L569.9 622.4 L570.5 623.2 L571.0 623.8 L571.7 624.6 L571.8 626.7 L571.6 628.7 L571.6 630.8 L571.6 632.8 L571.6 634.8 L571.6 636.9 L571.5 638.9 L571.4 640.9 L571.5 643.0 L571.7 645.0 L571.7 647.1 L571.4 648.2 L571.1 649.3 L570.7 650.3 L570.2 651.4 L569.2 652.1 L568.2 652.6 L567.3 653.3 L566.2 653.7 L565.0 653.6 L563.0 653.3 L561.0 653.1 L559.0 653.3 L557.0 653.7 L555.0 654.0 L553.0 653.8 L551.0 653.7 L549.0 653.8 L547.0 653.9 L545.0 654.0 L543.0 653.8 L541.0 653.5 L539.0 653.7 L537.0 653.9 L535.0 654.1 L533.0 654.1 L531.0 654.1 L529.0 654.1 L527.0 653.9 L525.0 653.7 L523.0 653.8 L521.0 653.7 L519.0 653.4 L517.0 653.4 L515.0 653.5 L513.0 653.6 L511.0 653.5 L509.0 653.6 L507.0 653.8 L505.0 653.7 L503.0 653.4 L501.0 653.1 L499.0 653.0 L497.0 653.3 L495.0 653.7 L493.0 653.7 L491.0 653.6 L489.0 653.5 L487.0 653.8 L485.0 653.9 L483.0 653.8 L481.0 653.7 L479.0 653.5 L477.0 653.5 L475.0 653.6 L473.0 653.7 L471.0 653.8 L469.0 653.9 L467.0 654.0 L465.0 653.9 L463.0 653.8 L461.0 653.8 L459.0 654.0 L457.0 654.0 L455.0 653.8 L453.0 653.6 L451.0 653.6 L449.0 653.9 L447.0 654.1 L445.0 653.9 L443.0 653.6 L441.0 653.7 L439.0 653.8 L437.0 653.6 L435.0 653.4 L433.0 653.3 L431.0 653.3 L429.0 653.3 L427.0 653.4 L425.0 653.6 L423.0 653.7 L421.0 653.7 L419.0 653.6 L417.0 653.5 L415.0 653.5 L413.0 653.4 L411.0 653.6 L409.0 653.7 L407.0 653.7 L405.0 653.8 L403.0 653.7 L401.0 653.5 L399.0 653.6 L397.0 653.9 L395.0 653.9 L393.0 653.6 L391.0 653.4 L389.0 653.3 L387.0 653.3 L385.0 653.1 L383.0 653.3 L381.0 653.5 L379.0 653.4 L377.0 653.4 L375.0 653.4 L373.0 653.2 L371.0 653.1 L369.0 653.5 L367.0 653.6 L365.0 653.2 L363.0 653.3 L361.0 653.6 L359.0 653.5 L357.0 653.1 L355.0 653.3 L353.0 653.5 L351.0 653.3 L349.0 653.3 L347.0 653.7 L345.0 653.6 L343.0 653.3 L341.0 653.1 L339.0 653.1 L337.0 653.2 L335.0 653.5 L333.0 653.5 L331.0 653.4 L329.0 653.7 L327.0 653.7 L325.0 653.5 L323.0 653.7 L321.0 653.7 L319.0 653.6 L317.0 653.7 L315.0 653.9 L313.0 653.9 L311.0 653.8 L309.0 653.7 L307.0 653.6 L305.0 653.3 L303.0 653.2 L301.0 653.1 L299.0 653.2 L297.0 653.2 L295.0 653.2 L293.2 653.4 L293.4 651.6 L293.5 649.6 L293.3 647.7 L292.9 645.7 L292.7 643.7 L292.9 641.8 L292.9 639.8 L292.5 637.8 L292.4 635.9 L292.5 633.9 L292.5 632.0 L292.5 630.0 L292.5 628.0 L292.7 626.1 L292.9 624.1Z" fill="#042346"/>
<path d="M296.0 625.4 L298.1 625.3 L300.1 625.5 L302.1 625.7 L304.1 625.4 L306.1 625.2 L308.1 625.3 L310.1 625.4 L312.1 625.4 L314.0 625.3 L316.0 625.0 L318.0 624.9 L320.0 625.1 L322.0 625.4 L324.0 625.5 L326.0 625.5 L328.0 625.7 L330.0 625.8 L332.0 625.6 L334.0 625.4 L336.0 625.4 L338.0 625.5 L340.0 625.6 L342.0 625.7 L344.0 625.9 L346.0 626.0 L347.9 625.9 L349.9 625.8 L351.9 625.8 L353.9 625.7 L355.9 625.5 L357.9 625.4 L359.9 625.5 L361.9 625.4 L363.9 625.3 L365.9 625.3 L367.9 625.1 L369.9 625.2 L371.9 625.3 L373.9 625.3 L375.9 625.3 L377.9 625.5 L379.9 625.5 L381.8 625.5 L383.8 625.5 L385.8 625.4 L387.8 625.2 L389.8 625.4 L391.8 625.8 L393.8 625.8 L395.8 625.5 L397.8 625.5 L399.8 625.7 L401.8 625.7 L403.8 625.4 L405.8 625.2 L407.8 625.4 L409.8 625.7 L411.8 625.7 L413.8 625.5 L415.7 625.6 L417.7 625.8 L419.7 625.5 L421.7 625.3 L423.7 625.5 L425.7 625.5 L427.7 625.4 L429.7 625.6 L431.7 625.5 L433.7 625.2 L435.7 625.2 L437.7 625.3 L439.7 625.4 L441.7 625.3 L443.7 625.2 L445.7 625.4 L447.7 625.7 L449.6 625.7 L451.6 625.7 L453.6 625.7 L455.6 625.6 L457.6 625.7 L459.6 625.9 L461.6 625.9 L463.6 625.7 L465.6 625.5 L467.6 625.6 L469.6 625.7 L471.6 625.4 L473.6 625.5 L475.6 625.9 L477.6 626.1 L479.6 626.0 L481.6 625.7 L483.5 625.5 L485.5 625.5 L487.5 625.5 L489.5 625.7 L491.5 625.8 L493.5 625.7 L495.5 625.6 L497.5 625.5 L499.5 625.5 L501.5 625.8 L503.5 625.9 L505.5 625.9 L507.5 625.8 L509.5 625.9 L511.5 625.9 L513.5 625.7 L515.5 625.8 L517.4 625.7 L519.4 625.4 L521.4 625.3 L523.4 625.4 L525.4 625.3 L527.4 625.3 L529.4 625.4 L531.4 625.5 L533.4 625.5 L535.4 625.5 L537.4 625.6 L539.4 625.5 L541.4 625.4 L543.4 625.3 L545.4 625.5 L547.4 625.8 L549.4 625.8 L551.3 625.6 L553.3 625.6 L555.3 625.6 L557.3 625.3 L559.3 625.4 L561.3 625.9 L563.3 626.0 L565.3 625.9 L567.3 625.7 L568.1 625.7 L568.6 626.5 L568.5 628.5 L568.3 630.6 L568.0 632.6 L567.8 634.7 L567.9 636.7 L568.1 638.8 L568.1 640.8 L568.1 642.9 L568.2 644.9 L568.3 646.9 L568.2 648.1 L567.7 649.1 L566.7 649.6 L565.8 650.2 L564.8 650.5 L562.8 650.5 L560.8 650.3 L558.8 650.3 L556.8 650.2 L554.8 650.1 L552.8 650.1 L550.8 650.1 L548.8 650.2 L546.8 650.1 L544.7 650.3 L542.7 650.7 L540.7 650.9 L538.7 650.8 L536.7 650.6 L534.7 650.6 L532.7 650.7 L530.7 650.6 L528.7 650.4 L526.7 650.2 L524.7 650.2 L522.7 650.4 L520.7 650.6 L518.7 650.4 L516.7 650.3 L514.7 650.2 L512.7 650.0 L510.7 650.3 L508.7 650.6 L506.6 650.5 L504.6 650.5 L502.6 650.4 L500.6 650.2 L498.6 650.0 L496.6 649.9 L494.6 650.0 L492.6 650.2 L490.6 650.4 L488.6 650.4 L486.6 650.4 L484.6 650.5 L482.6 650.5 L480.6 650.5 L478.6 650.3 L476.6 650.2 L474.6 650.4 L472.6 650.6 L470.6 650.7 L468.5 650.6 L466.5 650.4 L464.5 650.4 L462.5 650.3 L460.5 650.5 L458.5 650.6 L456.5 650.3 L454.5 650.3 L452.5 650.4 L450.5 650.7 L448.5 650.9 L446.5 650.9 L444.5 650.6 L442.5 650.5 L440.5 650.4 L438.5 650.2 L436.5 650.2 L434.5 650.3 L432.5 650.3 L430.4 650.3 L428.4 650.6 L426.4 650.8 L424.4 650.7 L422.4 650.5 L420.4 650.6 L418.4 650.8 L416.4 650.6 L414.4 650.1 L412.4 649.9 L410.4 649.9 L408.4 650.2 L406.4 650.5 L404.4 650.4 L402.4 650.4 L400.4 650.5 L398.4 650.5 L396.4 650.4 L394.4 650.3 L392.4 650.3 L390.3 650.4 L388.3 650.6 L386.3 650.6 L384.3 650.3 L382.3 650.1 L380.3 650.1 L378.3 650.1 L376.3 650.4 L374.3 650.4 L372.3 650.1 L370.3 650.0 L368.3 650.2 L366.3 650.5 L364.3 650.6 L362.3 650.4 L360.3 650.3 L358.3 650.2 L356.3 650.2 L354.3 650.2 L352.2 650.1 L350.2 650.4 L348.2 650.8 L346.2 650.8 L344.2 650.5 L342.2 650.3 L340.2 650.1 L338.2 650.0 L336.2 650.4 L334.2 650.7 L332.2 650.8 L330.2 650.6 L328.2 650.5 L326.2 650.4 L324.2 650.3 L322.2 650.4 L320.2 650.2 L318.2 650.1 L316.2 650.1 L314.1 650.0 L312.1 650.0 L310.1 650.2 L308.1 650.5 L306.1 650.8 L304.1 650.8 L302.1 650.4 L300.1 650.3 L298.1 650.6 L295.9 650.6 L296.1 648.4 L296.2 646.3 L296.2 644.2 L296.3 642.1 L296.4 640.1 L296.5 638.0 L296.4 635.9 L296.2 633.8 L296.2 631.7 L296.0 629.7 L296.0 627.6Z" fill="#b25bb0"/>
<path d="M293.2 681.8 L295.0 682.0 L297.0 681.9 L299.0 681.8 L301.1 681.8 L303.1 681.7 L305.1 681.6 L307.1 681.5 L309.1 681.6 L311.1 681.7 L313.1 681.8 L315.1 681.7 L317.2 681.8 L319.2 682.1 L321.2 682.0 L323.2 682.0 L325.2 681.9 L327.2 681.6 L329.2 681.5 L331.2 681.5 L333.3 681.4 L335.3 681.3 L337.3 681.5 L339.3 681.5 L341.3 681.2 L343.3 681.3 L345.3 681.8 L347.3 681.8 L349.4 681.4 L351.4 681.6 L353.4 682.0 L355.4 682.0 L357.4 681.9 L359.4 681.9 L361.4 682.0 L363.4 682.0 L365.5 681.7 L367.5 681.5 L369.5 681.4 L371.5 681.5 L373.5 681.8 L375.5 681.7 L377.5 681.4 L379.6 681.5 L381.6 681.8 L383.6 681.9 L385.6 681.6 L387.6 681.5 L389.6 681.6 L391.6 681.6 L393.6 681.5 L395.7 681.4 L397.7 681.4 L399.7 681.3 L401.7 681.2 L403.7 681.1 L405.7 681.3 L407.7 681.5 L409.7 681.6 L411.8 681.7 L413.8 681.8 L415.8 681.6 L417.8 681.3 L419.8 681.5 L421.8 681.8 L423.8 681.6 L425.8 681.3 L427.9 681.3 L429.9 681.4 L431.9 681.5 L433.9 681.4 L435.9 681.3 L437.9 681.4 L439.9 681.3 L441.9 681.2 L444.0 681.4 L446.0 681.5 L448.0 681.6 L450.0 681.6 L451.0 681.7 L451.9 682.2 L452.3 683.2 L452.3 684.1 L452.4 686.1 L452.5 688.2 L452.7 690.2 L452.6 692.2 L452.7 694.3 L452.8 696.3 L452.4 698.4 L452.1 700.4 L452.2 702.4 L452.3 704.5 L452.2 706.5 L452.2 707.6 L452.2 708.8 L451.8 709.8 L451.1 710.8 L450.2 711.5 L449.2 712.1 L448.3 712.7 L447.2 713.4 L446.0 713.6 L444.0 713.4 L442.0 713.1 L440.0 712.9 L437.9 712.8 L435.9 712.9 L433.9 712.9 L431.9 713.0 L429.9 713.1 L427.9 712.9 L425.9 712.7 L423.9 713.0 L421.8 713.3 L419.8 713.4 L417.8 713.6 L415.8 713.5 L413.8 713.2 L411.8 713.1 L409.8 712.9 L407.8 713.0 L405.7 713.1 L403.7 713.2 L401.7 713.5 L399.7 713.3 L397.7 713.0 L395.7 712.9 L393.7 713.0 L391.6 713.1 L389.6 713.1 L387.6 713.2 L385.6 713.3 L383.6 713.2 L381.6 713.0 L379.6 713.0 L377.6 712.9 L375.5 712.8 L373.5 712.9 L371.5 713.0 L369.5 713.1 L367.5 713.0 L365.5 713.1 L363.5 713.1 L361.4 712.9 L359.4 712.8 L357.4 713.1 L355.4 713.2 L353.4 713.2 L351.4 713.3 L349.4 713.3 L347.4 712.8 L345.3 712.5 L343.3 712.7 L341.3 713.2 L339.3 713.2 L337.3 713.0 L335.3 713.3 L333.3 713.6 L331.2 713.6 L329.2 713.5 L327.2 713.3 L325.2 712.9 L323.2 712.7 L321.2 712.6 L319.2 712.8 L317.2 713.1 L315.1 713.2 L313.1 713.3 L311.1 713.1 L309.1 712.8 L307.1 713.0 L305.1 713.2 L303.1 713.0 L301.1 712.8 L299.0 712.6 L297.0 712.6 L295.0 712.6 L293.1 712.8 L293.3 711.0 L293.2 709.1 L293.0 707.1 L293.2 705.1 L293.4 703.2 L293.4 701.2 L293.3 699.3 L293.4 697.3 L293.6 695.3 L293.6 693.4 L293.3 691.4 L292.9 689.5 L292.8 687.5 L292.8 685.5 L292.9 683.6Z" fill="#042346"/>
<path d="M296.1 684.9 L298.1 685.3 L300.1 685.4 L302.1 685.2 L304.1 684.9 L306.1 684.8 L308.1 684.7 L310.1 684.7 L312.1 684.8 L314.1 684.8 L316.1 684.8 L318.1 684.8 L320.1 684.6 L322.1 684.6 L324.1 684.9 L326.1 685.2 L328.1 685.2 L330.1 685.1 L332.1 684.7 L334.2 684.6 L336.2 684.8 L338.2 685.0 L340.2 685.0 L342.2 685.0 L344.2 684.9 L346.2 684.7 L348.2 684.5 L350.2 684.5 L352.2 684.6 L354.2 684.9 L356.2 685.2 L358.2 685.0 L360.2 684.7 L362.2 684.8 L364.2 685.1 L366.2 685.1 L368.2 685.3 L370.2 685.2 L372.2 684.7 L374.2 684.6 L376.2 684.9 L378.2 685.0 L380.2 685.3 L382.2 685.3 L384.2 685.1 L386.2 685.3 L388.2 685.4 L390.2 685.1 L392.2 685.0 L394.2 684.9 L396.2 684.8 L398.2 685.0 L400.2 685.3 L402.2 685.1 L404.2 684.7 L406.2 684.7 L408.2 684.9 L410.2 684.7 L412.3 684.8 L414.3 685.1 L416.3 684.9 L418.3 684.7 L420.3 684.8 L422.3 684.8 L424.3 684.7 L426.3 684.8 L428.3 685.0 L430.3 685.0 L432.3 685.0 L434.3 684.9 L436.3 684.8 L438.3 685.1 L440.3 685.0 L442.3 684.8 L444.3 684.7 L446.3 684.6 L448.3 684.7 L449.2 685.1 L449.5 685.9 L449.3 688.0 L449.2 690.0 L449.2 692.1 L449.2 694.1 L449.4 696.2 L449.5 698.2 L449.2 700.3 L449.1 702.3 L449.3 704.4 L449.4 706.4 L449.1 707.5 L448.5 708.3 L447.8 709.2 L446.9 709.9 L445.8 709.9 L443.8 709.3 L441.8 709.2 L439.8 709.5 L437.8 709.8 L435.8 709.7 L433.8 709.5 L431.8 709.8 L429.8 710.2 L427.8 710.2 L425.8 710.3 L423.8 710.2 L421.8 710.2 L419.9 710.2 L417.9 710.1 L415.9 710.1 L413.9 709.7 L411.9 709.6 L409.9 709.8 L407.9 709.8 L405.9 709.9 L403.9 709.8 L401.9 709.6 L399.9 709.8 L397.9 710.0 L395.9 709.8 L393.9 709.9 L391.9 710.0 L389.9 710.1 L387.9 710.0 L385.9 709.7 L383.9 709.6 L381.9 709.7 L379.9 709.7 L377.9 709.7 L375.9 709.6 L373.9 709.6 L371.9 709.6 L370.0 709.3 L368.0 709.5 L366.0 709.9 L364.0 709.9 L362.0 709.9 L360.0 709.9 L358.0 710.1 L356.0 710.1 L354.0 710.0 L352.0 710.0 L350.0 710.0 L348.0 709.9 L346.0 709.8 L344.0 710.2 L342.0 710.2 L340.0 709.7 L338.0 709.5 L336.0 709.8 L334.0 710.0 L332.0 709.9 L330.0 710.0 L328.0 710.2 L326.0 710.1 L324.0 709.8 L322.0 709.8 L320.1 709.8 L318.1 709.9 L316.1 709.8 L314.1 709.7 L312.1 709.7 L310.1 709.6 L308.1 709.7 L306.1 710.0 L304.1 710.0 L302.1 709.7 L300.1 709.7 L298.1 709.8 L296.3 709.7 L296.4 707.8 L296.3 705.7 L296.3 703.7 L296.1 701.6 L296.0 699.5 L296.3 697.4 L296.3 695.3 L296.2 693.3 L296.2 691.2 L296.2 689.1 L296.1 687.0Z" fill="#f36552"/>
<path d="M292.7 205.8 L294.6 205.9 L296.2 206.0 L296.3 208.0 L296.4 210.0 L296.3 212.0 L296.1 214.0 L296.0 216.0 L296.2 218.0 L296.5 220.0 L296.4 222.0 L296.2 224.0 L296.1 226.0 L296.1 228.0 L296.1 230.0 L296.1 232.0 L296.0 234.0 L296.1 236.0 L296.3 238.0 L296.4 240.0 L296.2 242.0 L295.9 243.9 L296.0 245.9 L296.3 247.9 L296.3 249.9 L296.2 251.9 L296.1 253.9 L295.9 255.9 L296.0 257.9 L296.2 259.9 L296.1 261.9 L296.2 263.9 L296.4 265.9 L296.4 267.9 L296.1 269.9 L296.1 271.9 L296.1 273.9 L296.1 275.9 L296.1 277.9 L296.1 279.9 L296.2 281.9 L296.2 283.9 L296.2 285.9 L296.2 287.9 L296.2 289.9 L296.2 291.9 L296.4 293.9 L296.3 295.9 L296.3 297.9 L296.3 299.9 L296.2 301.9 L296.2 303.9 L296.5 305.9 L296.4 307.9 L296.0 309.9 L296.1 311.9 L296.4 313.9 L296.4 315.8 L296.3 317.8 L296.2 319.8 L296.1 321.8 L296.1 323.8 L296.0 325.8 L296.1 327.8 L296.2 329.8 L296.1 331.8 L296.1 333.8 L296.1 335.8 L296.2 337.8 L296.4 339.8 L296.6 341.8 L296.5 343.8 L296.4 345.8 L296.5 347.8 L296.2 349.8 L296.1 351.8 L296.3 353.8 L296.2 355.8 L296.1 357.8 L296.2 359.8 L296.2 361.8 L296.3 363.8 L296.3 365.8 L296.2 367.8 L296.2 369.8 L296.2 371.8 L296.0 373.8 L295.9 375.8 L296.0 377.8 L296.3 379.8 L296.4 381.8 L296.2 383.8 L296.0 385.8 L296.0 387.7 L296.1 389.7 L296.2 391.7 L296.1 393.7 L296.0 395.7 L296.1 397.7 L296.3 399.7 L296.3 401.7 L296.2 403.7 L296.5 405.7 L296.4 407.7 L296.1 409.7 L296.0 411.7 L296.0 413.7 L296.2 415.7 L296.5 417.7 L296.3 419.7 L296.0 421.7 L296.0 423.7 L296.2 425.7 L296.0 427.7 L295.9 429.7 L295.9 431.7 L295.9 433.7 L296.1 435.7 L296.3 437.7 L296.3 439.7 L296.3 441.7 L296.4 443.7 L296.2 445.7 L296.1 447.7 L296.3 449.7 L296.3 451.7 L296.1 453.7 L296.3 455.7 L296.4 457.7 L296.2 459.6 L296.3 461.6 L296.4 463.6 L296.3 465.6 L296.4 467.6 L296.5 469.6 L296.5 471.6 L296.4 473.6 L296.3 475.6 L296.2 477.6 L296.1 479.6 L296.3 481.6 L296.2 483.6 L296.1 485.6 L296.2 487.6 L296.2 489.6 L296.1 491.6 L296.0 493.6 L295.9 495.6 L295.9 497.6 L296.0 499.6 L296.1 501.6 L296.1 503.6 L296.2 505.6 L296.3 507.6 L296.3 509.6 L296.4 511.6 L296.4 513.6 L296.2 515.6 L296.1 517.6 L296.5 519.6 L296.7 521.6 L296.4 523.6 L296.2 525.6 L296.3 527.6 L296.4 529.6 L296.3 531.6 L296.3 533.5 L296.5 535.5 L296.6 537.5 L296.6 539.5 L296.3 541.5 L296.3 543.5 L296.5 545.5 L296.6 547.5 L296.6 549.5 L296.4 551.5 L296.1 553.5 L296.0 555.5 L296.2 557.5 L296.3 559.5 L296.2 561.5 L296.1 563.5 L295.9 565.5 L295.9 567.5 L296.1 569.5 L296.4 571.5 L296.4 573.5 L296.3 575.5 L296.2 577.5 L296.3 579.5 L296.4 581.5 L296.3 583.5 L296.2 585.5 L296.4 587.5 L296.5 589.5 L296.4 591.5 L296.3 593.5 L296.3 595.5 L296.3 597.5 L296.1 599.5 L296.1 601.5 L296.2 603.5 L296.0 605.4 L295.8 607.4 L296.0 609.4 L296.3 611.4 L296.4 613.4 L296.5 615.4 L296.5 617.4 L296.3 619.4 L296.2 621.4 L296.0 623.4 L295.9 625.4 L295.9 627.4 L296.1 629.4 L296.3 631.4 L296.2 633.4 L296.0 635.4 L296.0 637.4 L296.2 639.4 L296.4 641.4 L296.6 643.4 L296.5 645.4 L296.0 647.4 L295.9 649.4 L296.0 651.4 L296.0 653.4 L296.0 655.4 L296.1 657.4 L296.2 659.4 L296.3 661.4 L296.3 663.4 L296.1 665.4 L296.1 667.4 L296.2 669.4 L296.3 671.4 L296.5 673.4 L296.5 675.4 L296.4 677.3 L296.5 679.3 L296.5 681.3 L296.1 683.3 L296.0 685.3 L296.3 687.3 L296.3 689.3 L296.4 691.3 L296.3 693.3 L296.1 695.3 L296.2 697.3 L296.3 699.3 L296.3 701.3 L296.3 703.3 L296.2 705.3 L296.2 707.3 L296.4 709.3 L296.6 711.3 L296.4 713.5 L294.6 713.5 L292.9 713.4 L293.0 711.3 L293.1 709.3 L293.2 707.3 L293.1 705.3 L292.9 703.3 L293.0 701.3 L293.1 699.3 L292.9 697.3 L292.8 695.3 L292.8 693.3 L292.8 691.3 L293.0 689.3 L293.1 687.3 L292.9 685.3 L292.8 683.3 L292.9 681.3 L293.1 679.3 L293.1 677.3 L293.2 675.4 L293.2 673.4 L293.0 671.4 L292.9 669.4 L293.0 667.4 L293.0 665.4 L293.2 663.4 L293.4 661.4 L293.2 659.4 L293.0 657.4 L293.1 655.4 L293.3 653.4 L293.3 651.4 L293.4 649.4 L293.3 647.4 L293.2 645.4 L293.2 643.4 L293.2 641.4 L293.0 639.4 L292.8 637.4 L292.9 635.4 L292.8 633.4 L292.8 631.4 L293.0 629.4 L293.1 627.4 L292.9 625.4 L293.0 623.4 L293.2 621.4 L293.1 619.4 L293.3 617.4 L293.3 615.4 L293.0 613.4 L292.9 611.4 L293.2 609.4 L293.5 607.4 L293.6 605.4 L293.4 603.5 L293.2 601.5 L293.0 599.5 L292.7 597.5 L292.7 595.5 L292.7 593.5 L292.7 591.5 L292.8 589.5 L293.1 587.5 L293.1 585.5 L292.8 583.5 L292.7 581.5 L292.7 579.5 L292.7 577.5 L292.8 575.5 L292.9 573.5 L293.2 571.5 L293.1 569.5 L292.9 567.5 L292.7 565.5 L292.7 563.5 L292.9 561.5 L293.2 559.5 L293.3 557.5 L293.3 555.5 L293.3 553.5 L293.2 551.5 L293.0 549.5 L293.0 547.5 L292.9 545.5 L292.9 543.5 L293.0 541.5 L293.0 539.5 L292.9 537.5 L293.0 535.5 L293.2 533.5 L293.3 531.6 L293.2 529.6 L293.2 527.6 L293.0 525.6 L292.8 523.6 L292.9 521.6 L293.0 519.6 L293.0 517.6 L293.2 515.6 L293.3 513.6 L293.3 511.6 L293.2 509.6 L293.3 507.6 L293.2 505.6 L293.1 503.6 L293.1 501.6 L293.2 499.6 L293.3 497.6 L293.3 495.6 L293.2 493.6 L293.2 491.6 L293.2 489.6 L292.9 487.6 L292.7 485.6 L292.8 483.6 L292.7 481.6 L292.8 479.6 L292.9 477.6 L292.9 475.6 L293.1 473.6 L293.1 471.6 L292.9 469.6 L292.9 467.6 L292.9 465.6 L293.0 463.6 L293.1 461.6 L293.0 459.6 L293.0 457.7 L293.1 455.7 L293.1 453.7 L293.1 451.7 L293.3 449.7 L293.5 447.7 L293.3 445.7 L292.9 443.7 L292.8 441.7 L292.9 439.7 L293.2 437.7 L293.1 435.7 L292.9 433.7 L292.8 431.7 L292.9 429.7 L293.3 427.7 L293.3 425.7 L293.1 423.7 L293.1 421.7 L293.0 419.7 L293.0 417.7 L293.3 415.7 L293.4 413.7 L293.3 411.7 L293.1 409.7 L292.9 407.7 L293.1 405.7 L293.0 403.7 L292.9 401.7 L293.2 399.7 L293.2 397.7 L293.1 395.7 L293.0 393.7 L292.9 391.7 L293.0 389.7 L293.0 387.7 L293.0 385.8 L293.1 383.8 L293.2 381.8 L293.2 379.8 L293.3 377.8 L293.2 375.8 L293.1 373.8 L293.2 371.8 L293.1 369.8 L293.0 367.8 L293.0 365.8 L292.9 363.8 L292.7 361.8 L292.7 359.8 L292.7 357.8 L292.8 355.8 L292.7 353.8 L292.8 351.8 L293.0 349.8 L292.9 347.8 L292.7 345.8 L292.8 343.8 L292.8 341.8 L292.8 339.8 L293.2 337.8 L293.5 335.8 L293.5 333.8 L293.3 331.8 L293.3 329.8 L293.3 327.8 L293.1 325.8 L292.8 323.8 L293.0 321.8 L293.2 319.8 L293.2 317.8 L293.4 315.8 L293.4 313.9 L293.1 311.9 L292.8 309.9 L292.7 307.9 L292.7 305.9 L292.7 303.9 L292.7 301.9 L292.9 299.9 L292.9 297.9 L292.8 295.9 L292.8 293.9 L292.9 291.9 L292.9 289.9 L292.9 287.9 L293.0 285.9 L292.9 283.9 L292.9 281.9 L292.9 279.9 L292.8 277.9 L292.6 275.9 L292.5 273.9 L292.7 271.9 L292.9 269.9 L293.0 267.9 L293.2 265.9 L293.3 263.9 L293.2 261.9 L293.1 259.9 L292.9 257.9 L293.0 255.9 L293.1 253.9 L293.0 251.9 L292.8 249.9 L292.8 247.9 L293.1 245.9 L293.2 243.9 L293.2 242.0 L293.1 240.0 L293.1 238.0 L293.1 236.0 L292.9 234.0 L292.7 232.0 L292.8 230.0 L293.2 228.0 L293.2 226.0 L292.9 224.0 L292.9 222.0 L293.0 220.0 L293.0 218.0 L293.1 216.0 L293.1 214.0 L292.9 212.0 L292.6 210.0 L292.5 208.0Z" fill="#042346"/>
<path d="M953.5 220.5 L955.4 220.6 L957.4 220.5 L959.3 220.5 L961.2 220.5 L963.1 220.5 L965.1 220.6 L967.0 220.5 L968.9 220.6 L970.9 220.7 L972.8 220.6 L974.7 220.4 L976.6 220.3 L978.6 220.4 L980.4 220.6 L980.3 222.3 L980.3 224.2 L980.4 226.0 L980.5 227.8 L980.5 229.7 L980.4 231.4 L979.0 230.6 L977.5 229.9 L975.6 229.4 L973.6 228.7 L971.4 228.3 L969.0 227.6 L966.6 226.9 L964.0 226.2 L961.5 225.3 L958.9 224.1 L956.2 222.9 L953.5 221.7Z" fill="#042346"/>
<path d="M934.0 188.7 L933.9 187.6 L933.9 186.4 L934.1 185.2 L934.6 184.1 L935.3 183.1 L936.1 182.3 L937.1 181.6 L938.0 181.0 L939.1 180.4 L940.1 179.9 L941.3 179.4 L942.5 179.4 L944.5 179.5 L946.5 179.7 L948.5 180.0 L950.5 180.0 L952.5 179.7 L954.5 179.7 L956.6 179.9 L958.6 180.1 L960.6 180.0 L962.6 180.0 L964.6 179.9 L966.6 179.6 L968.6 179.6 L970.6 179.9 L972.6 180.1 L974.6 180.1 L976.6 180.2 L978.6 180.3 L980.7 180.2 L982.7 179.9 L984.7 179.5 L986.7 179.4 L988.7 179.8 L990.7 179.7 L992.7 179.6 L993.9 179.9 L995.0 180.2 L996.2 180.3 L997.2 180.9 L998.2 181.6 L999.2 182.2 L1000.0 183.1 L1000.5 184.2 L1001.1 185.2 L1001.5 186.3 L1001.7 187.5 L1001.8 188.7 L1001.9 190.8 L1001.8 192.8 L1001.5 194.9 L1001.3 197.0 L1001.3 199.0 L1001.4 201.1 L1001.8 203.2 L1001.9 205.2 L1001.8 207.3 L1001.9 209.4 L1002.2 211.4 L1002.3 213.5 L1002.1 214.7 L1001.7 215.9 L1001.1 217.0 L1000.4 218.0 L999.7 218.9 L998.9 219.7 L998.1 220.5 L997.1 221.2 L996.1 221.6 L994.9 221.9 L993.9 222.2 L992.7 222.6 L990.7 222.9 L988.7 222.7 L986.7 222.4 L984.7 222.5 L982.7 222.5 L980.7 222.4 L978.6 222.3 L976.6 222.2 L974.6 222.3 L972.6 222.6 L970.6 222.6 L968.6 222.4 L966.6 222.1 L964.6 222.0 L962.6 222.1 L960.6 222.2 L958.6 222.4 L956.6 222.3 L954.5 222.4 L952.5 222.5 L950.5 222.5 L948.5 222.6 L946.5 222.6 L944.5 222.6 L942.5 222.8 L941.3 222.8 L940.2 222.2 L939.1 221.6 L937.9 221.4 L936.7 221.0 L935.9 220.1 L935.4 218.9 L935.1 217.8 L934.7 216.7 L934.1 215.7 L933.7 214.7 L933.8 213.5 L933.7 211.4 L933.5 209.4 L933.5 207.3 L933.3 205.2 L933.1 203.2 L933.2 201.1 L933.4 199.0 L933.3 197.0 L933.1 194.9 L933.3 192.8 L933.8 190.8Z" fill="#042346"/>
<path d="M936.8 188.6 L936.8 187.5 L937.0 186.4 L937.4 185.2 L938.1 184.3 L939.1 183.7 L940.2 183.2 L941.2 182.7 L942.4 182.4 L944.4 182.6 L946.4 182.8 L948.4 182.6 L950.4 182.4 L952.4 182.6 L954.4 182.7 L956.5 182.8 L958.5 183.0 L960.5 182.9 L962.5 182.6 L964.5 182.8 L966.5 182.8 L968.5 182.7 L970.5 182.8 L972.5 183.0 L974.5 183.1 L976.5 183.0 L978.5 183.0 L980.6 183.0 L982.6 182.7 L984.6 182.7 L986.6 182.8 L988.6 182.9 L990.6 182.9 L992.6 182.7 L993.7 182.8 L994.8 183.3 L995.9 183.6 L997.0 184.2 L997.6 185.2 L998.0 186.4 L998.5 187.4 L998.5 188.6 L998.4 190.7 L998.3 192.8 L998.3 194.8 L998.5 196.9 L998.5 199.0 L998.3 201.1 L998.2 203.1 L998.2 205.2 L998.4 207.3 L998.4 209.3 L998.2 211.4 L998.5 213.5 L998.7 214.7 L998.4 215.9 L997.8 217.0 L996.9 217.8 L995.9 218.5 L994.9 219.1 L993.8 219.3 L992.6 219.3 L990.6 219.4 L988.6 219.5 L986.6 219.4 L984.6 219.4 L982.6 219.8 L980.6 219.9 L978.5 219.7 L976.5 219.3 L974.5 219.1 L972.5 219.2 L970.5 219.3 L968.5 219.4 L966.5 219.5 L964.5 219.5 L962.5 219.4 L960.5 219.0 L958.5 219.1 L956.5 219.4 L954.4 219.4 L952.4 219.4 L950.4 219.6 L948.4 219.4 L946.4 219.1 L944.4 219.2 L942.4 219.6 L941.2 219.5 L940.2 218.9 L939.3 218.2 L938.4 217.5 L937.7 216.6 L937.3 215.6 L936.7 214.6 L936.4 213.5 L936.3 211.4 L936.1 209.3 L936.0 207.3 L936.2 205.2 L936.5 203.1 L936.5 201.1 L936.2 199.0 L936.2 196.9 L936.5 194.8 L936.8 192.8 L936.9 190.7Z" fill="#fdfbf7"/>
<path d="M938.2 280.8 L939.9 280.8 L941.9 280.7 L943.8 280.6 L945.7 280.5 L947.6 280.5 L949.6 280.5 L951.5 280.4 L953.4 280.3 L955.4 280.5 L957.3 280.6 L959.2 280.6 L961.1 280.7 L963.1 280.8 L964.8 280.7 L964.8 282.3 L964.9 284.2 L964.9 286.0 L964.9 287.8 L965.1 289.7 L965.0 291.5 L963.6 290.4 L962.1 289.5 L960.2 289.2 L958.1 288.7 L955.9 288.2 L953.6 287.5 L951.2 286.7 L948.6 286.0 L946.0 285.1 L943.4 284.0 L940.7 282.9 L938.2 281.5Z" fill="#042346"/>
<path d="M915.2 248.5 L915.5 247.3 L915.7 246.2 L915.9 244.9 L916.4 243.8 L917.1 242.8 L918.1 242.1 L919.0 241.3 L919.8 240.4 L921.0 240.0 L922.2 240.1 L923.4 239.8 L924.5 239.7 L926.5 239.8 L928.5 239.9 L930.6 239.8 L932.6 239.9 L934.6 239.8 L936.6 239.5 L938.6 239.6 L940.6 239.8 L942.7 239.8 L944.7 239.6 L946.7 239.3 L948.7 239.3 L950.7 239.2 L952.8 239.3 L954.8 239.6 L956.8 239.6 L958.8 239.4 L960.8 239.2 L962.9 239.2 L964.9 239.4 L966.9 239.5 L968.9 239.3 L970.9 239.1 L972.9 239.2 L975.0 239.5 L977.0 239.6 L979.0 239.5 L980.2 239.7 L981.3 239.9 L982.5 240.1 L983.6 240.5 L984.7 241.1 L985.5 242.0 L986.1 243.0 L986.6 244.1 L987.2 245.1 L987.7 246.2 L987.8 247.3 L988.0 248.5 L988.2 250.6 L988.2 252.7 L988.2 254.8 L988.2 256.8 L988.2 258.9 L988.3 261.0 L988.2 263.1 L988.1 265.2 L987.9 267.2 L987.7 269.3 L987.5 271.4 L987.7 273.5 L987.9 274.7 L987.5 275.8 L986.9 276.8 L986.5 277.8 L986.1 278.9 L985.3 279.8 L984.4 280.5 L983.3 281.0 L982.3 281.6 L981.3 282.1 L980.2 282.2 L979.0 282.0 L977.0 282.2 L975.0 282.7 L972.9 282.8 L970.9 282.8 L968.9 282.8 L966.9 282.6 L964.9 282.2 L962.9 282.1 L960.8 282.3 L958.8 282.6 L956.8 282.9 L954.8 282.8 L952.8 282.4 L950.7 282.3 L948.7 282.6 L946.7 282.5 L944.7 282.5 L942.7 282.6 L940.6 282.3 L938.6 282.2 L936.6 282.2 L934.6 282.2 L932.6 282.1 L930.6 282.2 L928.5 282.3 L926.5 282.2 L924.5 282.3 L923.3 282.4 L922.1 282.5 L920.8 282.4 L919.8 281.6 L919.1 280.6 L918.2 279.8 L917.2 279.1 L916.5 278.1 L916.1 277.0 L916.0 275.8 L915.6 274.7 L915.4 273.5 L915.6 271.4 L915.6 269.3 L915.7 267.2 L915.8 265.2 L915.8 263.1 L915.5 261.0 L915.2 258.9 L915.0 256.8 L915.0 254.8 L915.4 252.7 L915.5 250.6Z" fill="#042346"/>
<path d="M918.4 248.4 L918.6 247.2 L918.9 246.1 L919.5 245.1 L920.3 244.3 L921.2 243.6 L922.2 243.1 L923.3 242.8 L924.4 242.8 L926.4 242.7 L928.4 242.7 L930.5 242.5 L932.5 242.3 L934.5 242.3 L936.5 242.5 L938.5 242.6 L940.5 242.7 L942.6 242.8 L944.6 242.8 L946.6 242.8 L948.6 242.7 L950.6 242.8 L952.7 242.7 L954.7 242.5 L956.7 242.3 L958.7 242.1 L960.7 242.1 L962.8 242.3 L964.8 242.7 L966.8 243.0 L968.8 242.9 L970.8 242.6 L972.8 242.6 L974.9 242.8 L976.9 242.7 L978.9 242.6 L980.0 242.7 L981.2 242.9 L982.3 243.3 L983.1 244.2 L983.8 245.1 L984.5 246.1 L984.7 247.3 L984.5 248.4 L984.5 250.3 L984.7 252.3 L984.8 254.2 L984.9 256.1 L984.8 258.1 L984.7 260.0 L984.8 261.9 L984.8 263.8 L984.8 265.8 L984.7 267.7 L984.7 269.6 L984.8 271.6 L984.6 273.5 L984.4 274.6 L984.0 275.6 L983.5 276.6 L982.9 277.5 L982.1 278.3 L981.1 278.8 L980.0 279.1 L978.9 279.5 L976.9 279.5 L974.9 279.3 L972.8 279.2 L970.8 279.3 L968.8 279.4 L966.8 279.5 L964.8 279.2 L962.8 278.9 L960.7 278.9 L958.7 279.2 L956.7 279.6 L954.7 279.8 L952.7 279.6 L950.6 279.4 L948.6 279.3 L946.6 279.3 L944.6 279.3 L942.6 279.2 L940.5 279.2 L938.5 279.3 L936.5 279.6 L934.5 279.6 L932.5 279.3 L930.5 279.1 L928.4 279.2 L926.4 279.3 L924.4 279.4 L923.2 279.5 L922.1 279.1 L921.2 278.3 L920.3 277.6 L919.3 276.9 L918.9 275.8 L918.8 274.6 L918.8 273.5 L918.8 271.6 L918.7 269.6 L918.7 267.7 L918.5 265.8 L918.5 263.8 L918.7 261.9 L918.8 260.0 L918.6 258.1 L918.6 256.1 L918.7 254.2 L918.8 252.3 L918.5 250.3Z" fill="#fdfbf7"/>
<path d="M900.0 340.0 L901.9 340.0 L903.9 340.1 L905.8 340.0 L907.7 340.0 L909.6 340.1 L911.6 340.2 L913.5 340.2 L915.4 340.1 L917.4 340.1 L919.3 339.9 L921.2 339.9 L923.1 339.9 L925.1 339.9 L927.0 340.0 L927.1 341.8 L927.2 343.7 L927.1 345.5 L926.9 347.3 L926.8 349.2 L926.9 350.9 L925.6 350.0 L924.1 349.1 L922.1 348.8 L920.1 348.2 L917.9 347.6 L915.6 347.0 L913.1 346.3 L910.6 345.6 L908.0 344.7 L905.4 343.6 L902.6 342.6 L899.9 341.3Z" fill="#042346"/>
<path d="M878.3 308.2 L878.2 307.0 L878.5 305.9 L879.2 305.0 L879.6 303.9 L879.9 302.7 L880.7 301.9 L881.6 301.2 L882.5 300.4 L883.5 299.8 L884.7 299.5 L885.8 299.3 L887.0 299.3 L889.0 299.2 L891.0 299.3 L892.9 299.5 L894.9 299.4 L896.9 299.7 L898.9 299.8 L900.9 299.3 L902.9 299.2 L904.8 299.4 L906.8 299.2 L908.8 299.0 L910.8 299.1 L912.8 299.2 L914.7 299.2 L916.7 299.2 L918.7 299.2 L920.7 299.4 L922.7 299.6 L924.6 299.6 L926.6 299.5 L928.6 299.3 L930.6 299.2 L932.6 299.2 L934.6 299.0 L936.5 298.8 L938.5 298.8 L940.5 299.1 L941.6 299.5 L942.8 299.5 L944.0 299.8 L945.1 300.3 L946.1 300.9 L946.9 301.8 L947.3 302.9 L948.0 303.9 L948.7 304.8 L949.2 305.9 L949.8 307.0 L950.2 308.2 L949.8 310.3 L949.4 312.3 L949.3 314.4 L949.5 316.5 L949.3 318.5 L949.2 320.6 L949.4 322.7 L949.5 324.7 L949.4 326.8 L949.4 328.9 L949.5 330.9 L949.6 333.0 L949.4 334.2 L949.0 335.3 L948.4 336.3 L947.8 337.2 L947.4 338.3 L946.7 339.2 L945.9 340.0 L945.0 340.8 L944.0 341.5 L942.9 341.9 L941.7 342.2 L940.5 342.3 L938.5 342.2 L936.5 342.1 L934.6 341.8 L932.6 342.0 L930.6 342.3 L928.6 342.3 L926.6 342.0 L924.6 341.9 L922.7 341.9 L920.7 342.0 L918.7 342.2 L916.7 342.0 L914.7 341.6 L912.8 341.4 L910.8 341.5 L908.8 341.5 L906.8 341.4 L904.8 341.5 L902.9 341.9 L900.9 342.2 L898.9 342.2 L896.9 342.1 L894.9 342.0 L892.9 342.1 L891.0 341.9 L889.0 341.6 L887.0 341.6 L885.9 341.4 L884.8 341.2 L883.6 341.3 L882.4 341.0 L881.4 340.2 L880.6 339.4 L879.9 338.4 L879.1 337.5 L878.7 336.4 L878.5 335.3 L878.3 334.1 L878.0 333.0 L877.8 330.9 L877.7 328.9 L877.7 326.8 L878.1 324.7 L878.2 322.7 L877.8 320.6 L877.7 318.5 L877.7 316.5 L877.7 314.4 L878.0 312.3 L878.3 310.3Z" fill="#042346"/>
<path d="M881.0 308.1 L881.2 307.0 L881.7 305.9 L882.4 305.1 L883.2 304.4 L883.9 303.7 L884.8 303.0 L885.8 302.7 L886.9 302.4 L888.9 302.3 L890.9 302.4 L892.8 302.7 L894.8 302.8 L896.8 302.7 L898.8 302.5 L900.8 302.2 L902.8 302.2 L904.7 302.3 L906.7 302.4 L908.7 302.2 L910.7 301.9 L912.7 302.0 L914.6 302.3 L916.6 302.5 L918.6 302.4 L920.6 302.1 L922.6 302.1 L924.5 302.3 L926.5 302.4 L928.5 302.5 L930.5 302.5 L932.5 302.5 L934.5 302.5 L936.4 302.4 L938.4 302.4 L940.4 302.3 L941.5 302.3 L942.6 302.7 L943.7 303.2 L944.7 303.8 L945.3 304.8 L945.6 306.0 L945.8 307.0 L946.0 308.1 L946.0 310.2 L946.0 312.2 L946.3 314.3 L946.5 316.4 L946.4 318.5 L946.3 320.6 L946.2 322.6 L946.2 324.7 L946.2 326.8 L946.3 328.9 L946.4 330.9 L946.4 333.0 L946.1 334.1 L945.9 335.3 L945.4 336.3 L944.4 337.0 L943.5 337.6 L942.6 338.3 L941.6 338.8 L940.4 338.8 L938.4 338.7 L936.4 338.6 L934.5 338.7 L932.5 339.1 L930.5 339.4 L928.5 339.3 L926.5 338.9 L924.5 338.7 L922.6 338.5 L920.6 338.7 L918.6 339.1 L916.6 339.0 L914.6 338.7 L912.7 338.6 L910.7 338.9 L908.7 339.1 L906.7 339.0 L904.7 338.9 L902.8 339.1 L900.8 339.4 L898.8 339.2 L896.8 338.8 L894.8 338.7 L892.8 338.9 L890.9 338.8 L888.9 338.8 L886.9 339.1 L885.7 339.1 L884.5 338.8 L883.5 338.2 L882.5 337.4 L881.9 336.4 L881.2 335.4 L880.5 334.3 L880.4 333.0 L880.7 330.9 L880.8 328.9 L880.8 326.8 L880.8 324.7 L880.8 322.6 L880.8 320.6 L881.1 318.5 L881.3 316.4 L881.2 314.3 L881.2 312.2 L881.2 310.2Z" fill="#fdfbf7"/>
<path d="M790.0 399.5 L791.9 399.4 L793.9 399.4 L795.8 399.3 L797.7 399.2 L799.6 399.3 L801.6 399.4 L803.5 399.5 L805.4 399.5 L807.4 399.6 L809.3 399.6 L811.2 399.5 L813.1 399.4 L815.1 399.3 L817.1 399.4 L817.0 401.3 L817.1 403.2 L817.1 405.0 L816.8 406.8 L816.7 408.7 L816.8 410.3 L815.6 409.5 L814.0 408.7 L812.1 408.2 L810.1 407.8 L807.9 407.2 L805.6 406.4 L803.2 405.6 L800.7 404.7 L798.1 403.9 L795.5 402.9 L792.8 401.8 L790.0 400.6Z" fill="#042346"/>
<path d="M769.1 368.2 L769.3 367.1 L769.4 365.9 L769.6 364.7 L770.4 363.8 L771.3 363.1 L772.0 362.2 L772.7 361.2 L773.4 360.3 L774.5 359.7 L775.6 359.3 L776.8 359.2 L778.0 359.3 L780.0 359.1 L782.0 359.2 L784.0 359.4 L786.0 359.5 L788.0 359.2 L790.0 359.0 L792.0 359.3 L794.0 359.5 L796.0 359.1 L798.0 359.1 L800.0 359.3 L802.0 359.2 L804.0 359.1 L806.0 359.3 L808.0 359.4 L810.0 359.3 L812.0 359.3 L814.0 359.1 L816.0 358.8 L818.0 358.6 L820.0 358.7 L822.0 359.0 L824.0 359.0 L826.0 359.3 L828.0 359.5 L830.0 359.5 L831.1 359.5 L832.3 359.7 L833.4 360.0 L834.5 360.4 L835.6 360.9 L836.3 361.9 L836.9 362.9 L837.7 363.8 L838.2 364.8 L838.4 365.9 L838.7 367.1 L838.9 368.2 L839.2 370.2 L839.3 372.2 L839.1 374.3 L838.9 376.3 L838.9 378.3 L839.1 380.4 L839.1 382.4 L838.7 384.4 L838.6 386.4 L838.8 388.4 L839.0 390.5 L839.0 392.5 L838.8 393.7 L838.4 394.8 L838.0 395.8 L837.5 396.8 L837.0 397.8 L836.3 398.8 L835.5 399.7 L834.5 400.3 L833.3 400.6 L832.3 401.0 L831.2 401.3 L830.0 401.2 L828.0 401.3 L826.0 401.4 L824.0 401.3 L822.0 401.2 L820.0 401.3 L818.0 401.3 L816.0 401.4 L814.0 401.4 L812.0 401.3 L810.0 401.3 L808.0 401.4 L806.0 401.7 L804.0 401.5 L802.0 401.5 L800.0 401.6 L798.0 401.4 L796.0 401.3 L794.0 401.5 L792.0 401.8 L790.0 401.9 L788.0 401.6 L786.0 401.2 L784.0 401.3 L782.0 401.5 L780.0 401.3 L778.0 401.1 L776.8 401.3 L775.7 401.2 L774.6 400.8 L773.5 400.3 L772.6 399.5 L771.6 398.9 L770.9 398.0 L770.5 396.8 L769.9 395.8 L769.2 394.9 L768.9 393.7 L769.2 392.5 L769.4 390.5 L769.3 388.4 L769.1 386.4 L768.9 384.4 L768.9 382.4 L768.7 380.4 L768.6 378.3 L768.7 376.3 L768.7 374.3 L768.7 372.2 L768.9 370.2Z" fill="#042346"/>
<path d="M772.2 368.1 L772.1 367.0 L772.6 365.9 L773.2 365.0 L773.7 363.9 L774.5 363.1 L775.6 362.6 L776.8 362.4 L777.9 362.4 L779.9 362.4 L781.9 362.1 L783.9 362.1 L785.9 362.3 L787.9 362.5 L789.9 362.7 L791.9 362.9 L793.9 363.0 L795.9 363.0 L797.9 362.8 L799.9 362.5 L801.9 362.3 L803.9 362.1 L805.9 362.1 L807.9 362.0 L809.9 362.2 L811.9 362.3 L813.9 362.1 L815.9 362.0 L817.9 362.3 L819.9 362.6 L821.9 362.8 L823.9 362.9 L825.9 362.7 L827.9 362.4 L829.9 362.2 L831.1 362.1 L832.3 362.3 L833.2 363.1 L833.8 364.2 L834.5 365.0 L835.3 365.9 L835.5 367.0 L835.5 368.1 L835.6 370.1 L835.5 372.2 L835.5 374.2 L835.3 376.2 L835.4 378.3 L835.7 380.3 L836.0 382.3 L835.9 384.4 L835.9 386.4 L836.0 388.4 L836.0 390.5 L836.1 392.5 L835.8 393.7 L835.0 394.6 L834.3 395.5 L833.8 396.4 L833.0 397.2 L832.1 397.7 L831.0 398.0 L829.9 398.3 L827.9 398.5 L825.9 398.3 L823.9 398.2 L821.9 398.5 L819.9 398.7 L817.9 398.6 L815.9 398.4 L813.9 398.3 L811.9 398.2 L809.9 398.0 L807.9 397.9 L805.9 398.0 L803.9 398.5 L801.9 398.5 L799.9 398.2 L797.9 398.0 L795.9 397.8 L793.9 397.8 L791.9 397.9 L789.9 397.7 L787.9 397.8 L785.9 398.2 L783.9 398.4 L781.9 398.1 L779.9 398.1 L777.9 398.4 L776.7 398.4 L775.6 398.0 L774.6 397.5 L773.5 396.9 L772.6 396.1 L772.0 394.9 L771.8 393.7 L771.8 392.5 L771.7 390.5 L771.7 388.4 L771.9 386.4 L771.8 384.4 L771.9 382.3 L772.3 380.3 L772.5 378.3 L772.5 376.2 L772.5 374.2 L772.3 372.2 L772.4 370.1Z" fill="#fdfbf7"/>
<path d="M703.0 458.4 L704.9 458.4 L706.9 458.3 L708.8 458.4 L710.7 458.6 L712.6 458.5 L714.6 458.4 L716.5 458.5 L718.4 458.6 L720.4 458.5 L722.3 458.4 L724.2 458.4 L726.1 458.4 L728.1 458.5 L730.0 458.5 L730.1 460.3 L730.1 462.2 L730.1 464.0 L730.1 465.8 L730.1 467.7 L730.0 469.5 L728.5 468.6 L727.0 467.8 L725.1 467.4 L723.0 466.9 L720.9 466.3 L718.5 465.8 L716.1 465.0 L713.6 464.0 L711.0 463.2 L708.3 462.2 L705.6 461.1 L702.9 459.8Z" fill="#042346"/>
<path d="M681.2 427.0 L681.1 425.8 L681.2 424.6 L681.6 423.5 L682.3 422.6 L682.9 421.6 L683.6 420.6 L684.4 419.6 L685.3 418.8 L686.4 418.3 L687.6 417.9 L688.8 418.0 L690.0 418.2 L692.0 418.4 L694.0 418.4 L695.9 418.3 L697.9 418.2 L699.9 418.2 L701.9 418.4 L703.9 418.3 L705.9 418.1 L707.8 418.0 L709.8 417.8 L711.8 417.7 L713.8 418.0 L715.8 418.2 L717.7 418.4 L719.7 418.4 L721.7 418.3 L723.7 418.2 L725.7 418.1 L727.6 418.0 L729.6 417.8 L731.6 417.9 L733.6 418.3 L735.6 418.3 L737.6 418.2 L739.5 418.3 L741.5 418.3 L743.5 418.2 L744.7 418.3 L745.8 418.4 L747.0 418.6 L748.1 419.1 L749.0 419.9 L749.8 420.7 L750.6 421.5 L751.2 422.6 L751.5 423.7 L751.7 424.8 L752.1 425.9 L752.4 427.0 L752.6 429.0 L752.7 431.1 L752.6 433.1 L752.6 435.2 L752.8 437.2 L752.9 439.2 L752.9 441.3 L752.7 443.3 L752.6 445.4 L752.4 447.4 L752.1 449.5 L751.8 451.5 L751.9 452.6 L752.1 453.8 L751.8 455.0 L751.2 456.0 L750.6 456.9 L749.9 457.9 L749.0 458.6 L747.9 459.0 L746.8 459.4 L745.7 459.9 L744.7 460.3 L743.5 460.6 L741.5 460.6 L739.5 460.4 L737.6 460.2 L735.6 460.2 L733.6 460.0 L731.6 460.0 L729.6 460.3 L727.6 460.6 L725.7 460.6 L723.7 460.4 L721.7 460.3 L719.7 460.5 L717.7 460.7 L715.8 460.7 L713.8 460.7 L711.8 460.7 L709.8 460.7 L707.8 460.7 L705.9 460.5 L703.9 460.5 L701.9 460.6 L699.9 460.7 L697.9 460.8 L695.9 460.9 L694.0 460.9 L692.0 460.7 L690.0 460.5 L688.9 460.1 L687.8 459.7 L686.7 459.5 L685.6 459.2 L684.6 458.5 L683.8 457.7 L683.0 456.9 L682.3 455.9 L681.9 454.9 L681.7 453.7 L681.5 452.6 L681.1 451.5 L681.1 449.5 L681.1 447.4 L681.2 445.4 L681.1 443.3 L681.0 441.3 L681.1 439.2 L681.0 437.2 L681.0 435.2 L681.2 433.1 L681.2 431.1 L681.3 429.0Z" fill="#042346"/>
<path d="M684.0 426.9 L684.1 425.8 L684.2 424.5 L684.7 423.4 L685.5 422.5 L686.6 421.9 L687.7 421.6 L688.8 421.3 L689.9 421.3 L691.9 421.3 L693.9 421.3 L695.8 421.3 L697.8 421.2 L699.8 421.2 L701.8 421.4 L703.8 421.3 L705.8 421.1 L707.7 421.0 L709.7 421.1 L711.7 421.2 L713.7 421.0 L715.7 420.8 L717.6 421.0 L719.6 421.1 L721.6 421.0 L723.6 421.0 L725.6 421.3 L727.5 421.2 L729.5 420.9 L731.5 420.8 L733.5 420.9 L735.5 421.0 L737.5 421.1 L739.4 420.9 L741.4 420.8 L743.4 420.8 L744.6 420.8 L745.9 421.0 L747.0 421.6 L747.8 422.5 L748.4 423.5 L748.8 424.7 L748.8 425.8 L748.9 426.9 L748.7 429.0 L748.6 431.0 L748.7 433.1 L748.9 435.1 L748.8 437.2 L748.9 439.2 L749.1 441.2 L749.2 443.3 L749.2 445.4 L749.2 447.4 L749.3 449.4 L749.4 451.5 L749.2 452.7 L748.6 453.6 L747.9 454.5 L747.4 455.5 L746.7 456.4 L745.6 456.9 L744.6 457.5 L743.4 457.7 L741.4 457.5 L739.4 457.3 L737.5 457.3 L735.5 457.1 L733.5 456.9 L731.5 457.1 L729.5 457.4 L727.5 457.4 L725.6 457.2 L723.6 457.2 L721.6 457.3 L719.6 457.4 L717.6 457.2 L715.7 457.2 L713.7 457.3 L711.7 457.0 L709.7 457.0 L707.7 457.4 L705.8 457.5 L703.8 457.3 L701.8 457.1 L699.8 457.0 L697.8 456.8 L695.8 456.9 L693.9 457.0 L691.9 457.1 L689.9 457.1 L688.8 457.2 L687.7 456.8 L686.7 456.2 L685.8 455.6 L685.1 454.7 L684.7 453.6 L684.6 452.6 L684.3 451.5 L684.0 449.4 L684.0 447.4 L684.1 445.4 L684.3 443.3 L684.3 441.2 L684.0 439.2 L684.1 437.2 L684.3 435.1 L684.3 433.1 L684.1 431.0 L683.9 429.0Z" fill="#fdfbf7"/>
<path d="M638.5 517.5 L640.4 517.5 L642.4 517.5 L644.3 517.4 L646.2 517.5 L648.1 517.7 L650.1 517.7 L652.0 517.6 L653.9 517.6 L655.9 517.5 L657.8 517.4 L659.7 517.4 L661.6 517.5 L663.6 517.4 L665.6 517.4 L665.3 519.3 L665.2 521.2 L665.2 523.0 L665.2 524.8 L665.3 526.7 L665.4 528.4 L664.0 527.6 L662.6 526.6 L660.7 526.1 L658.6 525.6 L656.5 524.9 L654.1 524.4 L651.6 523.9 L649.1 523.1 L646.5 522.1 L643.9 521.1 L641.1 520.1 L638.4 518.8Z" fill="#042346"/>
<path d="M616.5 486.5 L616.7 485.3 L616.8 484.2 L617.1 483.0 L617.8 482.0 L618.5 481.1 L619.2 480.2 L620.0 479.4 L620.9 478.5 L622.0 478.1 L623.3 478.1 L624.4 477.8 L625.5 477.2 L627.5 477.2 L629.5 477.4 L631.6 477.4 L633.6 477.2 L635.6 477.4 L637.6 477.6 L639.6 477.6 L641.6 477.5 L643.7 477.5 L645.7 477.4 L647.7 477.4 L649.7 477.3 L651.7 477.1 L653.8 477.0 L655.8 477.4 L657.8 477.8 L659.8 477.6 L661.8 477.2 L663.9 477.0 L665.9 477.0 L667.9 477.2 L669.9 477.5 L671.9 477.7 L673.9 477.8 L676.0 477.7 L678.0 477.7 L680.0 477.9 L681.1 477.8 L682.3 477.9 L683.3 478.5 L684.4 478.9 L685.6 479.2 L686.5 480.0 L686.9 481.2 L687.4 482.2 L688.2 483.1 L688.6 484.2 L688.9 485.3 L689.3 486.5 L689.3 488.5 L689.1 490.5 L689.1 492.5 L689.2 494.5 L689.0 496.5 L688.8 498.5 L688.8 500.5 L688.6 502.5 L688.4 504.5 L688.7 506.5 L688.9 508.5 L688.9 510.5 L688.9 511.7 L688.8 512.9 L688.5 514.0 L687.8 515.0 L687.1 515.9 L686.4 516.9 L685.4 517.5 L684.3 518.0 L683.4 518.8 L682.4 519.4 L681.2 519.8 L680.0 519.8 L678.0 519.5 L676.0 519.4 L673.9 519.6 L671.9 519.4 L669.9 519.1 L667.9 519.1 L665.9 519.1 L663.9 519.1 L661.8 519.1 L659.8 519.3 L657.8 519.3 L655.8 519.1 L653.8 519.4 L651.7 519.7 L649.7 519.7 L647.7 519.8 L645.7 519.7 L643.7 519.7 L641.6 519.7 L639.6 519.6 L637.6 519.9 L635.6 520.1 L633.6 520.0 L631.6 519.9 L629.5 519.7 L627.5 519.3 L625.5 519.1 L624.4 519.2 L623.2 519.0 L622.2 518.5 L621.2 518.0 L620.1 517.6 L619.1 516.9 L618.4 515.9 L617.8 514.9 L617.0 514.0 L616.5 512.9 L616.4 511.7 L616.3 510.5 L616.3 508.5 L616.3 506.5 L616.3 504.5 L616.5 502.5 L616.9 500.5 L616.8 498.5 L616.5 496.5 L616.4 494.5 L616.5 492.5 L616.5 490.5 L616.5 488.5Z" fill="#042346"/>
<path d="M620.0 486.4 L619.8 485.3 L619.9 484.1 L620.7 483.2 L621.4 482.4 L622.0 481.4 L623.1 480.7 L624.2 480.5 L625.4 480.3 L627.4 480.3 L629.4 480.6 L631.5 480.8 L633.5 480.7 L635.5 480.6 L637.5 480.9 L639.5 480.8 L641.5 480.5 L643.6 480.5 L645.6 480.6 L647.6 480.6 L649.6 480.4 L651.6 480.1 L653.7 480.1 L655.7 480.3 L657.7 480.8 L659.7 481.0 L661.7 481.0 L663.8 480.9 L665.8 480.8 L667.8 480.6 L669.8 480.6 L671.8 480.4 L673.8 480.2 L675.9 480.4 L677.9 480.6 L679.9 480.8 L681.0 481.0 L682.0 481.2 L683.0 481.7 L684.1 482.2 L684.9 483.1 L685.2 484.2 L685.7 485.2 L685.9 486.4 L685.6 488.4 L685.7 490.4 L685.6 492.4 L685.3 494.4 L685.5 496.4 L685.7 498.4 L685.5 500.5 L685.6 502.5 L685.6 504.5 L685.7 506.5 L685.7 508.5 L685.7 510.5 L685.9 511.7 L685.7 512.9 L685.1 514.0 L684.2 514.8 L683.2 515.5 L682.2 516.0 L681.1 516.4 L679.9 516.3 L677.9 515.9 L675.9 515.8 L673.8 515.9 L671.8 516.0 L669.8 516.3 L667.8 516.4 L665.8 516.5 L663.8 516.5 L661.7 516.4 L659.7 516.6 L657.7 516.6 L655.7 516.3 L653.7 516.3 L651.6 516.3 L649.6 516.5 L647.6 516.7 L645.6 516.7 L643.6 516.6 L641.5 516.4 L639.5 516.3 L637.5 516.5 L635.5 516.4 L633.5 516.4 L631.5 516.4 L629.4 516.2 L627.4 516.5 L625.4 516.8 L624.2 516.5 L623.2 515.8 L622.2 515.3 L621.1 514.8 L620.5 513.8 L620.3 512.6 L619.9 511.6 L619.9 510.5 L620.1 508.5 L620.0 506.5 L619.7 504.5 L619.3 502.5 L619.4 500.5 L619.6 498.4 L619.6 496.4 L619.7 494.4 L619.7 492.4 L619.6 490.4 L619.8 488.4Z" fill="#fdfbf7"/>
<path d="M637.0 577.5 L638.9 577.4 L640.9 577.3 L642.8 577.4 L644.7 577.4 L646.6 577.6 L648.6 577.7 L650.5 577.7 L652.4 577.6 L654.4 577.4 L656.3 577.3 L658.2 577.3 L660.1 577.4 L662.1 577.5 L664.0 577.5 L663.9 579.3 L663.7 581.2 L663.8 583.0 L664.0 584.8 L663.8 586.7 L663.9 588.4 L662.6 587.5 L661.1 586.5 L659.2 586.1 L657.1 585.6 L654.9 585.1 L652.6 584.5 L650.1 583.9 L647.6 583.0 L645.0 582.1 L642.4 581.1 L639.7 580.0 L637.0 578.7Z" fill="#042346"/>
<path d="M614.8 546.2 L614.6 545.0 L614.7 543.8 L614.9 542.6 L615.4 541.5 L616.1 540.5 L616.8 539.5 L617.8 538.8 L618.8 538.1 L619.9 537.5 L621.1 537.3 L622.3 537.2 L623.5 537.2 L625.5 537.3 L627.5 537.1 L629.6 537.0 L631.6 537.3 L633.6 537.4 L635.6 537.3 L637.6 537.2 L639.6 537.4 L641.7 537.6 L643.7 537.5 L645.7 537.3 L647.7 537.4 L649.7 537.7 L651.8 537.7 L653.8 537.3 L655.8 536.8 L657.8 536.9 L659.8 537.5 L661.9 537.5 L663.9 537.4 L665.9 537.6 L667.9 537.6 L669.9 537.5 L671.9 537.3 L674.0 537.1 L676.0 537.2 L678.0 537.3 L679.2 537.5 L680.3 537.7 L681.4 538.1 L682.5 538.5 L683.5 539.1 L684.4 539.8 L685.4 540.5 L686.2 541.4 L686.6 542.7 L686.9 543.8 L687.1 545.0 L687.2 546.2 L687.4 548.2 L687.5 550.2 L687.6 552.3 L687.6 554.3 L687.3 556.3 L686.9 558.4 L686.8 560.4 L687.0 562.4 L686.9 564.4 L686.7 566.5 L686.9 568.5 L687.0 570.5 L686.8 571.7 L686.8 572.9 L686.8 574.1 L686.3 575.3 L685.3 576.1 L684.4 576.9 L683.6 577.8 L682.6 578.5 L681.5 579.0 L680.4 579.4 L679.2 579.5 L678.0 579.1 L676.0 579.0 L674.0 579.1 L671.9 579.2 L669.9 579.3 L667.9 579.3 L665.9 579.3 L663.9 579.1 L661.9 578.9 L659.8 579.3 L657.8 579.8 L655.8 580.0 L653.8 579.9 L651.8 579.5 L649.7 579.4 L647.7 579.4 L645.7 579.2 L643.7 579.1 L641.7 579.1 L639.6 579.1 L637.6 579.4 L635.6 579.6 L633.6 579.3 L631.6 578.9 L629.6 578.7 L627.5 578.9 L625.5 579.3 L623.5 579.1 L622.4 578.7 L621.3 578.5 L620.2 578.5 L619.1 578.1 L618.0 577.6 L617.1 576.9 L616.3 576.0 L615.6 575.1 L615.2 573.9 L614.9 572.8 L614.7 571.7 L614.8 570.5 L614.9 568.5 L614.6 566.5 L614.3 564.4 L614.0 562.4 L613.9 560.4 L614.2 558.4 L614.5 556.3 L614.5 554.3 L614.4 552.3 L614.7 550.2 L614.9 548.2Z" fill="#042346"/>
<path d="M617.6 546.1 L617.9 545.0 L618.3 544.0 L618.7 543.0 L619.4 542.1 L620.2 541.3 L621.2 540.9 L622.3 540.4 L623.4 539.9 L625.4 539.8 L627.4 539.9 L629.5 539.8 L631.5 539.9 L633.5 540.4 L635.5 540.5 L637.5 540.1 L639.5 539.9 L641.6 540.0 L643.6 540.3 L645.6 540.3 L647.6 540.3 L649.6 540.4 L651.7 540.3 L653.7 540.6 L655.7 540.7 L657.7 540.5 L659.7 540.3 L661.8 540.2 L663.8 540.1 L665.8 540.0 L667.8 539.8 L669.8 539.9 L671.8 540.3 L673.9 540.5 L675.9 540.6 L677.9 540.5 L679.0 540.5 L680.1 540.8 L681.1 541.3 L682.1 541.9 L682.9 542.7 L683.5 543.8 L684.0 544.9 L684.2 546.1 L684.2 548.1 L684.1 550.2 L683.9 552.2 L683.9 554.2 L684.0 556.3 L684.1 558.3 L683.9 560.3 L683.9 562.4 L684.0 564.4 L684.0 566.4 L684.0 568.5 L683.7 570.5 L683.3 571.6 L682.9 572.6 L682.6 573.6 L682.0 574.6 L681.2 575.4 L680.2 576.0 L679.0 576.2 L677.9 576.5 L675.9 576.5 L673.9 576.2 L671.8 576.2 L669.8 576.2 L667.8 576.3 L665.8 576.4 L663.8 576.1 L661.8 575.9 L659.7 576.1 L657.7 576.1 L655.7 575.9 L653.7 575.6 L651.7 575.7 L649.6 576.1 L647.6 576.2 L645.6 576.0 L643.6 576.0 L641.6 576.2 L639.5 576.2 L637.5 576.2 L635.5 576.2 L633.5 576.4 L631.5 576.7 L629.5 576.8 L627.4 576.8 L625.4 576.6 L623.4 576.2 L622.3 575.9 L621.3 575.7 L620.2 575.3 L619.1 574.8 L618.4 573.9 L618.0 572.7 L617.4 571.7 L617.0 570.5 L617.1 568.5 L617.3 566.4 L617.4 564.4 L617.3 562.4 L617.5 560.3 L617.8 558.3 L618.0 556.3 L618.0 554.2 L618.0 552.2 L617.8 550.2 L617.6 548.1Z" fill="#fdfbf7"/>
<path d="M544.6 637.1 L546.4 637.2 L548.4 637.1 L550.3 637.0 L552.2 637.1 L554.1 637.2 L556.1 637.2 L558.0 637.0 L559.9 636.8 L561.9 636.8 L563.8 637.0 L565.7 637.2 L567.6 637.1 L569.6 637.0 L571.5 637.0 L571.3 638.8 L571.4 640.7 L571.4 642.5 L571.4 644.3 L571.5 646.2 L571.5 647.9 L570.1 647.1 L568.6 646.2 L566.7 645.6 L564.6 645.2 L562.3 644.8 L560.0 644.3 L557.6 643.5 L555.1 642.6 L552.5 641.6 L549.9 640.6 L547.2 639.5 L544.5 638.2Z" fill="#042346"/>
<path d="M523.9 605.5 L524.0 604.3 L524.3 603.2 L524.8 602.1 L525.2 601.0 L525.7 599.9 L526.6 599.1 L527.7 598.5 L528.6 597.8 L529.5 597.1 L530.6 596.6 L531.8 596.7 L533.0 596.9 L535.0 597.0 L537.0 597.0 L539.1 596.9 L541.1 596.6 L543.1 596.3 L545.1 596.2 L547.1 596.1 L549.2 596.2 L551.2 596.6 L553.2 596.6 L555.2 596.5 L557.2 596.8 L559.3 596.7 L561.3 596.5 L563.3 596.6 L565.3 596.4 L567.3 596.2 L569.4 596.3 L571.4 596.7 L573.4 596.8 L575.4 596.9 L577.4 597.0 L579.5 597.0 L581.5 596.9 L583.5 596.7 L584.7 596.6 L585.8 596.9 L586.8 597.5 L587.8 598.0 L588.7 598.7 L589.6 599.4 L590.5 600.1 L591.1 601.1 L591.6 602.1 L592.1 603.2 L592.6 604.3 L593.0 605.5 L593.2 607.5 L593.0 609.6 L592.6 611.6 L592.5 613.7 L592.4 615.7 L592.3 617.8 L592.6 619.8 L592.8 621.8 L592.5 623.9 L592.5 625.9 L592.5 628.0 L592.3 630.0 L592.2 631.1 L592.5 632.4 L592.2 633.6 L591.6 634.7 L590.9 635.7 L590.2 636.7 L589.3 637.6 L588.3 638.3 L587.2 638.9 L586.0 639.3 L584.7 639.2 L583.5 638.8 L581.5 638.7 L579.5 638.7 L577.4 638.7 L575.4 638.7 L573.4 639.0 L571.4 639.1 L569.4 638.7 L567.3 638.7 L565.3 639.0 L563.3 639.4 L561.3 639.4 L559.3 639.2 L557.2 639.0 L555.2 638.8 L553.2 638.9 L551.2 638.8 L549.2 638.7 L547.1 638.6 L545.1 638.4 L543.1 638.5 L541.1 638.6 L539.1 638.7 L537.0 639.0 L535.0 639.1 L533.0 638.8 L531.9 638.7 L530.7 638.7 L529.5 638.3 L528.6 637.7 L527.7 637.0 L526.8 636.2 L526.0 635.3 L525.5 634.3 L524.9 633.4 L524.6 632.3 L524.5 631.1 L524.3 630.0 L524.3 628.0 L524.4 625.9 L524.4 623.9 L524.3 621.8 L524.3 619.8 L524.2 617.8 L524.2 615.7 L524.2 613.7 L524.1 611.6 L524.1 609.6 L524.0 607.5Z" fill="#042346"/>
<path d="M526.5 605.4 L526.9 604.2 L527.7 603.3 L528.3 602.4 L528.9 601.4 L529.7 600.6 L530.7 600.1 L531.8 599.8 L532.9 599.7 L534.9 599.7 L536.9 599.8 L539.0 599.9 L541.0 599.7 L543.0 599.4 L545.0 599.6 L547.0 599.7 L549.1 599.4 L551.1 599.3 L553.1 599.6 L555.1 599.7 L557.1 599.8 L559.2 599.8 L561.2 599.7 L563.2 599.7 L565.2 599.7 L567.2 599.5 L569.3 599.4 L571.3 599.6 L573.3 599.5 L575.3 599.5 L577.3 599.4 L579.4 599.1 L581.4 599.1 L583.4 599.4 L584.5 599.7 L585.7 599.9 L586.8 600.2 L587.7 601.1 L588.1 602.3 L588.4 603.3 L588.7 604.3 L588.7 605.4 L588.8 607.4 L588.9 609.5 L589.0 611.5 L589.1 613.6 L589.2 615.6 L589.3 617.7 L589.2 619.8 L589.0 621.8 L589.1 623.9 L588.9 625.9 L588.7 628.0 L589.0 630.0 L589.0 631.1 L588.7 632.2 L588.2 633.2 L587.4 634.0 L586.6 634.7 L585.7 635.6 L584.6 636.0 L583.4 635.9 L581.4 635.9 L579.4 636.0 L577.3 635.8 L575.3 636.0 L573.3 636.1 L571.3 635.7 L569.3 635.4 L567.2 635.4 L565.2 635.7 L563.2 635.9 L561.2 635.7 L559.2 635.5 L557.1 635.5 L555.1 635.6 L553.1 635.7 L551.1 635.9 L549.1 636.2 L547.0 636.2 L545.0 636.1 L543.0 635.9 L541.0 636.1 L539.0 636.2 L536.9 635.9 L534.9 635.8 L532.9 636.0 L531.7 635.9 L530.5 635.7 L529.4 635.3 L528.5 634.4 L527.8 633.4 L527.4 632.3 L527.2 631.1 L527.3 630.0 L527.3 628.0 L527.2 625.9 L527.1 623.9 L527.2 621.8 L527.3 619.8 L527.2 617.7 L526.9 615.6 L526.8 613.6 L527.0 611.5 L526.8 609.5 L526.6 607.4Z" fill="#fdfbf7"/>
<path d="M425.6 696.7 L427.4 696.6 L429.4 696.4 L431.3 696.3 L433.2 696.5 L435.1 696.6 L437.1 696.6 L439.0 696.5 L440.9 696.6 L442.9 696.7 L444.8 696.7 L446.7 696.5 L448.6 696.4 L450.6 696.4 L452.4 696.6 L452.4 698.3 L452.3 700.2 L452.3 702.0 L452.3 703.8 L452.4 705.7 L452.5 707.6 L450.9 706.8 L449.4 706.0 L447.6 705.5 L445.5 704.9 L443.4 704.3 L441.1 703.5 L438.7 702.7 L436.1 702.0 L433.5 701.1 L430.9 700.0 L428.2 698.9 L425.6 697.6Z" fill="#042346"/>
<path d="M405.6 665.0 L405.8 663.8 L406.3 662.7 L407.1 661.7 L407.7 660.8 L408.0 659.6 L408.5 658.5 L409.3 657.6 L410.3 656.8 L411.4 656.4 L412.6 656.2 L413.8 656.2 L415.0 656.2 L417.0 656.2 L419.0 656.4 L421.0 656.4 L423.0 656.2 L425.0 656.1 L427.0 656.2 L429.0 656.3 L431.0 656.4 L433.0 656.3 L435.0 656.3 L437.0 656.2 L439.0 655.8 L441.0 655.4 L443.0 655.4 L445.0 655.8 L447.0 656.2 L449.0 656.2 L451.0 656.1 L453.0 656.1 L455.0 656.2 L457.0 656.1 L459.0 656.0 L461.0 656.0 L463.0 656.1 L465.0 656.4 L466.1 656.6 L467.2 656.7 L468.3 656.9 L469.6 657.1 L470.7 657.6 L471.6 658.4 L472.4 659.3 L473.1 660.3 L473.5 661.5 L473.6 662.7 L473.9 663.8 L474.3 665.0 L474.4 667.0 L474.1 669.1 L473.9 671.1 L474.0 673.2 L474.0 675.2 L473.9 677.2 L474.0 679.3 L474.1 681.3 L474.2 683.4 L474.1 685.4 L474.1 687.5 L474.1 689.5 L474.1 690.7 L473.8 691.9 L473.3 692.9 L472.6 693.9 L472.0 694.9 L471.5 696.0 L470.7 696.9 L469.5 697.4 L468.4 697.8 L467.3 697.9 L466.1 698.2 L465.0 698.7 L463.0 698.8 L461.0 698.9 L459.0 698.9 L457.0 698.9 L455.0 698.7 L453.0 698.6 L451.0 698.6 L449.0 698.4 L447.0 698.3 L445.0 698.4 L443.0 698.3 L441.0 698.3 L439.0 698.3 L437.0 698.5 L435.0 698.5 L433.0 698.6 L431.0 698.7 L429.0 698.8 L427.0 698.8 L425.0 698.6 L423.0 698.5 L421.0 698.5 L419.0 698.4 L417.0 698.7 L415.0 698.7 L413.8 698.5 L412.6 698.3 L411.5 697.9 L410.6 697.2 L409.7 696.4 L408.8 695.7 L408.1 694.8 L407.3 693.9 L406.5 693.0 L406.2 691.9 L406.0 690.7 L405.8 689.5 L406.0 687.5 L406.2 685.4 L406.3 683.4 L406.3 681.3 L406.3 679.3 L406.1 677.2 L405.9 675.2 L405.8 673.2 L405.9 671.1 L405.9 669.1 L405.7 667.0Z" fill="#042346"/>
<path d="M409.7 664.9 L409.5 663.8 L409.7 662.7 L410.3 661.8 L410.8 660.8 L411.6 659.9 L412.7 659.6 L413.8 659.3 L414.9 658.9 L416.9 658.8 L418.9 658.7 L420.9 658.7 L422.9 658.7 L424.9 658.5 L426.9 658.6 L428.9 659.2 L430.9 659.3 L432.9 659.0 L434.9 659.2 L436.9 659.3 L438.9 658.9 L440.9 658.8 L442.9 658.9 L444.9 659.1 L446.9 659.2 L448.9 659.1 L450.9 658.9 L452.9 659.0 L454.9 659.1 L456.9 659.0 L458.9 658.9 L460.9 658.9 L462.9 659.1 L464.9 659.1 L466.0 659.3 L467.0 659.7 L467.9 660.3 L468.7 661.1 L469.5 661.8 L470.1 662.7 L470.4 663.8 L470.6 664.9 L470.9 666.9 L470.9 669.0 L470.8 671.0 L471.1 673.1 L471.0 675.1 L470.6 677.2 L470.5 679.2 L470.7 681.3 L470.8 683.4 L470.9 685.4 L471.1 687.5 L471.0 689.5 L470.8 690.7 L470.3 691.7 L469.7 692.7 L468.9 693.5 L468.0 694.1 L467.1 694.8 L466.1 695.4 L464.9 695.6 L462.9 695.4 L460.9 695.4 L458.9 695.6 L456.9 695.5 L454.9 695.5 L452.9 695.8 L450.9 695.6 L448.9 695.2 L446.9 695.0 L444.9 695.1 L442.9 695.3 L440.9 695.4 L438.9 695.4 L436.9 695.3 L434.9 695.0 L432.9 695.0 L430.9 695.3 L428.9 695.6 L426.9 695.6 L424.9 695.3 L422.9 695.3 L420.9 695.3 L418.9 695.1 L416.9 694.9 L414.9 694.9 L413.9 694.7 L412.9 694.3 L411.9 694.0 L410.8 693.6 L410.0 692.8 L409.7 691.7 L409.5 690.6 L409.1 689.5 L408.8 687.5 L408.6 685.4 L408.6 683.4 L408.8 681.3 L408.8 679.2 L408.8 677.2 L408.8 675.1 L409.2 673.1 L409.3 671.0 L409.2 669.0 L409.6 666.9Z" fill="#fdfbf7"/>
</g>
<g id="pcts">
<text class="pct" x="943.30" y="209.00" textLength="47.89" lengthAdjust="spacingAndGlyphs">51%</text>
<text class="pct" x="925.50" y="268.80" textLength="52.04" lengthAdjust="spacingAndGlyphs">49%</text>
<text class="pct" x="887.20" y="328.50" textLength="52.62" lengthAdjust="spacingAndGlyphs">45%</text>
<text class="pct" x="777.20" y="388.50" textLength="50.79" lengthAdjust="spacingAndGlyphs">37%</text>
<text class="pct" x="690.00" y="447.30" textLength="51.79" lengthAdjust="spacingAndGlyphs">33%</text>
<text class="pct" x="625.00" y="506.80" textLength="53.29" lengthAdjust="spacingAndGlyphs">26%</text>
<text class="pct" x="623.50" y="566.50" textLength="52.53" lengthAdjust="spacingAndGlyphs">26%</text>
<text class="pct" x="532.50" y="625.80" textLength="47.98" lengthAdjust="spacingAndGlyphs">21%</text>
<text class="pct" x="414.00" y="685.30" textLength="49.21" lengthAdjust="spacingAndGlyphs">12%</text>
</g>
<g id="cats">
<text class="cat"><tspan x="123.50" y="220.30" textLength="152.20" lengthAdjust="spacingAndGlyphs">Promotional offers or</tspan> <tspan x="214.20" y="236.30" textLength="61.50" lengthAdjust="spacingAndGlyphs">coupons</tspan></text>
<text class="cat"><tspan x="130.00" y="279.70" textLength="145.72" lengthAdjust="spacingAndGlyphs">Event information or</tspan> <tspan x="191.80" y="295.50" textLength="84.22" lengthAdjust="spacingAndGlyphs">registration</tspan></text>
<text class="cat"><tspan x="149.30" y="338.80" textLength="126.41" lengthAdjust="spacingAndGlyphs">Product details or</tspan> <tspan x="173.50" y="354.40" textLength="103.19" lengthAdjust="spacingAndGlyphs">specifications</tspan></text>
<text class="cat"><tspan x="98.70" y="397.50" textLength="175.81" lengthAdjust="spacingAndGlyphs">Video demonstrations or</tspan> <tspan x="214.20" y="414.00" textLength="60.29" lengthAdjust="spacingAndGlyphs">tutorials</tspan></text>
<text class="cat"><tspan x="92.80" y="457.00" textLength="182.90" lengthAdjust="spacingAndGlyphs">Loyalty program signup or</tspan> <tspan x="191.80" y="473.00" textLength="84.90" lengthAdjust="spacingAndGlyphs">information</tspan></text>
<text class="cat"><tspan x="137.20" y="522.20" textLength="137.91" lengthAdjust="spacingAndGlyphs">Survey or feedback</tspan> <tspan x="234.00" y="538.30" textLength="42.04" lengthAdjust="spacingAndGlyphs">forms</tspan></text>
<text class="cat"><tspan x="186.75" y="574.70" textLength="89.05" lengthAdjust="spacingAndGlyphs">Social media</tspan> <tspan x="233.75" y="590.20" textLength="42.07" lengthAdjust="spacingAndGlyphs">pages</tspan></text>
<text class="cat"><tspan x="86.70" y="634.40" textLength="189.01" lengthAdjust="spacingAndGlyphs">Company website for more</tspan> <tspan x="191.80" y="650.30" textLength="84.90" lengthAdjust="spacingAndGlyphs">information</tspan></text>
<text class="cat"><tspan x="99.80" y="693.40" textLength="176.91" lengthAdjust="spacingAndGlyphs">Landing pages tailored to</tspan> <tspan x="139.00" y="709.00" textLength="137.71" lengthAdjust="spacingAndGlyphs">specific campaigns</tspan></text>
</g>
</svg>
</body>
</html>
